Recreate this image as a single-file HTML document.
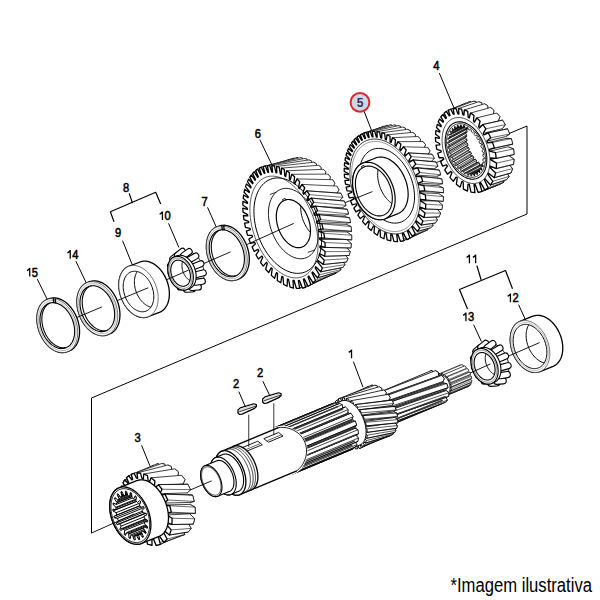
<!DOCTYPE html>
<html><head><meta charset="utf-8"><style>html,body{margin:0;padding:0;background:#fff;}svg{display:block;}</style></head>
<body><svg width="600" height="600" viewBox="0 0 600 600">
<defs><clipPath id="c1"><path d="M474.88,175.43 L474.64,173.41 L475.7,172.99 L476.93,174.6 L477.68,174.16 L477.19,172.12 L478.1,171.39 L479.46,172.74 L480.09,172.08 L479.35,170.08 L480.09,169.08 L481.54,170.13 L482.02,169.27 L481.06,167.38 L481.6,166.14 L483.08,166.85 L483.41,165.82 L482.25,164.11 L482.57,162.66 L484.04,163.01 L484.2,161.85 L482.89,160.37 L482.99,158.77 L484.39,158.74 L484.37,157.49 L482.96,156.29 L482.82,154.6 L484.11,154.19 L483.92,152.89 L482.45,152.02 L482.08,150.29 L483.21,149.52 L482.86,148.21 L481.38,147.7 L480.8,145.99 L481.73,144.88 L481.22,143.61 L479.78,143.47 L479.01,141.84 L479.71,140.44 L479.06,139.25 L477.72,139.48 L476.77,137.98 L477.23,136.33 L476.46,135.26 L475.25,135.87 L474.17,134.55 L474.36,132.71 L473.5,131.8 L472.47,132.75 L471.3,131.67 L471.21,129.69 L470.29,128.97 L469.48,130.24 L468.24,129.42 L467.88,127.39 L466.93,126.88 L466.36,128.42 L465.1,127.9 L464.49,125.86 L463.54,125.59 L463.23,127.35 L462,127.14 L461.15,125.18 L460.23,125.15 L460.19,127.07 L459.03,127.18 L457.97,125.36 L457.12,125.57 L457.36,127.59 L456.3,128.01 L455.07,126.4 L454.32,126.84 L454.81,128.88 L453.9,129.61 L452.54,128.26 L451.91,128.92 L452.65,130.92 L451.91,131.92 L450.46,130.87 L449.98,131.73 L450.94,133.62 L450.4,134.86 L448.92,134.15 L448.59,135.18 L449.75,136.89 L449.43,138.34 L447.96,137.99 L447.8,139.15 L449.11,140.63 L449.01,142.23 L447.61,142.26 L447.63,143.51 L449.04,144.71 L449.18,146.4 L447.89,146.81 L448.08,148.11 L449.55,148.98 L449.92,150.71 L448.79,151.48 L449.14,152.79 L450.62,153.3 L451.2,155.01 L450.27,156.12 L450.78,157.39 L452.22,157.53 L452.99,159.16 L452.29,160.56 L452.94,161.75 L454.28,161.52 L455.23,163.02 L454.77,164.67 L455.54,165.74 L456.75,165.13 L457.83,166.45 L457.64,168.29 L458.5,169.2 L459.53,168.25 L460.7,169.33 L460.79,171.31 L461.71,172.03 L462.52,170.76 L463.76,171.58 L464.12,173.61 L465.07,174.12 L465.64,172.58 L466.9,173.1 L467.51,175.14 L468.46,175.41 L468.77,173.65 L470,173.86 L470.85,175.82 L471.77,175.85 L471.81,173.93 L472.97,173.82 L474.03,175.64Z"/></clipPath><clipPath id="c2"><path d="M383.61,215.1 L384.62,214.64 L385.58,214.07 L386.48,213.4 L387.34,212.64 L388.13,211.79 L388.87,210.84 L389.54,209.82 L390.14,208.71 L390.68,207.52 L391.14,206.27 L391.53,204.95 L391.84,203.56 L392.08,202.13 L392.23,200.65 L392.31,199.12 L392.31,197.57 L392.24,195.98 L392.08,194.37 L391.84,192.75 L391.53,191.12 L391.14,189.49 L390.68,187.87 L390.15,186.25 L389.54,184.66 L388.87,183.1 L388.14,181.57 L387.34,180.08 L386.49,178.64 L385.58,177.25 L384.62,175.92 L383.62,174.66 L382.57,173.46 L381.49,172.34 L380.38,171.3 L379.23,170.34 L378.07,169.47 L376.88,168.7 L375.69,168.02 L374.48,167.43 L373.27,166.95 L372.07,166.57 L370.87,166.3 L369.69,166.13 L368.52,166.07 L367.38,166.12 L366.26,166.27 L365.18,166.53 L364.13,166.89 L363.13,167.35 L362.17,167.92 L361.26,168.59 L360.41,169.35 L359.61,170.2 L358.88,171.15 L358.21,172.17 L357.6,173.28 L357.07,174.47 L356.61,175.72 L356.22,177.05 L355.91,178.43 L355.67,179.86 L355.51,181.34 L355.43,182.87 L355.43,184.42 L355.51,186.01 L355.67,187.62 L355.91,189.24 L356.22,190.87 L356.61,192.5 L357.07,194.13 L357.6,195.74 L358.2,197.33 L358.87,198.89 L359.61,200.42 L360.41,201.91 L361.26,203.35 L362.17,204.74 L363.12,206.07 L364.13,207.34 L365.17,208.53 L366.26,209.65 L367.37,210.69 L368.51,211.65 L369.68,212.52 L370.86,213.29 L372.06,213.97 L373.27,214.56 L374.47,215.04 L375.68,215.42 L376.88,215.69 L378.06,215.86 L379.23,215.92 L380.37,215.87 L381.48,215.72 L382.57,215.46 L383.61,215.1Z"/></clipPath><clipPath id="c3"><path d="M301.95,247.07 L302.9,246.67 L303.81,246.17 L304.67,245.57 L305.49,244.88 L306.25,244.09 L306.96,243.22 L307.61,242.27 L308.2,241.23 L308.73,240.12 L309.19,238.94 L309.58,237.69 L309.91,236.38 L310.16,235.02 L310.34,233.61 L310.45,232.15 L310.49,230.66 L310.45,229.14 L310.34,227.59 L310.16,226.03 L309.91,224.46 L309.58,222.88 L309.19,221.31 L308.72,219.74 L308.2,218.19 L307.61,216.67 L306.95,215.17 L306.24,213.71 L305.48,212.3 L304.66,210.93 L303.8,209.61 L302.89,208.36 L301.94,207.17 L300.95,206.05 L299.93,205 L298.89,204.04 L297.82,203.16 L296.73,202.37 L295.62,201.66 L294.51,201.05 L293.39,200.54 L292.27,200.13 L291.16,199.81 L290.06,199.6 L288.97,199.49 L287.9,199.49 L286.85,199.59 L285.83,199.79 L284.85,200.09 L283.9,200.49 L282.99,200.99 L282.12,201.59 L281.31,202.28 L280.54,203.07 L279.83,203.94 L279.18,204.89 L278.59,205.93 L278.06,207.04 L277.6,208.22 L277.21,209.47 L276.89,210.78 L276.63,212.14 L276.45,213.55 L276.34,215.01 L276.3,216.5 L276.34,218.02 L276.45,219.57 L276.63,221.13 L276.89,222.7 L277.21,224.28 L277.61,225.85 L278.07,227.42 L278.6,228.97 L279.19,230.49 L279.84,231.99 L280.55,233.45 L281.31,234.86 L282.13,236.23 L283,237.55 L283.9,238.8 L284.85,239.99 L285.84,241.11 L286.86,242.15 L287.91,243.12 L288.98,244 L290.07,244.79 L291.17,245.5 L292.28,246.11 L293.4,246.62 L294.52,247.03 L295.63,247.35 L296.74,247.56 L297.83,247.67 L298.9,247.67 L299.94,247.57 L300.96,247.37 L301.95,247.07Z"/></clipPath><clipPath id="c4"><path d="M235.11,276.13 L236.11,275.72 L237.07,275.2 L237.98,274.59 L238.85,273.89 L239.66,273.11 L240.42,272.23 L241.12,271.28 L241.76,270.25 L242.34,269.15 L242.85,267.98 L243.29,266.74 L243.66,265.45 L243.95,264.11 L244.18,262.72 L244.33,261.29 L244.4,259.82 L244.4,258.33 L244.33,256.82 L244.17,255.29 L243.95,253.75 L243.65,252.21 L243.28,250.68 L242.84,249.15 L242.33,247.65 L241.75,246.17 L241.11,244.72 L240.41,243.3 L239.65,241.93 L238.83,240.61 L237.97,239.34 L237.05,238.13 L236.09,236.99 L235.09,235.91 L234.06,234.92 L232.99,234 L231.9,233.16 L230.79,232.41 L229.66,231.74 L228.52,231.17 L227.37,230.7 L226.21,230.32 L225.06,230.04 L223.92,229.86 L222.79,229.78 L221.68,229.8 L220.59,229.92 L219.52,230.14 L218.49,230.47 L217.49,230.88 L216.53,231.4 L215.62,232.01 L214.75,232.71 L213.94,233.49 L213.18,234.37 L212.48,235.32 L211.84,236.35 L211.26,237.45 L210.75,238.62 L210.31,239.86 L209.94,241.15 L209.65,242.49 L209.42,243.88 L209.27,245.31 L209.2,246.78 L209.2,248.27 L209.27,249.78 L209.43,251.31 L209.65,252.85 L209.95,254.39 L210.32,255.92 L210.76,257.45 L211.27,258.95 L211.85,260.43 L212.49,261.88 L213.19,263.3 L213.95,264.67 L214.77,265.99 L215.63,267.26 L216.55,268.47 L217.51,269.61 L218.51,270.69 L219.54,271.68 L220.61,272.6 L221.7,273.44 L222.81,274.19 L223.94,274.86 L225.08,275.43 L226.23,275.9 L227.39,276.28 L228.54,276.56 L229.68,276.74 L230.81,276.82 L231.92,276.8 L233.01,276.68 L234.08,276.46 L235.11,276.13Z"/></clipPath><clipPath id="c5"><path d="M185.44,285.8 L185.99,285.56 L186.52,285.27 L187.02,284.92 L187.49,284.52 L187.94,284.08 L188.35,283.59 L188.73,283.05 L189.07,282.47 L189.38,281.85 L189.66,281.2 L189.89,280.51 L190.08,279.79 L190.23,279.04 L190.34,278.26 L190.41,277.47 L190.44,276.65 L190.43,275.82 L190.37,274.98 L190.27,274.14 L190.13,273.28 L189.95,272.43 L189.73,271.58 L189.47,270.74 L189.17,269.91 L188.84,269.09 L188.47,268.29 L188.06,267.51 L187.63,266.76 L187.16,266.03 L186.67,265.34 L186.15,264.68 L185.6,264.05 L185.04,263.46 L184.45,262.92 L183.85,262.42 L183.24,261.96 L182.61,261.56 L181.98,261.2 L181.34,260.89 L180.7,260.64 L180.05,260.44 L179.41,260.3 L178.77,260.21 L178.15,260.17 L177.53,260.2 L176.92,260.28 L176.33,260.41 L175.76,260.6 L175.21,260.84 L174.68,261.13 L174.18,261.48 L173.71,261.88 L173.26,262.32 L172.85,262.81 L172.47,263.35 L172.13,263.93 L171.82,264.55 L171.54,265.2 L171.31,265.89 L171.12,266.61 L170.97,267.36 L170.86,268.14 L170.79,268.93 L170.76,269.75 L170.77,270.58 L170.83,271.42 L170.93,272.26 L171.07,273.12 L171.25,273.97 L171.47,274.82 L171.73,275.66 L172.03,276.49 L172.36,277.31 L172.73,278.11 L173.14,278.89 L173.57,279.64 L174.04,280.37 L174.53,281.06 L175.05,281.72 L175.6,282.35 L176.16,282.94 L176.75,283.48 L177.35,283.98 L177.96,284.44 L178.59,284.84 L179.22,285.2 L179.86,285.51 L180.5,285.76 L181.15,285.96 L181.79,286.1 L182.43,286.19 L183.05,286.23 L183.67,286.2 L184.28,286.12 L184.87,285.99 L185.44,285.8Z"/></clipPath><clipPath id="c6"><path d="M146.03,311.11 L146.88,310.73 L147.7,310.27 L148.48,309.73 L149.22,309.11 L149.91,308.42 L150.55,307.65 L151.15,306.82 L151.68,305.92 L152.16,304.96 L152.59,303.94 L152.95,302.87 L153.25,301.74 L153.49,300.58 L153.66,299.37 L153.77,298.14 L153.81,296.87 L153.79,295.58 L153.7,294.27 L153.54,292.96 L153.33,291.63 L153.04,290.31 L152.7,288.99 L152.3,287.68 L151.83,286.38 L151.31,285.11 L150.74,283.87 L150.11,282.66 L149.43,281.48 L148.7,280.35 L147.94,279.27 L147.13,278.24 L146.28,277.27 L145.4,276.35 L144.5,275.51 L143.56,274.73 L142.61,274.02 L141.63,273.39 L140.65,272.83 L139.65,272.36 L138.65,271.96 L137.65,271.65 L136.65,271.43 L135.66,271.29 L134.68,271.24 L133.72,271.27 L132.78,271.39 L131.86,271.6 L130.97,271.89 L130.12,272.27 L129.3,272.73 L128.52,273.27 L127.78,273.89 L127.09,274.58 L126.45,275.35 L125.85,276.18 L125.32,277.08 L124.84,278.04 L124.41,279.06 L124.05,280.13 L123.75,281.26 L123.51,282.42 L123.34,283.63 L123.23,284.86 L123.19,286.13 L123.21,287.42 L123.3,288.73 L123.46,290.04 L123.67,291.37 L123.96,292.69 L124.3,294.01 L124.7,295.32 L125.17,296.62 L125.69,297.89 L126.26,299.13 L126.89,300.34 L127.57,301.52 L128.3,302.65 L129.06,303.73 L129.87,304.76 L130.72,305.73 L131.6,306.65 L132.5,307.49 L133.44,308.27 L134.39,308.98 L135.37,309.61 L136.35,310.17 L137.35,310.64 L138.35,311.04 L139.35,311.35 L140.35,311.57 L141.34,311.71 L142.32,311.76 L143.28,311.73 L144.22,311.61 L145.14,311.4 L146.03,311.11Z"/></clipPath><clipPath id="c7"><path d="M105.83,330.92 L106.8,330.49 L107.73,329.97 L108.61,329.36 L109.45,328.66 L110.23,327.88 L110.96,327.01 L111.63,326.06 L112.24,325.04 L112.79,323.95 L113.26,322.8 L113.67,321.58 L114.01,320.31 L114.28,318.99 L114.48,317.62 L114.6,316.22 L114.65,314.79 L114.62,313.33 L114.52,311.84 L114.35,310.35 L114.1,308.85 L113.78,307.35 L113.39,305.85 L112.93,304.37 L112.41,302.9 L111.82,301.46 L111.17,300.05 L110.45,298.68 L109.69,297.35 L108.87,296.07 L107.99,294.84 L107.08,293.67 L106.12,292.57 L105.12,291.53 L104.09,290.57 L103.04,289.69 L101.95,288.89 L100.85,288.17 L99.73,287.54 L98.6,287 L97.47,286.56 L96.33,286.21 L95.2,285.95 L94.08,285.8 L92.97,285.74 L91.88,285.78 L90.82,285.91 L89.78,286.15 L88.77,286.48 L87.8,286.91 L86.87,287.43 L85.99,288.04 L85.15,288.74 L84.37,289.52 L83.64,290.39 L82.97,291.34 L82.36,292.36 L81.81,293.45 L81.34,294.6 L80.93,295.82 L80.59,297.09 L80.32,298.41 L80.12,299.78 L80,301.18 L79.95,302.61 L79.98,304.07 L80.08,305.56 L80.25,307.05 L80.5,308.55 L80.82,310.05 L81.21,311.55 L81.67,313.03 L82.19,314.5 L82.78,315.94 L83.43,317.35 L84.15,318.72 L84.91,320.05 L85.73,321.33 L86.61,322.56 L87.52,323.73 L88.48,324.83 L89.48,325.87 L90.51,326.83 L91.56,327.71 L92.65,328.51 L93.75,329.23 L94.87,329.86 L96,330.4 L97.13,330.84 L98.27,331.19 L99.4,331.45 L100.52,331.6 L101.63,331.66 L102.72,331.62 L103.78,331.49 L104.82,331.25 L105.83,330.92Z"/></clipPath><clipPath id="c8"><path d="M65.83,347.82 L66.8,347.39 L67.73,346.87 L68.61,346.26 L69.45,345.56 L70.23,344.78 L70.96,343.91 L71.63,342.96 L72.24,341.94 L72.79,340.85 L73.26,339.7 L73.67,338.48 L74.01,337.21 L74.28,335.89 L74.48,334.52 L74.6,333.12 L74.65,331.69 L74.62,330.23 L74.52,328.74 L74.35,327.25 L74.1,325.75 L73.78,324.25 L73.39,322.75 L72.93,321.27 L72.41,319.8 L71.82,318.36 L71.17,316.95 L70.45,315.58 L69.69,314.25 L68.87,312.97 L67.99,311.74 L67.08,310.57 L66.12,309.47 L65.12,308.43 L64.09,307.47 L63.04,306.59 L61.95,305.79 L60.85,305.07 L59.73,304.44 L58.6,303.9 L57.47,303.46 L56.33,303.11 L55.2,302.85 L54.08,302.7 L52.97,302.64 L51.88,302.68 L50.82,302.81 L49.78,303.05 L48.77,303.38 L47.8,303.81 L46.87,304.33 L45.99,304.94 L45.15,305.64 L44.37,306.42 L43.64,307.29 L42.97,308.24 L42.36,309.26 L41.81,310.35 L41.34,311.5 L40.93,312.72 L40.59,313.99 L40.32,315.31 L40.12,316.68 L40,318.08 L39.95,319.51 L39.98,320.97 L40.08,322.46 L40.25,323.95 L40.5,325.45 L40.82,326.95 L41.21,328.45 L41.67,329.93 L42.19,331.4 L42.78,332.84 L43.43,334.25 L44.15,335.62 L44.91,336.95 L45.73,338.23 L46.61,339.46 L47.52,340.63 L48.48,341.73 L49.48,342.77 L50.51,343.73 L51.56,344.61 L52.65,345.41 L53.75,346.13 L54.87,346.76 L56,347.3 L57.13,347.74 L58.27,348.09 L59.4,348.35 L60.52,348.5 L61.63,348.56 L62.72,348.52 L63.78,348.39 L64.82,348.15 L65.83,347.82Z"/></clipPath><clipPath id="c9"><path d="M538.62,367.83 L539.55,367.4 L540.44,366.88 L541.28,366.27 L542.08,365.58 L542.82,364.81 L543.51,363.96 L544.14,363.03 L544.71,362.04 L545.22,360.98 L545.66,359.85 L546.04,358.67 L546.35,357.44 L546.58,356.16 L546.75,354.83 L546.84,353.48 L546.87,352.09 L546.82,350.68 L546.69,349.25 L546.5,347.81 L546.24,346.36 L545.9,344.91 L545.5,343.47 L545.03,342.05 L544.5,340.64 L543.91,339.26 L543.25,337.91 L542.54,336.59 L541.78,335.32 L540.96,334.1 L540.1,332.93 L539.19,331.81 L538.25,330.76 L537.27,329.78 L536.26,328.87 L535.22,328.03 L534.16,327.28 L533.08,326.6 L531.99,326.01 L530.89,325.51 L529.79,325.1 L528.69,324.78 L527.59,324.56 L526.5,324.42 L525.43,324.39 L524.38,324.44 L523.35,324.59 L522.35,324.84 L521.38,325.17 L520.45,325.6 L519.56,326.12 L518.72,326.73 L517.92,327.42 L517.18,328.19 L516.49,329.04 L515.86,329.97 L515.29,330.96 L514.78,332.02 L514.34,333.15 L513.96,334.33 L513.65,335.56 L513.42,336.84 L513.25,338.17 L513.16,339.52 L513.13,340.91 L513.18,342.32 L513.31,343.75 L513.5,345.19 L513.76,346.64 L514.1,348.09 L514.5,349.53 L514.97,350.95 L515.5,352.36 L516.09,353.74 L516.75,355.09 L517.46,356.41 L518.22,357.68 L519.04,358.9 L519.9,360.07 L520.81,361.19 L521.75,362.24 L522.73,363.22 L523.74,364.13 L524.78,364.97 L525.84,365.72 L526.92,366.4 L528.01,366.99 L529.11,367.49 L530.21,367.9 L531.31,368.22 L532.41,368.44 L533.5,368.58 L534.57,368.61 L535.62,368.56 L536.65,368.41 L537.65,368.16 L538.62,367.83Z"/></clipPath><clipPath id="c10"><path d="M489.96,379.56 L490.54,379.29 L491.09,378.97 L491.61,378.59 L492.11,378.16 L492.57,377.68 L493,377.16 L493.39,376.58 L493.75,375.96 L494.06,375.3 L494.34,374.6 L494.57,373.87 L494.76,373.1 L494.91,372.3 L495.01,371.48 L495.07,370.64 L495.09,369.77 L495.06,368.9 L494.98,368.01 L494.86,367.11 L494.7,366.21 L494.49,365.31 L494.24,364.42 L493.95,363.53 L493.62,362.66 L493.25,361.8 L492.84,360.96 L492.4,360.14 L491.92,359.35 L491.42,358.59 L490.88,357.86 L490.32,357.17 L489.73,356.52 L489.12,355.91 L488.49,355.34 L487.85,354.82 L487.19,354.35 L486.52,353.93 L485.84,353.56 L485.15,353.25 L484.47,353 L483.78,352.8 L483.1,352.66 L482.43,352.57 L481.76,352.55 L481.1,352.59 L480.47,352.68 L479.84,352.83 L479.24,353.04 L478.66,353.31 L478.11,353.63 L477.59,354.01 L477.09,354.44 L476.63,354.92 L476.2,355.44 L475.81,356.02 L475.45,356.64 L475.14,357.3 L474.86,358 L474.63,358.73 L474.44,359.5 L474.29,360.3 L474.19,361.12 L474.13,361.96 L474.11,362.83 L474.14,363.7 L474.22,364.59 L474.34,365.49 L474.5,366.39 L474.71,367.29 L474.96,368.18 L475.25,369.07 L475.58,369.94 L475.95,370.8 L476.36,371.64 L476.8,372.46 L477.28,373.25 L477.78,374.01 L478.32,374.74 L478.88,375.43 L479.47,376.08 L480.08,376.69 L480.71,377.26 L481.35,377.78 L482.01,378.25 L482.68,378.67 L483.36,379.04 L484.05,379.35 L484.73,379.6 L485.42,379.8 L486.1,379.94 L486.77,380.03 L487.44,380.05 L488.1,380.01 L488.73,379.92 L489.36,379.77 L489.96,379.56Z"/></clipPath><clipPath id="c11"><path d="M139.73,539.29 L138.61,534.88 L140.02,534.02 L142.68,537.5 L143.5,536.72 L141.59,532.52 L142.62,531.03 L145.66,533.61 L146.2,532.44 L143.65,528.79 L144.23,526.79 L147.4,528.25 L147.61,526.79 L144.64,523.99 L144.7,521.64 L147.75,521.87 L147.62,520.24 L144.46,518.52 L144.01,516 L146.69,514.98 L146.23,513.31 L143.13,512.8 L142.21,510.33 L144.3,508.14 L143.55,506.57 L140.77,507.32 L139.45,505.09 L140.78,501.9 L139.79,500.55 L137.56,502.5 L135.94,500.7 L136.4,496.78 L135.27,495.76 L133.75,498.75 L131.97,497.51 L131.54,493.18 L130.34,492.58 L129.67,496.36 L127.87,495.79 L126.57,491.39 L125.41,491.26 L125.64,495.53 L123.97,495.68 L121.9,491.57 L120.87,491.91 L121.99,496.32 L120.58,497.18 L117.92,493.7 L117.1,494.48 L119.01,498.68 L117.98,500.17 L114.94,497.59 L114.4,498.76 L116.95,502.41 L116.37,504.41 L113.2,502.95 L112.99,504.41 L115.96,507.21 L115.9,509.56 L112.85,509.33 L112.98,510.96 L116.14,512.68 L116.59,515.2 L113.91,516.22 L114.37,517.89 L117.47,518.4 L118.39,520.87 L116.3,523.06 L117.05,524.63 L119.83,523.88 L121.15,526.11 L119.82,529.3 L120.81,530.65 L123.04,528.7 L124.66,530.5 L124.2,534.42 L125.33,535.44 L126.85,532.45 L128.63,533.69 L129.06,538.02 L130.26,538.62 L130.93,534.84 L132.73,535.41 L134.03,539.81 L135.19,539.94 L134.96,535.67 L136.63,535.52 L138.7,539.63Z"/></clipPath></defs>
<rect width="600" height="600" fill="#fff"/>
<g font-family="Liberation Sans, sans-serif">
<path d="M508,134 L527,126 L527,214 L91.5,398 L91.5,533" fill="none" stroke="#000" stroke-width="1.0" stroke-linejoin="round" />
<path d="M490.93,177.34 L493.64,185.48 L497.51,185 L495.55,176.77 L496.58,176.23 L500.63,183.96 L503.99,182 L500.58,173.91 L501.44,173.06 L506.56,179.72 L509.15,176.39 L504.51,169.11 L505.18,167.97 L510.96,173.04 L512.59,168.59 L507.11,162.68 L507.54,161.31 L513.53,164.42 L514.09,159.19 L508.21,155.07 L508.4,153.51 L514.11,154.53 L513.61,148.93 L507.8,146.78 L507.72,145.11 L512.76,144.13 L511.3,138.57 L505.95,138.36 L505.61,136.64 L509.7,133.96 L507.45,128.79 L502.86,130.31 L502.28,128.65 L505.27,124.64 L502.45,120.14 L498.79,123.07 L498,121.57 L499.88,116.64 L496.7,112.98 L494.03,116.98 L493.09,115.71 L493.91,110.26 L490.59,107.52 L488.89,112.25 L487.87,111.26 L487.75,105.6 L484.44,103.81 L483.65,108.98 L482.61,108.3 L481.68,102.67 L478.52,101.78 L478.55,107.15 L477.53,106.79 L475.92,101.38 L473,101.31 L473.76,106.7 L472.81,106.64 L470.64,101.58 L468.02,102.26 L469.41,107.52 L468.57,107.75 L465.93,103.13 L463.65,104.48 L465.6,109.51 L464.89,110 L461.86,105.89 L459.95,107.85 L462.4,112.55 L461.84,113.28 L458.49,109.76 L456.97,112.28 L459.86,116.57 L459.47,117.51 L455.87,114.65 L454.79,117.69 L458.06,121.47 L457.86,122.59 L454.06,120.49 L453.46,124.01 L457.07,127.16 L457.07,128.44 L453.17,127.2 L453.09,131.15 L456.98,133.55 L457.19,134.94 L453.28,134.67 L453.79,138.98 L457.86,140.48 L458.31,141.91 L454.5,142.76 L455.67,147.3 L459.79,147.71 L460.46,149.14 L456.94,151.22 L458.78,155.82 L462.8,154.97 L463.68,156.29 L460.65,159.71 L463.17,164.16 L466.85,161.87 L467.91,163.01 L465.6,167.8 L468.76,171.82 L471.83,167.99 L473.02,168.86 L471.68,174.96 L475.36,178.25 L477.53,172.9 L478.77,173.44 L478.65,180.64 L482.66,182.89 L483.63,176.17 L484.86,176.36 L486.13,184.29 L490.21,185.26 L489.77,177.52Z" fill="#fff" stroke="#000" stroke-width="0.75" stroke-linejoin="round" />
<path d="M440.33,138.7 L440.42,136.54 L440.61,134.45 L440.92,132.42 L441.33,130.47 L441.85,128.6 L442.47,126.83 L443.19,125.16 L444.01,123.59 L444.92,122.15 L445.93,120.82 L447.02,119.62 L448.19,118.56 L449.44,117.63 L450.76,116.84 L452.14,116.19 L470.07,108.95 L471.53,108.49 L473.04,108.17 L474.59,108.01 L476.18,108 L477.8,108.13 L479.45,108.42 L481.12,108.86 L482.79,109.45 L484.47,110.18 L486.15,111.06 L487.81,112.07 L489.46,113.22 L491.08,114.49 L492.68,115.89 L494.23,117.41 L495.73,119.04 L497.19,120.77 L498.58,122.6 L499.92,124.52 L501.18,126.52 L502.37,128.59 L503.47,130.73 L504.5,132.92 L505.43,135.15 L506.27,137.42 L507.01,139.72 L507.65,142.03 L508.19,144.34 L508.62,146.65 L508.95,148.95 L509.17,151.23 L509.28,153.47 L509.28,155.67 L509.17,157.81 L508.95,159.89 L508.62,161.91 L508.18,163.84 L507.64,165.69 L507,167.44 L506.25,169.08 L505.41,170.62 L504.48,172.04 L503.45,173.34 L502.35,174.51 L501.16,175.54 L499.89,176.44 L498.56,177.2 L497.16,177.81 L479.86,184.81 L478.42,185.3 L476.92,185.65 L475.38,185.85 L473.79,185.9 L472.18,185.79 L470.54,185.54 L468.87,185.13 L467.2,184.58 L465.52,183.88 L463.84,183.03 L462.17,182.05 L460.52,180.93 L458.89,179.69 L457.29,178.31 L455.73,176.82 L454.21,175.22 L452.75,173.5 L451.34,171.7 L449.99,169.8 L448.71,167.81 L447.51,165.76 L446.38,163.63 L445.34,161.46 L444.39,159.23 L443.53,156.97 L442.76,154.68 L442.1,152.37 L441.54,150.06 L441.08,147.74 L440.73,145.44 L440.49,143.16 L440.35,140.91Z" fill="#fff" stroke="none" stroke-linejoin="round" />
<path d="M440.9,116.9L442.6,114.7L461.9,105.9L464.9,110.0L462.4,112.6L443.5,121.4Z" fill="#fff" stroke="#000" stroke-width="0.75" stroke-linejoin="round"/>
<path d="M442.6,114.7L461.9,105.9" fill="none" stroke="#000" stroke-width="0.6000000000000001"/>
<path d="M440.9,116.9L459.9,107.9" fill="none" stroke="#000" stroke-width="0.6000000000000001"/>
<path d="M444.2,113.0L446.4,111.4L465.9,103.1L468.6,107.8L465.6,109.5L446.5,117.9Z" fill="#fff" stroke="#000" stroke-width="0.75" stroke-linejoin="round"/>
<path d="M475.2,184.4L490.9,177.3L495.6,176.8L497.5,185.0L482.0,191.5L478.3,192.4Z" fill="#fff" stroke="#000" stroke-width="0.75" stroke-linejoin="round"/>
<path d="M478.3,192.4L493.6,185.5" fill="none" stroke="#000" stroke-width="0.6000000000000001"/>
<path d="M482.0,191.5L497.5,185.0" fill="none" stroke="#000" stroke-width="0.6000000000000001"/>
<path d="M448.4,110.2L468.0,102.3L470.6,101.6L472.8,106.6L450.0,115.5Z" fill="#fff" stroke="#000" stroke-width="0.75" stroke-linejoin="round"/>
<path d="M480.6,182.6L484.3,179.8L500.6,173.9L504.0,182.0L500.6,184.0L485.0,190.0Z" fill="#fff" stroke="#000" stroke-width="0.75" stroke-linejoin="round"/>
<path d="M485.0,190.0L500.6,184.0" fill="none" stroke="#000" stroke-width="0.6000000000000001"/>
<path d="M488.1,187.7L504.0,182.0" fill="none" stroke="#000" stroke-width="0.6000000000000001"/>
<path d="M453.1,108.7L473.0,101.3L475.9,101.4L477.5,106.8L457.9,113.8L454.2,114.1Z" fill="#fff" stroke="#000" stroke-width="0.75" stroke-linejoin="round"/>
<path d="M485.1,178.8L487.8,174.4L504.5,169.1L509.1,176.4L506.6,179.7L490.5,185.0Z" fill="#fff" stroke="#000" stroke-width="0.75" stroke-linejoin="round"/>
<path d="M490.5,185.0L506.6,179.7" fill="none" stroke="#000" stroke-width="0.6000000000000001"/>
<path d="M492.8,181.3L509.1,176.4" fill="none" stroke="#000" stroke-width="0.6000000000000001"/>
<path d="M458.5,108.5L478.5,101.8L481.7,102.7L482.6,108.3L462.9,114.7L458.9,114.0Z" fill="#fff" stroke="#000" stroke-width="0.75" stroke-linejoin="round"/>
<path d="M463.9,115.3L464.4,109.9L484.4,103.8L487.7,105.6L487.9,111.3L468.2,117.1Z" fill="#fff" stroke="#000" stroke-width="0.75" stroke-linejoin="round"/>
<path d="M488.4,173.2L490.0,167.5L507.1,162.7L512.6,168.6L511.0,173.0L494.3,177.7Z" fill="#fff" stroke="#000" stroke-width="0.75" stroke-linejoin="round"/>
<path d="M494.3,177.7L511.0,173.0" fill="none" stroke="#000" stroke-width="0.6000000000000001"/>
<path d="M495.7,172.9L512.6,168.6" fill="none" stroke="#000" stroke-width="0.6000000000000001"/>
<path d="M469.2,118.0L470.6,113.0L490.6,107.5L493.9,110.3L493.1,115.7L473.5,121.1Z" fill="#fff" stroke="#000" stroke-width="0.75" stroke-linejoin="round"/>
<path d="M490.3,166.1L490.6,159.6L508.2,155.1L514.1,159.2L513.5,164.4L496.3,168.6Z" fill="#fff" stroke="#000" stroke-width="0.75" stroke-linejoin="round"/>
<path d="M496.3,168.6L513.5,164.4" fill="none" stroke="#000" stroke-width="0.6000000000000001"/>
<path d="M496.5,163.1L514.1,159.2" fill="none" stroke="#000" stroke-width="0.6000000000000001"/>
<path d="M474.5,122.3L476.8,117.9L496.7,113.0L499.9,116.6L498.0,121.6L478.6,126.5Z" fill="#fff" stroke="#000" stroke-width="0.75" stroke-linejoin="round"/>
<path d="M489.7,151.2L507.8,146.8L513.6,148.9L514.1,154.5L496.3,158.4L490.7,158.0Z" fill="#fff" stroke="#000" stroke-width="0.75" stroke-linejoin="round"/>
<path d="M496.3,158.4L514.1,154.5" fill="none" stroke="#000" stroke-width="0.6000000000000001"/>
<path d="M495.4,152.7L513.6,148.9" fill="none" stroke="#000" stroke-width="0.6000000000000001"/>
<path d="M479.5,128.0L482.9,124.5L502.5,120.1L505.3,124.6L502.3,128.7L483.2,133.3Z" fill="#fff" stroke="#000" stroke-width="0.75" stroke-linejoin="round"/>
<path d="M485.9,128.8L505.3,124.6" fill="none" stroke="#000" stroke-width="0.6000000000000001"/>
<path d="M482.9,124.5L502.5,120.1" fill="none" stroke="#000" stroke-width="0.6000000000000001"/>
<path d="M487.4,142.8L506.0,138.4L511.3,138.6L512.8,144.1L489.5,149.5Z" fill="#fff" stroke="#000" stroke-width="0.75" stroke-linejoin="round"/>
<path d="M494.3,147.9L512.8,144.1" fill="none" stroke="#000" stroke-width="0.6000000000000001"/>
<path d="M492.6,142.4L511.3,138.6" fill="none" stroke="#000" stroke-width="0.6000000000000001"/>
<path d="M483.9,134.9L488.2,132.8L507.5,128.8L509.7,134.0L505.6,136.6L486.9,141.1Z" fill="#fff" stroke="#000" stroke-width="0.75" stroke-linejoin="round"/>
<path d="M490.7,137.8L509.7,134.0" fill="none" stroke="#000" stroke-width="0.6000000000000001"/>
<path d="M488.2,132.8L507.5,128.8" fill="none" stroke="#000" stroke-width="0.6000000000000001"/>
<path d="M475.17,184.4 L478.29,192.41 L482.02,191.47 L479.62,183.28 L480.58,182.61 L484.98,190.05 L488.13,187.65 L484.32,179.77 L485.1,178.8 L490.48,185.03 L492.79,181.32 L487.85,174.4 L488.42,173.16 L494.34,177.68 L495.65,172.93 L489.97,167.53 L490.31,166.07 L496.3,168.56 L496.53,163.14 L490.58,159.61 L490.66,157.99 L496.26,158.37 L495.44,152.69 L489.67,151.17 L489.49,149.46 L494.32,147.88 L492.56,142.36 L487.37,142.76 L486.93,141.05 L490.73,137.83 L488.24,132.8 L483.87,134.88 L483.21,133.26 L485.87,128.81 L482.85,124.52 L479.48,127.95 L478.62,126.51 L480.14,121.25 L476.84,117.87 L474.49,122.27 L473.5,121.08 L473.97,115.4 L470.57,112.99 L469.21,118.03 L468.16,117.14 L467.7,111.36 L464.38,109.91 L463.93,115.29 L462.88,114.71 L461.63,109.06 L458.51,108.52 L458.87,114.01 L457.86,113.75 L455.97,108.41 L453.13,108.68 L454.19,114.1 L453.27,114.15 L450.85,109.23 L448.35,110.22 L450.03,115.45 L449.23,115.78 L446.38,111.36 L444.25,113.01 L446.45,117.93 L445.79,118.51 L442.6,114.66 L440.87,116.89 L443.53,121.41 L443.03,122.23 L439.56,119.01 L438.25,121.76 L441.32,125.82 L440.99,126.82 L437.32,124.32 L436.46,127.55 L439.87,131.04 L439.74,132.21 L435.93,130.5 L435.56,134.17 L439.26,136.98 L439.33,138.29 L435.47,137.47 L435.64,141.52 L439.55,143.53 L439.85,144.93 L436.03,145.11 L436.8,149.45 L440.83,150.52 L441.35,151.94 L437.72,153.24 L439.12,157.75 L443.15,157.7 L443.89,159.08 L440.6,161.61 L442.67,166.12 L446.51,164.78 L447.45,166.03 L444.71,169.88 L447.43,174.14 L450.87,171.37 L451.96,172.41 L450.01,177.58 L453.32,181.32 L456.07,177.06 L457.27,177.81 L456.35,184.2 L460.12,187.14 L461.9,181.41 L463.13,181.82 L463.46,189.2 L467.48,191.04 L468.02,184.06 L469.22,184.1 L470.94,192.07 L474.96,192.59 L474.06,184.72Z" fill="#fff" stroke="#000" stroke-width="1.3" stroke-linejoin="round" />
<path d="M478.92,182.49 L480.21,181.89 L481.44,181.15 L482.61,180.28 L483.7,179.29 L484.72,178.17 L485.65,176.94 L486.5,175.59 L487.27,174.13 L487.94,172.57 L488.52,170.92 L489,169.18 L489.39,167.36 L489.67,165.47 L489.86,163.51 L489.94,161.5 L489.91,159.44 L489.79,157.35 L489.56,155.22 L489.24,153.07 L488.81,150.91 L488.29,148.75 L487.67,146.6 L486.95,144.47 L486.15,142.36 L485.26,140.28 L484.29,138.25 L483.24,136.27 L482.12,134.36 L480.93,132.51 L479.67,130.74 L478.36,129.05 L476.99,127.45 L475.58,125.96 L474.12,124.57 L472.63,123.29 L471.11,122.12 L469.57,121.08 L468.01,120.17 L466.45,119.38 L464.88,118.73 L463.32,118.21 L461.77,117.83 L460.24,117.59 L458.73,117.49 L457.26,117.54 L455.82,117.72 L454.42,118.05 L453.08,118.51 L451.79,119.11 L450.56,119.85 L449.39,120.72 L448.3,121.71 L447.28,122.83 L446.35,124.06 L445.5,125.41 L444.73,126.87 L444.06,128.43 L443.48,130.08 L443,131.82 L442.61,133.64 L442.33,135.53 L442.14,137.49 L442.06,139.5 L442.09,141.56 L442.21,143.65 L442.44,145.78 L442.76,147.93 L443.19,150.09 L443.71,152.25 L444.33,154.4 L445.05,156.53 L445.85,158.64 L446.74,160.72 L447.71,162.75 L448.76,164.73 L449.88,166.64 L451.07,168.49 L452.33,170.26 L453.64,171.95 L455.01,173.55 L456.42,175.04 L457.88,176.43 L459.37,177.71 L460.89,178.88 L462.43,179.92 L463.99,180.83 L465.55,181.62 L467.12,182.27 L468.68,182.79 L470.23,183.17 L471.76,183.41 L473.27,183.51 L474.74,183.46 L476.18,183.28 L477.58,182.95 L478.92,182.49Z" fill="none" stroke="#000" stroke-width="0.7" stroke-linejoin="round" />
<path d="M477.24,178.32 L478.36,177.79 L479.43,177.15 L480.44,176.4 L481.39,175.54 L482.27,174.56 L483.09,173.49 L483.83,172.32 L484.49,171.05 L485.08,169.69 L485.58,168.26 L486,166.74 L486.34,165.16 L486.58,163.52 L486.74,161.82 L486.81,160.07 L486.8,158.28 L486.69,156.45 L486.49,154.6 L486.21,152.74 L485.84,150.86 L485.38,148.98 L484.84,147.11 L484.22,145.25 L483.52,143.42 L482.75,141.62 L481.91,139.85 L480.99,138.13 L480.02,136.46 L478.98,134.85 L477.89,133.31 L476.75,131.85 L475.56,130.46 L474.33,129.16 L473.06,127.95 L471.77,126.84 L470.44,125.83 L469.1,124.92 L467.75,124.12 L466.39,123.44 L465.03,122.87 L463.67,122.42 L462.32,122.09 L460.99,121.88 L459.68,121.8 L458.4,121.84 L457.15,122 L455.93,122.28 L454.76,122.68 L453.64,123.21 L452.57,123.85 L451.56,124.6 L450.61,125.46 L449.73,126.44 L448.91,127.51 L448.17,128.68 L447.51,129.95 L446.92,131.31 L446.42,132.74 L446,134.26 L445.66,135.84 L445.42,137.48 L445.26,139.18 L445.19,140.93 L445.2,142.72 L445.31,144.55 L445.51,146.4 L445.79,148.26 L446.16,150.14 L446.62,152.02 L447.16,153.89 L447.78,155.75 L448.48,157.58 L449.25,159.38 L450.09,161.15 L451.01,162.87 L451.98,164.54 L453.02,166.15 L454.11,167.69 L455.25,169.15 L456.44,170.54 L457.67,171.84 L458.94,173.05 L460.23,174.16 L461.56,175.17 L462.9,176.08 L464.25,176.88 L465.61,177.56 L466.97,178.13 L468.33,178.58 L469.68,178.91 L471.01,179.12 L472.32,179.2 L473.6,179.16 L474.85,179 L476.07,178.72 L477.24,178.32Z" fill="#fff" stroke="#000" stroke-width="1.1" stroke-linejoin="round" />
<path d="M476.49,176.46 L477.54,175.97 L478.53,175.38 L479.48,174.67 L480.36,173.87 L481.19,172.96 L481.95,171.96 L482.64,170.86 L483.26,169.68 L483.81,168.41 L484.28,167.07 L484.67,165.66 L484.98,164.18 L485.21,162.65 L485.36,161.06 L485.43,159.43 L485.41,157.76 L485.31,156.06 L485.12,154.33 L484.86,152.59 L484.51,150.84 L484.09,149.08 L483.58,147.34 L483.01,145.6 L482.36,143.89 L481.63,142.21 L480.85,140.56 L479.99,138.95 L479.08,137.4 L478.12,135.9 L477.1,134.46 L476.03,133.09 L474.92,131.8 L473.77,130.58 L472.59,129.45 L471.38,128.41 L470.15,127.47 L468.9,126.62 L467.64,125.88 L466.37,125.24 L465.09,124.71 L463.83,124.29 L462.57,123.99 L461.32,123.79 L460.1,123.71 L458.9,123.75 L457.74,123.9 L456.6,124.16 L455.51,124.54 L454.46,125.03 L453.47,125.62 L452.52,126.33 L451.64,127.13 L450.81,128.04 L450.05,129.04 L449.36,130.14 L448.74,131.32 L448.19,132.59 L447.72,133.93 L447.33,135.34 L447.02,136.82 L446.79,138.35 L446.64,139.94 L446.57,141.57 L446.59,143.24 L446.69,144.94 L446.88,146.67 L447.14,148.41 L447.49,150.16 L447.91,151.92 L448.42,153.66 L448.99,155.4 L449.64,157.11 L450.37,158.79 L451.15,160.44 L452.01,162.05 L452.92,163.6 L453.88,165.1 L454.9,166.54 L455.97,167.91 L457.08,169.2 L458.23,170.42 L459.41,171.55 L460.62,172.59 L461.85,173.53 L463.1,174.38 L464.36,175.12 L465.63,175.76 L466.91,176.29 L468.17,176.71 L469.43,177.01 L470.68,177.21 L471.9,177.29 L473.1,177.25 L474.26,177.1 L475.4,176.84 L476.49,176.46Z" fill="none" stroke="#000" stroke-width="0.8" stroke-linejoin="round" />
<path d="M474.88,175.43 L474.64,173.41 L475.7,172.99 L476.93,174.6 L477.68,174.16 L477.19,172.12 L478.1,171.39 L479.46,172.74 L480.09,172.08 L479.35,170.08 L480.09,169.08 L481.54,170.13 L482.02,169.27 L481.06,167.38 L481.6,166.14 L483.08,166.85 L483.41,165.82 L482.25,164.11 L482.57,162.66 L484.04,163.01 L484.2,161.85 L482.89,160.37 L482.99,158.77 L484.39,158.74 L484.37,157.49 L482.96,156.29 L482.82,154.6 L484.11,154.19 L483.92,152.89 L482.45,152.02 L482.08,150.29 L483.21,149.52 L482.86,148.21 L481.38,147.7 L480.8,145.99 L481.73,144.88 L481.22,143.61 L479.78,143.47 L479.01,141.84 L479.71,140.44 L479.06,139.25 L477.72,139.48 L476.77,137.98 L477.23,136.33 L476.46,135.26 L475.25,135.87 L474.17,134.55 L474.36,132.71 L473.5,131.8 L472.47,132.75 L471.3,131.67 L471.21,129.69 L470.29,128.97 L469.48,130.24 L468.24,129.42 L467.88,127.39 L466.93,126.88 L466.36,128.42 L465.1,127.9 L464.49,125.86 L463.54,125.59 L463.23,127.35 L462,127.14 L461.15,125.18 L460.23,125.15 L460.19,127.07 L459.03,127.18 L457.97,125.36 L457.12,125.57 L457.36,127.59 L456.3,128.01 L455.07,126.4 L454.32,126.84 L454.81,128.88 L453.9,129.61 L452.54,128.26 L451.91,128.92 L452.65,130.92 L451.91,131.92 L450.46,130.87 L449.98,131.73 L450.94,133.62 L450.4,134.86 L448.92,134.15 L448.59,135.18 L449.75,136.89 L449.43,138.34 L447.96,137.99 L447.8,139.15 L449.11,140.63 L449.01,142.23 L447.61,142.26 L447.63,143.51 L449.04,144.71 L449.18,146.4 L447.89,146.81 L448.08,148.11 L449.55,148.98 L449.92,150.71 L448.79,151.48 L449.14,152.79 L450.62,153.3 L451.2,155.01 L450.27,156.12 L450.78,157.39 L452.22,157.53 L452.99,159.16 L452.29,160.56 L452.94,161.75 L454.28,161.52 L455.23,163.02 L454.77,164.67 L455.54,165.74 L456.75,165.13 L457.83,166.45 L457.64,168.29 L458.5,169.2 L459.53,168.25 L460.7,169.33 L460.79,171.31 L461.71,172.03 L462.52,170.76 L463.76,171.58 L464.12,173.61 L465.07,174.12 L465.64,172.58 L466.9,173.1 L467.51,175.14 L468.46,175.41 L468.77,173.65 L470,173.86 L470.85,175.82 L471.77,175.85 L471.81,173.93 L472.97,173.82 L474.03,175.64Z" fill="#fff" stroke="#000" stroke-width="0.8" stroke-linejoin="round" />
<g clip-path="url(#c1)">
<line x1="474.88" y1="175.43" x2="490.5" y2="168.69" stroke="#000" stroke-width="0.7" stroke-linecap="round"/>
<line x1="474.64" y1="173.41" x2="490.44" y2="166.72" stroke="#000" stroke-width="0.7" stroke-linecap="round"/>
<line x1="475.7" y1="172.99" x2="491.58" y2="166.5" stroke="#000" stroke-width="0.7" stroke-linecap="round"/>
<line x1="476.93" y1="174.6" x2="492.7" y2="168.25" stroke="#000" stroke-width="0.7" stroke-linecap="round"/>
<line x1="477.68" y1="174.16" x2="493.52" y2="167.96" stroke="#000" stroke-width="0.7" stroke-linecap="round"/>
<line x1="477.19" y1="172.12" x2="493.19" y2="165.93" stroke="#000" stroke-width="0.7" stroke-linecap="round"/>
<line x1="478.1" y1="171.39" x2="494.2" y2="165.39" stroke="#000" stroke-width="0.7" stroke-linecap="round"/>
<line x1="479.46" y1="172.74" x2="495.49" y2="166.92" stroke="#000" stroke-width="0.7" stroke-linecap="round"/>
<line x1="480.09" y1="172.08" x2="496.2" y2="166.4" stroke="#000" stroke-width="0.7" stroke-linecap="round"/>
<line x1="461.15" y1="125.18" x2="480.92" y2="118.41" stroke="#000" stroke-width="0.7" stroke-linecap="round"/>
<line x1="460.23" y1="125.15" x2="479.98" y2="118.22" stroke="#000" stroke-width="0.7" stroke-linecap="round"/>
<line x1="460.19" y1="127.07" x2="479.77" y2="120.04" stroke="#000" stroke-width="0.7" stroke-linecap="round"/>
<line x1="459.03" y1="127.18" x2="478.55" y2="119.95" stroke="#000" stroke-width="0.7" stroke-linecap="round"/>
<line x1="457.97" y1="125.36" x2="477.62" y2="118.03" stroke="#000" stroke-width="0.7" stroke-linecap="round"/>
<line x1="457.12" y1="125.57" x2="476.73" y2="118.08" stroke="#000" stroke-width="0.7" stroke-linecap="round"/>
<line x1="457.36" y1="127.59" x2="476.79" y2="120.04" stroke="#000" stroke-width="0.7" stroke-linecap="round"/>
<line x1="456.3" y1="128.01" x2="475.66" y2="120.27" stroke="#000" stroke-width="0.7" stroke-linecap="round"/>
<line x1="455.07" y1="126.4" x2="474.53" y2="118.51" stroke="#000" stroke-width="0.7" stroke-linecap="round"/>
<line x1="454.32" y1="126.84" x2="473.72" y2="118.8" stroke="#000" stroke-width="0.7" stroke-linecap="round"/>
<line x1="454.81" y1="128.88" x2="474.04" y2="120.84" stroke="#000" stroke-width="0.7" stroke-linecap="round"/>
<line x1="453.9" y1="129.61" x2="473.03" y2="121.37" stroke="#000" stroke-width="0.7" stroke-linecap="round"/>
<line x1="452.54" y1="128.26" x2="471.75" y2="119.84" stroke="#000" stroke-width="0.7" stroke-linecap="round"/>
<line x1="451.91" y1="128.92" x2="471.04" y2="120.36" stroke="#000" stroke-width="0.7" stroke-linecap="round"/>
<line x1="452.65" y1="130.92" x2="471.63" y2="122.4" stroke="#000" stroke-width="0.7" stroke-linecap="round"/>
<line x1="451.91" y1="131.92" x2="470.77" y2="123.23" stroke="#000" stroke-width="0.7" stroke-linecap="round"/>
<line x1="450.46" y1="130.87" x2="469.37" y2="121.97" stroke="#000" stroke-width="0.7" stroke-linecap="round"/>
<line x1="449.98" y1="131.73" x2="468.79" y2="122.71" stroke="#000" stroke-width="0.7" stroke-linecap="round"/>
<line x1="450.94" y1="133.62" x2="469.61" y2="124.68" stroke="#000" stroke-width="0.7" stroke-linecap="round"/>
<line x1="450.4" y1="134.86" x2="468.94" y2="125.77" stroke="#000" stroke-width="0.7" stroke-linecap="round"/>
<line x1="448.92" y1="134.15" x2="467.48" y2="124.83" stroke="#000" stroke-width="0.7" stroke-linecap="round"/>
<line x1="448.59" y1="135.18" x2="467.04" y2="125.75" stroke="#000" stroke-width="0.7" stroke-linecap="round"/>
<line x1="449.75" y1="136.89" x2="468.08" y2="127.59" stroke="#000" stroke-width="0.7" stroke-linecap="round"/>
<line x1="449.43" y1="138.34" x2="467.61" y2="128.91" stroke="#000" stroke-width="0.7" stroke-linecap="round"/>
<line x1="447.96" y1="137.99" x2="466.13" y2="128.33" stroke="#000" stroke-width="0.7" stroke-linecap="round"/>
<line x1="447.8" y1="139.15" x2="465.86" y2="129.4" stroke="#000" stroke-width="0.7" stroke-linecap="round"/>
<line x1="449.11" y1="140.63" x2="467.08" y2="131.04" stroke="#000" stroke-width="0.7" stroke-linecap="round"/>
<line x1="449.01" y1="142.23" x2="466.83" y2="132.55" stroke="#000" stroke-width="0.7" stroke-linecap="round"/>
<line x1="447.61" y1="142.26" x2="465.38" y2="132.33" stroke="#000" stroke-width="0.7" stroke-linecap="round"/>
<line x1="447.63" y1="143.51" x2="465.28" y2="133.53" stroke="#000" stroke-width="0.7" stroke-linecap="round"/>
<line x1="449.04" y1="144.71" x2="466.64" y2="134.91" stroke="#000" stroke-width="0.7" stroke-linecap="round"/>
<line x1="449.18" y1="146.4" x2="466.62" y2="136.55" stroke="#000" stroke-width="0.7" stroke-linecap="round"/>
<line x1="447.89" y1="146.81" x2="465.26" y2="136.71" stroke="#000" stroke-width="0.7" stroke-linecap="round"/>
<line x1="448.08" y1="148.11" x2="465.33" y2="137.99" stroke="#000" stroke-width="0.7" stroke-linecap="round"/>
<line x1="449.55" y1="148.98" x2="466.77" y2="139.07" stroke="#000" stroke-width="0.7" stroke-linecap="round"/>
<line x1="449.92" y1="150.71" x2="466.99" y2="140.79" stroke="#000" stroke-width="0.7" stroke-linecap="round"/>
<line x1="448.79" y1="151.48" x2="465.75" y2="141.32" stroke="#000" stroke-width="0.7" stroke-linecap="round"/>
<line x1="449.14" y1="152.79" x2="466" y2="142.63" stroke="#000" stroke-width="0.7" stroke-linecap="round"/>
<line x1="450.62" y1="153.3" x2="467.48" y2="143.38" stroke="#000" stroke-width="0.7" stroke-linecap="round"/>
<line x1="451.2" y1="155.01" x2="467.92" y2="145.11" stroke="#000" stroke-width="0.7" stroke-linecap="round"/>
<line x1="450.27" y1="156.12" x2="466.86" y2="146" stroke="#000" stroke-width="0.7" stroke-linecap="round"/>
<line x1="450.78" y1="157.39" x2="467.27" y2="147.3" stroke="#000" stroke-width="0.7" stroke-linecap="round"/>
<line x1="452.22" y1="157.53" x2="468.74" y2="147.69" stroke="#000" stroke-width="0.7" stroke-linecap="round"/>
<line x1="452.99" y1="159.16" x2="469.39" y2="149.38" stroke="#000" stroke-width="0.7" stroke-linecap="round"/>
<line x1="452.29" y1="160.56" x2="468.54" y2="150.59" stroke="#000" stroke-width="0.7" stroke-linecap="round"/>
<line x1="452.94" y1="161.75" x2="469.1" y2="151.84" stroke="#000" stroke-width="0.7" stroke-linecap="round"/>
<line x1="454.28" y1="161.52" x2="470.51" y2="151.85" stroke="#000" stroke-width="0.7" stroke-linecap="round"/>
<line x1="455.23" y1="163.02" x2="471.35" y2="153.44" stroke="#000" stroke-width="0.7" stroke-linecap="round"/>
<line x1="454.77" y1="164.67" x2="470.73" y2="154.93" stroke="#000" stroke-width="0.7" stroke-linecap="round"/>
<line x1="455.54" y1="165.74" x2="471.42" y2="156.08" stroke="#000" stroke-width="0.7" stroke-linecap="round"/>
<line x1="456.75" y1="165.13" x2="472.72" y2="155.72" stroke="#000" stroke-width="0.7" stroke-linecap="round"/>
<line x1="457.83" y1="166.45" x2="473.72" y2="157.16" stroke="#000" stroke-width="0.7" stroke-linecap="round"/>
<line x1="457.64" y1="168.29" x2="473.35" y2="158.88" stroke="#000" stroke-width="0.7" stroke-linecap="round"/>
<line x1="458.5" y1="169.2" x2="474.16" y2="159.9" stroke="#000" stroke-width="0.7" stroke-linecap="round"/>
<line x1="459.53" y1="168.25" x2="475.31" y2="159.17" stroke="#000" stroke-width="0.7" stroke-linecap="round"/>
<line x1="460.7" y1="169.33" x2="476.42" y2="160.41" stroke="#000" stroke-width="0.7" stroke-linecap="round"/>
<line x1="460.79" y1="171.31" x2="476.33" y2="162.31" stroke="#000" stroke-width="0.7" stroke-linecap="round"/>
<line x1="461.71" y1="172.03" x2="477.22" y2="163.15" stroke="#000" stroke-width="0.7" stroke-linecap="round"/>
<line x1="462.52" y1="170.76" x2="478.17" y2="162.09" stroke="#000" stroke-width="0.7" stroke-linecap="round"/>
<line x1="463.76" y1="171.58" x2="479.38" y2="163.08" stroke="#000" stroke-width="0.7" stroke-linecap="round"/>
<line x1="464.12" y1="173.61" x2="479.56" y2="165.08" stroke="#000" stroke-width="0.7" stroke-linecap="round"/>
<line x1="465.07" y1="174.12" x2="480.49" y2="165.73" stroke="#000" stroke-width="0.7" stroke-linecap="round"/>
<line x1="465.64" y1="172.58" x2="481.23" y2="164.36" stroke="#000" stroke-width="0.7" stroke-linecap="round"/>
<line x1="466.9" y1="173.1" x2="482.47" y2="165.08" stroke="#000" stroke-width="0.7" stroke-linecap="round"/>
<line x1="467.51" y1="175.14" x2="482.92" y2="167.12" stroke="#000" stroke-width="0.7" stroke-linecap="round"/>
<line x1="468.46" y1="175.41" x2="483.88" y2="167.55" stroke="#000" stroke-width="0.7" stroke-linecap="round"/>
<line x1="468.77" y1="173.65" x2="484.36" y2="165.93" stroke="#000" stroke-width="0.7" stroke-linecap="round"/>
<line x1="470" y1="173.86" x2="485.61" y2="166.34" stroke="#000" stroke-width="0.7" stroke-linecap="round"/>
<line x1="470.85" y1="175.82" x2="486.31" y2="168.35" stroke="#000" stroke-width="0.7" stroke-linecap="round"/>
<line x1="471.77" y1="175.85" x2="487.25" y2="168.55" stroke="#000" stroke-width="0.7" stroke-linecap="round"/>
<line x1="471.81" y1="173.93" x2="487.47" y2="166.72" stroke="#000" stroke-width="0.7" stroke-linecap="round"/>
<line x1="472.97" y1="173.82" x2="488.68" y2="166.82" stroke="#000" stroke-width="0.7" stroke-linecap="round"/>
<line x1="474.03" y1="175.64" x2="489.61" y2="168.73" stroke="#000" stroke-width="0.7" stroke-linecap="round"/>
<path d="M490.5,168.69 L490.44,166.72 L491.58,166.5 L492.7,168.25 L493.52,167.96 L493.19,165.93 L494.2,165.39 L495.49,166.92 L496.2,166.4 L495.61,164.37 L496.47,163.54 L497.86,164.79 L498.45,164.06 L497.62,162.09 L498.29,161 L499.76,161.93 L500.19,161.01 L499.15,159.18 L499.62,157.85 L501.1,158.44 L501.37,157.36 L500.16,155.72 L500.4,154.22 L501.85,154.43 L501.95,153.24 L500.6,151.85 L500.61,150.22 L501.98,150.05 L501.9,148.78 L500.46,147.69 L500.24,145.98 L501.48,145.44 L501.23,144.13 L499.75,143.39 L499.31,141.65 L500.37,140.77 L499.96,139.47 L498.49,139.08 L497.84,137.39 L498.7,136.18 L498.13,134.93 L496.72,134.92 L495.89,133.33 L496.51,131.83 L495.81,130.68 L494.51,131.05 L493.52,129.61 L493.88,127.88 L493.08,126.87 L491.93,127.59 L490.81,126.36 L490.9,124.46 L490.02,123.61 L489.06,124.68 L487.86,123.69 L487.67,121.68 L486.74,121.03 L486.01,122.4 L484.76,121.69 L484.31,119.64 L483.36,119.21 L482.87,120.84 L481.62,120.43 L480.92,118.41 L479.98,118.22 L479.77,120.04 L478.55,119.95 L477.62,118.03 L476.73,118.08 L476.79,120.04 L475.66,120.27 L474.53,118.51 L473.72,118.8 L474.04,120.84 L473.03,121.37 L471.75,119.84 L471.04,120.36 L471.63,122.4 L470.77,123.23 L469.37,121.97 L468.79,122.71 L469.61,124.68 L468.94,125.77 L467.48,124.83 L467.04,125.75 L468.08,127.59 L467.61,128.91 L466.13,128.33 L465.86,129.4 L467.08,131.04 L466.83,132.55 L465.38,132.33 L465.28,133.53 L466.64,134.91 L466.62,136.55 L465.26,136.71 L465.33,137.99 L466.77,139.07 L466.99,140.79 L465.75,141.32 L466,142.63 L467.48,143.38 L467.92,145.11 L466.86,146 L467.27,147.3 L468.74,147.69 L469.39,149.38 L468.54,150.59 L469.1,151.84 L470.51,151.85 L471.35,153.44 L470.73,154.93 L471.42,156.08 L472.72,155.72 L473.72,157.16 L473.35,158.88 L474.16,159.9 L475.31,159.17 L476.42,160.41 L476.33,162.31 L477.22,163.15 L478.17,162.09 L479.38,163.08 L479.56,165.08 L480.49,165.73 L481.23,164.36 L482.47,165.08 L482.92,167.12 L483.88,167.55 L484.36,165.93 L485.61,166.34 L486.31,168.35 L487.25,168.55 L487.47,166.72 L488.68,166.82 L489.61,168.73Z" fill="none" stroke="#000" stroke-width="0.8" stroke-linejoin="round" />
</g>
<line x1="443.5" y1="159.5" x2="373.87" y2="191" stroke="#000" stroke-width="0.9" stroke-linecap="round"/>
<path d="M410.12,225.86 L411.95,232.82 L415.58,233.03 L414.79,226.13 L415.92,225.98 L418.6,232.82 L422.04,232.14 L420.36,225.09 L421.4,224.68 L424.85,231.18 L427.97,229.6 L425.44,222.65 L426.37,221.99 L430.47,227.89 L433.17,225.47 L429.85,218.87 L430.65,217.97 L435.26,223.07 L437.44,219.89 L433.46,213.87 L434.09,212.76 L439.05,216.89 L440.64,213.06 L436.13,207.82 L436.59,206.53 L441.72,209.57 L442.67,205.24 L437.82,200.95 L438.08,199.53 L443.2,201.39 L443.51,196.73 L438.47,193.5 L438.55,191.98 L443.49,192.67 L443.17,187.85 L438.12,185.73 L438.01,184.17 L442.63,183.72 L441.73,178.89 L436.83,177.89 L436.54,176.33 L440.72,174.82 L439.3,170.15 L434.68,170.23 L434.23,168.72 L437.89,166.26 L436.03,161.86 L431.8,162.96 L431.22,161.52 L434.29,158.26 L432.09,154.23 L428.32,156.24 L427.62,154.92 L430.09,150.98 L427.63,147.4 L424.39,150.21 L423.6,149.03 L425.45,144.55 L422.82,141.47 L420.14,144.96 L419.29,143.93 L420.54,139.05 L417.82,136.48 L415.7,140.53 L414.82,139.67 L415.49,134.5 L412.74,132.44 L411.19,136.94 L410.3,136.25 L410.42,130.9 L407.71,129.33 L406.7,134.17 L405.82,133.64 L405.44,128.2 L402.81,127.11 L402.32,132.18 L401.46,131.82 L400.61,126.36 L398.09,125.7 L398.1,130.94 L397.27,130.72 L396,125.31 L393.61,125.05 L394.09,130.37 L393.3,130.29 L391.64,124.99 L389.4,125.09 L390.31,130.43 L389.57,130.48 L387.55,125.33 L385.46,125.77 L386.78,131.07 L386.1,131.24 L383.75,126.27 L381.82,127.02 L383.51,132.23 L382.89,132.51 L380.24,127.78 L378.47,128.81 L380.52,133.89 L379.94,134.27 L377.03,129.81 L375.42,131.11 L377.79,136.02 L377.28,136.5 L374.12,132.33 L372.68,133.9 L375.34,138.6 L374.89,139.17 L371.52,135.35 L370.24,137.17 L373.18,141.62 L372.79,142.28 L369.23,138.84 L368.13,140.93 L371.33,145.08 L371.01,145.84 L367.28,142.82 L366.38,145.17 L369.8,148.98 L369.56,149.83 L365.7,147.28 L365,149.89 L368.64,153.33 L368.48,154.27 L364.52,152.23 L364.06,155.11 L367.88,158.11 L367.81,159.14 L363.78,157.67 L363.6,160.81 L367.56,163.32 L367.6,164.43 L363.56,163.58 L363.67,166.96 L367.74,168.93 L367.9,170.1 L363.9,169.93 L364.34,173.53 L368.48,174.88 L368.75,176.12 L364.86,176.67 L365.66,180.45 L369.82,181.12 L370.22,182.39 L366.51,183.72 L367.7,187.61 L371.8,187.54 L372.34,188.82 L368.89,190.96 L370.49,194.9 L374.46,194.01 L375.13,195.27 L372.04,198.24 L374.06,202.13 L377.79,200.39 L378.6,201.59 L375.96,205.39 L378.4,209.12 L381.8,206.48 L382.72,207.59 L380.64,212.19 L383.46,215.64 L386.42,212.1 L387.45,213.07 L386.02,218.42 L389.18,221.45 L391.57,217.03 L392.68,217.83 L391.99,223.82 L395.42,226.31 L397.15,221.07 L398.31,221.66 L398.43,228.16 L402.04,229.99 L403,224.03 L404.18,224.39 L405.16,231.22 L408.83,232.28 L408.94,225.75Z" fill="#fff" stroke="#000" stroke-width="0.7" stroke-linejoin="round" />
<path d="M348.83,173.61 L348.83,170.55 L348.99,167.57 L349.3,164.66 L349.76,161.84 L350.37,159.14 L351.13,156.54 L352.04,154.08 L353.09,151.76 L354.27,149.58 L355.59,147.56 L357.03,145.72 L358.59,144.04 L360.27,142.54 L362.05,141.24 L363.93,140.13 L365.89,139.21 L386.32,132.13 L388.39,131.58 L390.52,131.24 L392.7,131.1 L394.93,131.17 L397.2,131.44 L399.5,131.91 L401.81,132.59 L404.13,133.47 L406.45,134.54 L408.75,135.8 L411.04,137.25 L413.29,138.87 L415.5,140.67 L417.66,142.63 L419.75,144.75 L421.78,147.01 L423.73,149.41 L425.6,151.94 L427.37,154.58 L429.03,157.33 L430.59,160.17 L432.04,163.09 L433.36,166.08 L434.55,169.13 L435.61,172.22 L436.53,175.33 L437.31,178.46 L437.95,181.6 L438.44,184.72 L438.78,187.82 L438.97,190.88 L439,193.89 L438.89,196.84 L438.62,199.71 L438.21,202.49 L437.64,205.17 L436.93,207.74 L436.08,210.19 L435.09,212.5 L433.96,214.67 L432.7,216.69 L431.32,218.54 L429.82,220.23 L428.2,221.74 L426.48,223.06 L424.67,224.2 L422.76,225.14 L404.11,233.79 L402.05,234.5 L399.93,235 L397.74,235.3 L395.5,235.39 L393.21,235.27 L390.89,234.94 L388.54,234.4 L386.18,233.66 L383.81,232.72 L381.45,231.57 L379.1,230.24 L376.77,228.72 L374.49,227.01 L372.25,225.14 L370.06,223.1 L367.93,220.9 L365.88,218.55 L363.92,216.07 L362.04,213.46 L360.26,210.73 L358.58,207.91 L357.02,204.98 L355.58,201.98 L354.26,198.92 L353.08,195.8 L352.03,192.64 L351.13,189.45 L350.37,186.26 L349.75,183.06 L349.29,179.88 L348.98,176.72Z" fill="#fff" stroke="none" stroke-linejoin="round" />
<path d="M351.6,143.0L352.9,141.2L377.0,129.8L379.9,134.3L377.8,136.0L354.5,147.6Z" fill="#fff" stroke="#000" stroke-width="0.7" stroke-linejoin="round"/>
<path d="M352.9,141.2L377.0,129.8" fill="none" stroke="#000" stroke-width="0.5599999999999999"/>
<path d="M351.6,143.0L375.4,131.1" fill="none" stroke="#000" stroke-width="0.5599999999999999"/>
<path d="M397.9,234.5L410.1,225.9L414.8,226.1L415.6,233.0L404.0,240.7L400.6,241.4Z" fill="#fff" stroke="#000" stroke-width="0.7" stroke-linejoin="round"/>
<path d="M400.6,241.4L412.0,232.8" fill="none" stroke="#000" stroke-width="0.5599999999999999"/>
<path d="M404.0,240.7L415.6,233.0" fill="none" stroke="#000" stroke-width="0.5599999999999999"/>
<path d="M354.1,139.8L355.7,138.2L380.2,127.8L382.9,132.5L380.5,133.9L356.8,144.6Z" fill="#fff" stroke="#000" stroke-width="0.7" stroke-linejoin="round"/>
<path d="M357.1,137.0L358.8,135.7L383.8,126.3L386.1,131.2L359.4,142.1Z" fill="#fff" stroke="#000" stroke-width="0.7" stroke-linejoin="round"/>
<path d="M403.4,233.1L415.9,226.0L420.4,225.1L422.0,232.1L406.9,239.7Z" fill="#fff" stroke="#000" stroke-width="0.7" stroke-linejoin="round"/>
<path d="M406.9,239.7L418.6,232.8" fill="none" stroke="#000" stroke-width="0.5599999999999999"/>
<path d="M410.0,238.1L422.0,232.1" fill="none" stroke="#000" stroke-width="0.5599999999999999"/>
<path d="M360.3,134.7L362.2,133.7L385.5,125.8L387.6,125.3L389.6,130.5L362.3,140.0Z" fill="#fff" stroke="#000" stroke-width="0.7" stroke-linejoin="round"/>
<path d="M364.0,133.0L366.1,132.3L389.4,125.1L391.6,125.0L393.3,130.3L365.6,138.4Z" fill="#fff" stroke="#000" stroke-width="0.7" stroke-linejoin="round"/>
<path d="M408.4,230.3L411.9,227.1L425.4,222.7L428.0,229.6L424.8,231.2L412.6,236.3Z" fill="#fff" stroke="#000" stroke-width="0.7" stroke-linejoin="round"/>
<path d="M412.6,236.3L424.8,231.2" fill="none" stroke="#000" stroke-width="0.5599999999999999"/>
<path d="M415.3,233.8L428.0,229.6" fill="none" stroke="#000" stroke-width="0.5599999999999999"/>
<path d="M368.0,131.9L393.6,125.1L396.0,125.3L397.3,130.7L372.2,136.9L369.2,137.4Z" fill="#fff" stroke="#000" stroke-width="0.7" stroke-linejoin="round"/>
<path d="M412.7,226.2L415.6,222.0L429.9,218.9L433.2,225.5L430.5,227.9L417.4,231.4Z" fill="#fff" stroke="#000" stroke-width="0.7" stroke-linejoin="round"/>
<path d="M417.4,231.4L430.5,227.9" fill="none" stroke="#000" stroke-width="0.5599999999999999"/>
<path d="M419.6,228.1L433.2,225.5" fill="none" stroke="#000" stroke-width="0.5599999999999999"/>
<path d="M372.3,131.4L398.1,125.7L400.6,126.4L401.5,131.8L376.3,137.0L373.0,136.9Z" fill="#fff" stroke="#000" stroke-width="0.7" stroke-linejoin="round"/>
<path d="M377.0,131.7L402.8,127.1L405.4,128.2L405.8,133.6L380.7,137.8L377.2,137.2Z" fill="#fff" stroke="#000" stroke-width="0.7" stroke-linejoin="round"/>
<path d="M416.2,220.8L418.3,215.7L433.5,213.9L437.4,219.9L435.3,223.1L421.3,225.0Z" fill="#fff" stroke="#000" stroke-width="0.7" stroke-linejoin="round"/>
<path d="M421.3,225.0L435.3,223.1" fill="none" stroke="#000" stroke-width="0.5599999999999999"/>
<path d="M422.9,221.1L437.4,219.9" fill="none" stroke="#000" stroke-width="0.5599999999999999"/>
<path d="M381.6,138.1L381.9,132.8L407.7,129.3L410.4,130.9L410.3,136.2L385.3,139.4Z" fill="#fff" stroke="#000" stroke-width="0.7" stroke-linejoin="round"/>
<path d="M418.7,214.4L420.0,208.6L436.1,207.8L440.6,213.1L439.1,216.9L424.0,217.5Z" fill="#fff" stroke="#000" stroke-width="0.7" stroke-linejoin="round"/>
<path d="M424.0,217.5L439.1,216.9" fill="none" stroke="#000" stroke-width="0.5599999999999999"/>
<path d="M425.0,213.0L440.6,213.1" fill="none" stroke="#000" stroke-width="0.5599999999999999"/>
<path d="M386.3,139.9L387.1,134.8L412.7,132.4L415.5,134.5L414.8,139.7L390.1,141.9Z" fill="#fff" stroke="#000" stroke-width="0.7" stroke-linejoin="round"/>
<path d="M420.2,207.2L420.6,200.9L437.8,200.9L442.7,205.2L441.7,209.6L425.5,209.0Z" fill="#fff" stroke="#000" stroke-width="0.7" stroke-linejoin="round"/>
<path d="M425.5,209.0L441.7,209.6" fill="none" stroke="#000" stroke-width="0.5599999999999999"/>
<path d="M425.8,204.2L442.7,205.2" fill="none" stroke="#000" stroke-width="0.5599999999999999"/>
<path d="M391.1,142.6L392.5,137.7L417.8,136.5L420.5,139.1L419.3,143.9L395.0,145.2Z" fill="#fff" stroke="#000" stroke-width="0.7" stroke-linejoin="round"/>
<path d="M395.9,146.1L398.0,141.7L422.8,141.5L425.5,144.6L423.6,149.0L399.8,149.5Z" fill="#fff" stroke="#000" stroke-width="0.7" stroke-linejoin="round"/>
<path d="M420.1,192.8L438.5,193.5L443.5,196.7L443.2,201.4L425.7,200.0L420.6,199.3Z" fill="#fff" stroke="#000" stroke-width="0.7" stroke-linejoin="round"/>
<path d="M425.7,200.0L443.2,201.4" fill="none" stroke="#000" stroke-width="0.5599999999999999"/>
<path d="M425.4,195.0L443.5,196.7" fill="none" stroke="#000" stroke-width="0.5599999999999999"/>
<path d="M400.7,150.6L403.3,146.8L427.6,147.4L430.1,151.0L427.6,154.9L404.4,154.7Z" fill="#fff" stroke="#000" stroke-width="0.7" stroke-linejoin="round"/>
<path d="M418.7,184.7L438.1,185.7L443.2,187.8L443.5,192.7L420.0,191.2Z" fill="#fff" stroke="#000" stroke-width="0.7" stroke-linejoin="round"/>
<path d="M424.8,190.7L443.5,192.7" fill="none" stroke="#000" stroke-width="0.5599999999999999"/>
<path d="M423.8,185.6L443.2,187.8" fill="none" stroke="#000" stroke-width="0.5599999999999999"/>
<path d="M405.3,156.0L408.5,152.9L432.1,154.2L434.3,158.3L431.2,161.5L408.7,160.8Z" fill="#fff" stroke="#000" stroke-width="0.7" stroke-linejoin="round"/>
<path d="M411.2,156.6L434.3,158.3" fill="none" stroke="#000" stroke-width="0.5599999999999999"/>
<path d="M408.5,152.9L432.1,154.2" fill="none" stroke="#000" stroke-width="0.5599999999999999"/>
<path d="M416.4,176.7L421.2,176.5L436.8,177.9L441.7,178.9L442.6,183.7L438.0,184.2L418.4,183.1Z" fill="#fff" stroke="#000" stroke-width="0.7" stroke-linejoin="round"/>
<path d="M422.7,181.4L442.6,183.7" fill="none" stroke="#000" stroke-width="0.5599999999999999"/>
<path d="M421.2,176.5L441.7,178.9" fill="none" stroke="#000" stroke-width="0.5599999999999999"/>
<path d="M409.5,162.2L413.4,159.9L436.0,161.9L437.9,166.3L434.2,168.7L412.6,167.7Z" fill="#fff" stroke="#000" stroke-width="0.7" stroke-linejoin="round"/>
<path d="M415.7,164.1L437.9,166.3" fill="none" stroke="#000" stroke-width="0.5599999999999999"/>
<path d="M413.4,159.9L436.0,161.9" fill="none" stroke="#000" stroke-width="0.5599999999999999"/>
<path d="M413.3,169.2L417.6,167.9L439.3,170.1L440.7,174.8L436.5,176.3L415.9,175.1Z" fill="#fff" stroke="#000" stroke-width="0.7" stroke-linejoin="round"/>
<path d="M419.6,172.5L440.7,174.8" fill="none" stroke="#000" stroke-width="0.5599999999999999"/>
<path d="M417.6,167.9L439.3,170.1" fill="none" stroke="#000" stroke-width="0.5599999999999999"/>
<path d="M397.86,234.48 L400.58,241.38 L404.05,240.67 L402.33,233.56 L403.38,233.1 L406.88,239.67 L410.04,238.06 L407.45,231.02 L408.39,230.32 L412.57,236.31 L415.31,233.84 L411.92,227.12 L412.71,226.18 L417.43,231.38 L419.65,228.12 L415.57,221.97 L416.2,220.81 L421.29,225.03 L422.9,221.09 L418.28,215.73 L418.72,214.39 L424.01,217.49 L424.97,213.02 L419.96,208.63 L420.21,207.15 L425.5,209.04 L425.79,204.21 L420.58,200.91 L420.63,199.33 L425.75,199.99 L425.37,194.97 L420.15,192.84 L420,191.22 L424.79,190.67 L423.8,185.64 L418.72,184.69 L418.39,183.07 L422.71,181.4 L421.16,176.51 L416.38,176.72 L415.89,175.14 L419.64,172.46 L417.63,167.87 L413.26,169.15 L412.62,167.66 L415.74,164.12 L413.36,159.93 L409.51,162.18 L408.75,160.81 L411.2,156.56 L408.54,152.85 L405.26,155.96 L404.41,154.74 L406.19,149.93 L403.35,146.76 L400.68,150.58 L399.77,149.53 L400.88,144.31 L397.95,141.72 L395.9,146.11 L394.96,145.24 L395.45,139.75 L392.51,137.72 L391.07,142.56 L390.12,141.88 L390.02,136.23 L387.13,134.75 L386.29,139.92 L385.35,139.42 L384.71,133.71 L381.92,132.75 L381.65,138.14 L380.73,137.81 L379.6,132.14 L376.96,131.66 L377.21,137.17 L376.35,137 L374.77,131.44 L372.29,131.39 L373.04,136.93 L372.23,136.92 L370.25,131.52 L367.95,131.86 L369.16,137.37 L368.4,137.49 L366.07,132.3 L363.96,132.99 L365.58,138.41 L364.89,138.66 L362.25,133.71 L360.33,134.72 L362.33,140 L361.71,140.35 L358.78,135.7 L357.06,136.99 L359.4,142.08 L358.85,142.53 L355.67,138.2 L354.14,139.75 L356.79,144.61 L356.31,145.16 L352.92,141.18 L351.58,142.98 L354.51,147.57 L354.09,148.21 L350.52,144.61 L349.37,146.65 L352.56,150.94 L352.21,151.66 L348.47,148.48 L347.52,150.74 L350.94,154.7 L350.67,155.5 L346.8,152.77 L346.06,155.27 L349.67,158.84 L349.48,159.73 L345.52,157.49 L344.99,160.22 L348.78,163.38 L348.67,164.34 L344.65,162.63 L344.36,165.58 L348.29,168.28 L348.28,169.32 L344.23,168.19 L344.21,171.36 L348.25,173.55 L348.33,174.66 L344.31,174.15 L344.57,177.52 L348.68,179.16 L348.88,180.32 L344.93,180.47 L345.51,184.03 L349.65,185.06 L349.96,186.27 L346.15,187.12 L347.07,190.82 L351.19,191.18 L351.63,192.42 L348.02,194.02 L349.31,197.81 L353.34,197.45 L353.9,198.69 L350.57,201.06 L352.26,204.88 L356.13,203.75 L356.82,204.96 L353.86,208.12 L355.93,211.88 L359.56,209.92 L360.38,211.08 L357.87,215.03 L360.34,218.63 L363.63,215.82 L364.56,216.88 L362.6,221.6 L365.43,224.92 L368.28,221.25 L369.32,222.18 L367.99,227.6 L371.16,230.53 L373.46,226.01 L374.57,226.77 L373.97,232.81 L377.39,235.22 L379.04,229.91 L380.2,230.46 L380.4,237 L384,238.76 L384.89,232.75 L386.08,233.08 L387.11,239.94 L390.79,240.94 L390.85,234.38 L392.03,234.45 L393.92,241.45 L397.55,241.62 L396.73,234.67Z" fill="#fff" stroke="#000" stroke-width="1.3" stroke-linejoin="round" />
<path d="M403.54,232.4 L405.45,231.51 L407.28,230.43 L409.01,229.16 L410.63,227.71 L412.15,226.09 L413.55,224.29 L414.83,222.33 L415.97,220.22 L416.99,217.96 L417.87,215.57 L418.61,213.06 L419.21,210.43 L419.66,207.7 L419.96,204.88 L420.11,201.98 L420.11,199.01 L419.96,195.99 L419.66,192.93 L419.21,189.84 L418.61,186.74 L417.88,183.63 L417,180.54 L415.98,177.47 L414.83,174.45 L413.56,171.47 L412.16,168.56 L410.64,165.72 L409.02,162.98 L407.29,160.33 L405.47,157.8 L403.55,155.39 L401.56,153.11 L399.5,150.98 L397.38,149 L395.2,147.18 L392.98,145.52 L390.73,144.05 L388.45,142.75 L386.16,141.64 L383.86,140.73 L381.56,140.01 L379.28,139.49 L377.03,139.17 L374.81,139.05 L372.63,139.13 L370.51,139.42 L368.45,139.91 L366.46,140.6 L364.55,141.49 L362.72,142.57 L360.99,143.84 L359.37,145.29 L357.85,146.91 L356.45,148.71 L355.17,150.67 L354.03,152.78 L353.01,155.04 L352.13,157.43 L351.39,159.94 L350.79,162.57 L350.34,165.3 L350.04,168.12 L349.89,171.02 L349.89,173.99 L350.04,177.01 L350.34,180.07 L350.79,183.16 L351.39,186.26 L352.12,189.37 L353,192.46 L354.02,195.53 L355.17,198.55 L356.44,201.53 L357.84,204.44 L359.36,207.28 L360.98,210.02 L362.71,212.67 L364.53,215.2 L366.45,217.61 L368.44,219.89 L370.5,222.02 L372.62,224 L374.8,225.82 L377.02,227.48 L379.27,228.95 L381.55,230.25 L383.84,231.36 L386.14,232.27 L388.44,232.99 L390.72,233.51 L392.97,233.83 L395.19,233.95 L397.37,233.87 L399.49,233.58 L401.55,233.09 L403.54,232.4Z" fill="none" stroke="#000" stroke-width="0.8" stroke-linejoin="round" />
<path d="M402.61,230.08 L404.42,229.24 L406.15,228.21 L407.79,227.01 L409.34,225.63 L410.78,224.09 L412.11,222.38 L413.32,220.52 L414.41,218.52 L415.38,216.38 L416.21,214.11 L416.91,211.72 L417.48,209.22 L417.9,206.63 L418.19,203.95 L418.33,201.19 L418.33,198.38 L418.19,195.51 L417.91,192.6 L417.48,189.67 L416.92,186.72 L416.22,183.78 L415.38,180.84 L414.42,177.93 L413.33,175.06 L412.11,172.23 L410.79,169.47 L409.35,166.77 L407.8,164.17 L406.16,161.66 L404.43,159.25 L402.62,156.96 L400.73,154.8 L398.77,152.77 L396.75,150.89 L394.69,149.16 L392.58,147.59 L390.44,146.19 L388.28,144.96 L386.1,143.91 L383.92,143.04 L381.74,142.35 L379.57,141.86 L377.43,141.56 L375.32,141.45 L373.26,141.53 L371.24,141.8 L369.28,142.27 L367.39,142.92 L365.58,143.76 L363.85,144.79 L362.21,145.99 L360.66,147.37 L359.22,148.91 L357.89,150.62 L356.68,152.48 L355.59,154.48 L354.62,156.62 L353.79,158.89 L353.09,161.28 L352.52,163.78 L352.1,166.37 L351.81,169.05 L351.67,171.81 L351.67,174.62 L351.81,177.49 L352.09,180.4 L352.52,183.33 L353.08,186.28 L353.78,189.22 L354.62,192.16 L355.58,195.07 L356.67,197.94 L357.89,200.77 L359.21,203.53 L360.65,206.23 L362.2,208.83 L363.84,211.34 L365.57,213.75 L367.38,216.04 L369.27,218.2 L371.23,220.23 L373.25,222.11 L375.31,223.84 L377.42,225.41 L379.56,226.81 L381.72,228.04 L383.9,229.09 L386.08,229.96 L388.26,230.65 L390.43,231.14 L392.57,231.44 L394.68,231.55 L396.74,231.47 L398.76,231.2 L400.72,230.73 L402.61,230.08Z" fill="none" stroke="#555" stroke-width="0.6" stroke-linejoin="round" />
<path d="M401.46,221.91 L402.97,221.21 L404.41,220.36 L405.77,219.36 L407.05,218.22 L408.24,216.94 L409.35,215.52 L410.35,213.98 L411.26,212.32 L412.06,210.54 L412.75,208.66 L413.34,206.68 L413.8,204.61 L414.16,202.45 L414.4,200.23 L414.51,197.94 L414.51,195.61 L414.4,193.23 L414.16,190.82 L413.81,188.38 L413.34,185.94 L412.76,183.49 L412.06,181.06 L411.26,178.64 L410.36,176.25 L409.35,173.91 L408.25,171.62 L407.06,169.38 L405.78,167.22 L404.41,165.14 L402.98,163.14 L401.47,161.24 L399.9,159.45 L398.28,157.77 L396.61,156.2 L394.89,154.77 L393.14,153.47 L391.37,152.3 L389.57,151.28 L387.77,150.41 L385.95,149.69 L384.15,149.12 L382.35,148.71 L380.58,148.46 L378.83,148.36 L377.11,148.43 L375.44,148.66 L373.81,149.05 L372.24,149.59 L370.74,150.29 L369.3,151.14 L367.94,152.14 L366.66,153.28 L365.46,154.56 L364.36,155.98 L363.36,157.52 L362.45,159.18 L361.65,160.96 L360.96,162.84 L360.37,164.83 L359.9,166.9 L359.55,169.05 L359.31,171.27 L359.19,173.56 L359.19,175.89 L359.31,178.27 L359.55,180.69 L359.9,183.12 L360.37,185.56 L360.95,188.01 L361.64,190.45 L362.45,192.86 L363.35,195.25 L364.36,197.59 L365.46,199.89 L366.65,202.12 L367.93,204.28 L369.29,206.37 L370.73,208.36 L372.24,210.26 L373.8,212.05 L375.43,213.74 L377.1,215.3 L378.82,216.73 L380.57,218.03 L382.34,219.2 L384.14,220.22 L385.94,221.09 L387.75,221.81 L389.56,222.38 L391.36,222.79 L393.13,223.04 L394.88,223.14 L396.6,223.07 L398.27,222.84 L399.9,222.45 L401.46,221.91Z" fill="none" stroke="#000" stroke-width="1.0" stroke-linejoin="round" />
<path d="M352.6,181.62 L352.69,179.86 L352.87,178.15 L353.14,176.49 L353.5,174.9 L353.95,173.38 L354.49,171.93 L355.1,170.56 L355.8,169.28 L356.57,168.09 L357.42,167 L358.34,166.02 L359.32,165.14 L360.37,164.37 L361.48,163.72 L362.64,163.18 L375.62,157.94 L376.82,157.52 L378.07,157.22 L379.36,157.04 L380.68,156.99 L382.02,157.06 L383.39,157.26 L384.77,157.57 L386.16,158.01 L387.56,158.56 L388.94,159.24 L390.33,160.02 L391.69,160.92 L393.04,161.92 L394.36,163.02 L395.64,164.22 L396.89,165.52 L398.1,166.9 L399.26,168.36 L400.36,169.89 L401.41,171.5 L402.39,173.16 L403.31,174.88 L404.16,176.64 L404.93,178.45 L405.63,180.28 L406.25,182.14 L406.78,184.01 L407.23,185.89 L407.59,187.78 L407.86,189.65 L408.04,191.5 L408.13,193.33 L408.13,195.13 L408.04,196.89 L407.86,198.6 L407.59,200.25 L407.23,201.85 L406.78,203.37 L406.24,204.82 L405.63,206.19 L404.93,207.47 L404.16,208.65 L403.31,209.74 L402.39,210.73 L401.4,211.61 L400.36,212.38 L399.25,213.03 L398.09,213.57 L385.11,218.81 L383.9,219.23 L382.66,219.53 L381.37,219.7 L380.05,219.75 L378.7,219.68 L377.34,219.49 L375.96,219.17 L374.57,218.74 L373.17,218.18 L371.78,217.51 L370.4,216.72 L369.04,215.83 L367.69,214.83 L366.37,213.72 L365.08,212.52 L363.83,211.23 L362.63,209.85 L361.47,208.39 L360.37,206.85 L359.32,205.25 L358.33,203.59 L357.42,201.87 L356.57,200.1 L355.79,198.3 L355.1,196.47 L354.48,194.61 L353.95,192.73 L353.5,190.85 L353.14,188.97 L352.87,187.1 L352.69,185.24 L352.6,183.41Z" fill="#fff" stroke="#000" stroke-width="1.2" stroke-linejoin="round" />
<path d="M385.11,218.81 L386.27,218.27 L387.38,217.62 L388.42,216.85 L389.41,215.97 L390.33,214.99 L391.18,213.9 L391.95,212.71 L392.65,211.43 L393.26,210.06 L393.8,208.62 L394.24,207.09 L394.6,205.5 L394.88,203.84 L395.06,202.13 L395.15,200.38 L395.15,198.58 L395.06,196.75 L394.88,194.89 L394.61,193.02 L394.25,191.14 L393.8,189.26 L393.27,187.38 L392.65,185.53 L391.95,183.69 L391.18,181.89 L390.33,180.12 L389.41,178.4 L388.43,176.74 L387.38,175.14 L386.28,173.6 L385.12,172.14 L383.91,170.76 L382.66,169.47 L381.38,168.27 L380.06,167.16 L378.71,166.16 L377.35,165.27 L375.96,164.48 L374.57,163.81 L373.18,163.25 L371.79,162.82 L370.41,162.5 L369.04,162.31 L367.7,162.24 L366.38,162.29 L365.09,162.46 L363.84,162.76 L362.64,163.18 L361.48,163.72 L360.37,164.37 L359.32,165.14 L358.34,166.02 L357.42,167 L356.57,168.09 L355.8,169.28 L355.1,170.56 L354.48,171.93 L353.95,173.37 L353.5,174.9 L353.14,176.49 L352.87,178.15 L352.69,179.86 L352.6,181.62 L352.6,183.41 L352.69,185.24 L352.87,187.1 L353.14,188.97 L353.5,190.85 L353.95,192.73 L354.48,194.61 L355.1,196.47 L355.79,198.3 L356.57,200.1 L357.42,201.87 L358.33,203.59 L359.32,205.25 L360.37,206.85 L361.47,208.39 L362.63,209.85 L363.84,211.23 L365.08,212.52 L366.37,213.72 L367.69,214.83 L369.04,215.83 L370.4,216.72 L371.78,217.51 L373.17,218.18 L374.57,218.74 L375.96,219.17 L377.34,219.49 L378.7,219.68 L380.05,219.75 L381.37,219.7 L382.66,219.53 L383.91,219.23 L385.11,218.81Z" fill="#fff" stroke="#000" stroke-width="1.2" stroke-linejoin="round" />
<path d="M383.61,215.1 L384.62,214.64 L385.58,214.07 L386.48,213.4 L387.34,212.64 L388.13,211.79 L388.87,210.84 L389.54,209.82 L390.14,208.71 L390.68,207.52 L391.14,206.27 L391.53,204.95 L391.84,203.56 L392.08,202.13 L392.23,200.65 L392.31,199.12 L392.31,197.57 L392.24,195.98 L392.08,194.37 L391.84,192.75 L391.53,191.12 L391.14,189.49 L390.68,187.87 L390.15,186.25 L389.54,184.66 L388.87,183.1 L388.14,181.57 L387.34,180.08 L386.49,178.64 L385.58,177.25 L384.62,175.92 L383.62,174.66 L382.57,173.46 L381.49,172.34 L380.38,171.3 L379.23,170.34 L378.07,169.47 L376.88,168.7 L375.69,168.02 L374.48,167.43 L373.27,166.95 L372.07,166.57 L370.87,166.3 L369.69,166.13 L368.52,166.07 L367.38,166.12 L366.26,166.27 L365.18,166.53 L364.13,166.89 L363.13,167.35 L362.17,167.92 L361.26,168.59 L360.41,169.35 L359.61,170.2 L358.88,171.15 L358.21,172.17 L357.6,173.28 L357.07,174.47 L356.61,175.72 L356.22,177.05 L355.91,178.43 L355.67,179.86 L355.51,181.34 L355.43,182.87 L355.43,184.42 L355.51,186.01 L355.67,187.62 L355.91,189.24 L356.22,190.87 L356.61,192.5 L357.07,194.13 L357.6,195.74 L358.2,197.33 L358.87,198.89 L359.61,200.42 L360.41,201.91 L361.26,203.35 L362.17,204.74 L363.12,206.07 L364.13,207.34 L365.17,208.53 L366.26,209.65 L367.37,210.69 L368.51,211.65 L369.68,212.52 L370.86,213.29 L372.06,213.97 L373.27,214.56 L374.47,215.04 L375.68,215.42 L376.88,215.69 L378.06,215.86 L379.23,215.92 L380.37,215.87 L381.48,215.72 L382.57,215.46 L383.61,215.1Z" fill="#fff" stroke="#000" stroke-width="1.1" stroke-linejoin="round" />
<g clip-path="url(#c2)">
<path d="M405.87,206.11 L406.87,205.65 L407.83,205.08 L408.74,204.41 L409.59,203.65 L410.39,202.8 L411.12,201.85 L411.79,200.83 L412.4,199.72 L412.93,198.53 L413.39,197.28 L413.78,195.95 L414.09,194.57 L414.33,193.14 L414.49,191.66 L414.57,190.13 L414.57,188.58 L414.49,186.99 L414.33,185.38 L414.09,183.76 L413.78,182.13 L413.39,180.5 L412.93,178.87 L412.4,177.26 L411.8,175.67 L411.13,174.11 L410.39,172.58 L409.59,171.09 L408.74,169.65 L407.83,168.26 L406.88,166.93 L405.87,165.66 L404.83,164.47 L403.74,163.35 L402.63,162.31 L401.49,161.35 L400.32,160.48 L399.14,159.71 L397.94,159.03 L396.73,158.44 L395.53,157.96 L394.32,157.58 L393.12,157.31 L391.94,157.14 L390.77,157.08 L389.63,157.13 L388.52,157.28 L387.43,157.54 L386.39,157.9 L385.38,158.36 L384.42,158.93 L383.52,159.6 L382.66,160.36 L381.87,161.21 L381.13,162.16 L380.46,163.18 L379.86,164.29 L379.32,165.48 L378.86,166.73 L378.47,168.05 L378.16,169.44 L377.92,170.87 L377.77,172.35 L377.69,173.88 L377.69,175.43 L377.76,177.02 L377.92,178.63 L378.16,180.25 L378.47,181.88 L378.86,183.51 L379.32,185.13 L379.85,186.75 L380.46,188.34 L381.13,189.9 L381.86,191.43 L382.66,192.92 L383.51,194.36 L384.42,195.75 L385.38,197.08 L386.38,198.34 L387.43,199.54 L388.51,200.66 L389.62,201.7 L390.77,202.66 L391.93,203.53 L393.12,204.3 L394.31,204.98 L395.52,205.57 L396.73,206.05 L397.93,206.43 L399.13,206.7 L400.31,206.87 L401.48,206.93 L402.62,206.88 L403.74,206.73 L404.82,206.47 L405.87,206.11Z" fill="none" stroke="#000" stroke-width="1.0" stroke-linejoin="round" />
</g>
<path d="M364.45,166.77 L363.91,165.37 L361.36,166.68 L362.04,168.01Z" fill="#fff" stroke="#000" stroke-width="0.9" stroke-linejoin="round" />
<line x1="372.02" y1="191.74" x2="293.4" y2="223.58" stroke="#000" stroke-width="0.9" stroke-linecap="round"/>
<path d="M319.82,267.75 L321.74,275.4 L325.02,275.73 L324.05,268.18 L325.08,268.13 L327.74,275.67 L330.84,275.18 L329.07,267.5 L330.02,267.2 L333.37,274.41 L336.19,273.11 L333.66,265.52 L334.52,264.97 L338.45,271.67 L340.92,269.59 L337.71,262.29 L338.45,261.52 L342.84,267.5 L344.89,264.71 L341.09,257.92 L341.7,256.94 L346.43,262.05 L348.01,258.64 L343.73,252.53 L344.19,251.37 L349.13,255.49 L350.2,251.56 L345.57,246.29 L345.87,244.99 L350.88,248.03 L351.43,243.71 L346.58,239.39 L346.72,237.98 L351.67,239.9 L351.7,235.32 L346.76,232.03 L346.75,230.54 L351.52,231.35 L351.06,226.63 L346.16,224.42 L345.99,222.89 L350.47,222.6 L349.55,217.88 L344.8,216.75 L344.5,215.22 L348.59,213.89 L347.27,209.28 L342.77,209.2 L342.34,207.71 L345.99,205.42 L344.32,201.01 L340.15,201.95 L339.61,200.52 L342.76,197.37 L340.79,193.25 L337.03,195.12 L336.39,193.79 L339.02,189.88 L336.82,186.11 L333.52,188.84 L332.8,187.62 L334.87,183.06 L332.5,179.69 L329.69,183.19 L328.92,182.1 L330.43,177 L327.94,174.06 L325.65,178.23 L324.83,177.28 L325.79,171.75 L323.24,169.26 L321.47,174 L320.63,173.2 L321.05,167.33 L318.48,165.3 L317.24,170.52 L316.39,169.87 L316.28,163.76 L313.72,162.19 L313.01,167.79 L312.17,167.3 L311.56,161.04 L309.04,159.91 L308.85,165.81 L308.02,165.47 L306.93,159.14 L304.49,158.45 L304.79,164.56 L303.99,164.37 L302.45,158.05 L300.1,157.78 L300.89,164.02 L300.13,163.98 L298.15,157.74 L295.92,157.88 L297.17,164.17 L296.45,164.27 L294.08,158.18 L291.98,158.73 L293.67,165 L293,165.24 L290.26,159.37 L288.31,160.3 L290.42,166.49 L289.8,166.86 L286.72,161.27 L284.93,162.59 L287.44,168.61 L286.88,169.12 L283.49,163.87 L281.89,165.56 L284.76,171.36 L284.27,172 L280.61,167.16 L279.21,169.22 L282.42,174.73 L282.01,175.49 L278.11,171.12 L276.93,173.54 L280.45,178.69 L280.12,179.57 L276.02,175.75 L275.09,178.51 L278.88,183.23 L278.64,184.23 L274.4,181.01 L273.73,184.11 L277.76,188.32 L277.62,189.43 L273.28,186.89 L272.91,190.3 L277.13,193.93 L277.1,195.13 L272.72,193.33 L272.66,197.03 L277.02,200.01 L277.1,201.29 L272.75,200.29 L273.04,204.23 L277.48,206.48 L277.68,207.83 L273.43,207.68 L274.08,211.83 L278.53,213.28 L278.86,214.67 L274.79,215.42 L275.82,219.7 L280.21,220.28 L280.67,221.68 L276.86,223.37 L278.27,227.71 L282.52,227.36 L283.1,228.76 L279.64,231.4 L281.44,235.7 L285.45,234.39 L286.15,235.74 L283.13,239.32 L285.31,243.49 L288.99,241.18 L289.8,242.46 L287.31,246.96 L289.83,250.89 L293.08,247.58 L293.99,248.75 L292.11,254.1 L294.94,257.68 L297.66,253.4 L298.65,254.43 L297.46,260.54 L300.53,263.65 L302.64,258.47 L303.68,259.32 L303.24,266.07 L306.49,268.61 L307.9,262.61 L308.98,263.26 L309.32,270.49 L312.67,272.36 L313.32,265.68 L314.41,266.11 L315.54,273.65 L318.9,274.78 L318.75,267.56Z" fill="#fff" stroke="#000" stroke-width="0.7" stroke-linejoin="round" />
<path d="M247.66,206.82 L247.81,203.57 L248.11,200.42 L248.56,197.38 L249.17,194.47 L249.92,191.7 L250.82,189.08 L251.87,186.62 L253.05,184.34 L254.36,182.24 L255.8,180.33 L257.36,178.62 L259.04,177.11 L260.82,175.82 L262.7,174.75 L264.68,173.91 L266.73,173.29 L294.34,165.53 L296.34,165.01 L298.41,164.72 L300.54,164.65 L302.71,164.8 L304.93,165.18 L307.18,165.77 L309.45,166.59 L311.73,167.62 L314.01,168.85 L316.29,170.3 L318.55,171.94 L320.78,173.78 L322.97,175.79 L325.12,177.99 L327.21,180.35 L329.24,182.86 L331.2,185.52 L333.07,188.32 L334.86,191.23 L336.54,194.26 L338.12,197.38 L339.6,200.59 L340.95,203.86 L342.18,207.19 L343.29,210.56 L344.26,213.95 L345.09,217.36 L345.78,220.77 L346.33,224.16 L346.73,227.51 L346.98,230.82 L347.09,234.07 L347.04,237.25 L346.85,240.34 L346.51,243.32 L346.02,246.2 L345.38,248.94 L344.61,251.55 L343.69,254.01 L342.64,256.31 L341.46,258.44 L340.16,260.39 L338.73,262.16 L337.19,263.73 L335.55,265.1 L333.8,266.26 L331.96,267.21 L305.3,279.25 L303.32,280.09 L301.27,280.71 L299.14,281.1 L296.94,281.26 L294.7,281.18 L292.4,280.88 L290.07,280.34 L287.71,279.57 L285.34,278.58 L282.96,277.37 L280.58,275.94 L278.23,274.31 L275.89,272.47 L273.59,270.43 L271.33,268.21 L269.13,265.82 L266.99,263.25 L264.93,260.53 L262.94,257.67 L261.05,254.68 L259.26,251.57 L257.57,248.35 L255.99,245.04 L254.54,241.66 L253.21,238.21 L252.01,234.71 L250.95,231.18 L250.03,227.63 L249.25,224.09 L248.63,220.55 L248.16,217.04 L247.84,213.57 L247.67,210.16Z" fill="#fff" stroke="none" stroke-linejoin="round" />
<path d="M294.1,280.5L314.4,266.1L318.8,267.6L318.9,274.8L299.7,288.4L296.4,288.4Z" fill="#fff" stroke="#000" stroke-width="0.7" stroke-linejoin="round"/>
<path d="M296.4,288.4L315.5,273.6" fill="none" stroke="#000" stroke-width="0.5599999999999999"/>
<path d="M299.7,288.4L318.9,274.8" fill="none" stroke="#000" stroke-width="0.5599999999999999"/>
<path d="M249.8,177.3L251.2,175.2L286.7,161.3L289.8,166.9L287.4,168.6L253.1,183.0Z" fill="#fff" stroke="#000" stroke-width="0.7" stroke-linejoin="round"/>
<path d="M251.2,175.2L286.7,161.3" fill="none" stroke="#000" stroke-width="0.5599999999999999"/>
<path d="M249.8,177.3L284.9,162.6" fill="none" stroke="#000" stroke-width="0.5599999999999999"/>
<path d="M252.6,173.5L254.2,171.8L290.3,159.4L293.0,165.2L290.4,166.5L255.5,179.6Z" fill="#fff" stroke="#000" stroke-width="0.7" stroke-linejoin="round"/>
<path d="M299.4,280.4L319.8,267.8L324.1,268.2L325.0,275.7L305.5,287.3L302.4,288.1Z" fill="#fff" stroke="#000" stroke-width="0.7" stroke-linejoin="round"/>
<path d="M302.4,288.1L321.7,275.4" fill="none" stroke="#000" stroke-width="0.5599999999999999"/>
<path d="M305.5,287.3L325.0,275.7" fill="none" stroke="#000" stroke-width="0.5599999999999999"/>
<path d="M255.7,170.5L257.6,169.1L292.0,158.7L294.1,158.2L296.5,164.3L258.3,176.8Z" fill="#fff" stroke="#000" stroke-width="0.7" stroke-linejoin="round"/>
<path d="M304.4,278.9L308.0,276.7L325.1,268.1L329.1,267.5L330.8,275.2L308.1,286.2Z" fill="#fff" stroke="#000" stroke-width="0.7" stroke-linejoin="round"/>
<path d="M308.1,286.2L327.7,275.7" fill="none" stroke="#000" stroke-width="0.5599999999999999"/>
<path d="M310.9,284.6L330.8,275.2" fill="none" stroke="#000" stroke-width="0.5599999999999999"/>
<path d="M259.3,168.1L261.3,167.2L295.9,157.9L298.2,157.7L300.1,164.0L261.5,174.6Z" fill="#fff" stroke="#000" stroke-width="0.7" stroke-linejoin="round"/>
<path d="M308.8,276.1L311.9,272.9L333.7,265.5L336.2,273.1L333.4,274.4L313.1,282.8Z" fill="#fff" stroke="#000" stroke-width="0.7" stroke-linejoin="round"/>
<path d="M313.1,282.8L333.4,274.4" fill="none" stroke="#000" stroke-width="0.5599999999999999"/>
<path d="M315.5,280.3L336.2,273.1" fill="none" stroke="#000" stroke-width="0.5599999999999999"/>
<path d="M263.2,166.5L265.4,166.0L300.1,157.8L302.4,158.0L304.0,164.4L264.9,173.1Z" fill="#fff" stroke="#000" stroke-width="0.7" stroke-linejoin="round"/>
<path d="M267.4,165.7L304.5,158.5L306.9,159.1L308.0,165.5L271.8,172.1L268.6,172.3Z" fill="#fff" stroke="#000" stroke-width="0.7" stroke-linejoin="round"/>
<path d="M312.7,272.0L315.2,267.9L337.7,262.3L340.9,269.6L338.4,271.7L317.4,277.9Z" fill="#fff" stroke="#000" stroke-width="0.7" stroke-linejoin="round"/>
<path d="M317.4,277.9L338.4,271.7" fill="none" stroke="#000" stroke-width="0.5599999999999999"/>
<path d="M319.4,274.8L340.9,269.6" fill="none" stroke="#000" stroke-width="0.5599999999999999"/>
<path d="M271.8,165.6L309.0,159.9L311.6,161.0L312.2,167.3L276.0,172.6L272.6,172.2Z" fill="#fff" stroke="#000" stroke-width="0.7" stroke-linejoin="round"/>
<path d="M315.8,266.8L317.6,261.9L341.1,257.9L344.9,264.7L342.8,267.5L320.8,271.8Z" fill="#fff" stroke="#000" stroke-width="0.7" stroke-linejoin="round"/>
<path d="M320.8,271.8L342.8,267.5" fill="none" stroke="#000" stroke-width="0.5599999999999999"/>
<path d="M322.3,268.0L344.9,264.7" fill="none" stroke="#000" stroke-width="0.5599999999999999"/>
<path d="M276.6,166.4L313.7,162.2L316.3,163.8L316.4,169.9L280.3,173.9L276.8,172.9Z" fill="#fff" stroke="#000" stroke-width="0.7" stroke-linejoin="round"/>
<path d="M318.1,260.6L319.2,255.0L343.7,252.5L348.0,258.6L346.4,262.1L323.3,264.5Z" fill="#fff" stroke="#000" stroke-width="0.7" stroke-linejoin="round"/>
<path d="M323.3,264.5L346.4,262.1" fill="none" stroke="#000" stroke-width="0.5599999999999999"/>
<path d="M324.2,260.1L348.0,258.6" fill="none" stroke="#000" stroke-width="0.5599999999999999"/>
<path d="M281.2,174.3L281.5,168.1L318.5,165.3L321.1,167.3L320.6,173.2L284.8,176.0Z" fill="#fff" stroke="#000" stroke-width="0.7" stroke-linejoin="round"/>
<path d="M285.7,176.6L286.6,170.8L323.2,169.3L325.8,171.7L324.8,177.3L289.4,179.0Z" fill="#fff" stroke="#000" stroke-width="0.7" stroke-linejoin="round"/>
<path d="M319.5,253.5L319.9,247.4L345.6,246.3L350.2,251.6L349.1,255.5L324.8,256.3Z" fill="#fff" stroke="#000" stroke-width="0.7" stroke-linejoin="round"/>
<path d="M324.8,256.3L349.1,255.5" fill="none" stroke="#000" stroke-width="0.5599999999999999"/>
<path d="M325.1,251.6L350.2,251.6" fill="none" stroke="#000" stroke-width="0.5599999999999999"/>
<path d="M290.3,179.8L291.8,174.3L327.9,174.1L330.4,177.0L328.9,182.1L294.0,182.8Z" fill="#fff" stroke="#000" stroke-width="0.7" stroke-linejoin="round"/>
<path d="M319.8,239.5L346.6,239.4L351.4,243.7L350.9,248.0L325.2,247.4L320.0,245.9Z" fill="#fff" stroke="#000" stroke-width="0.7" stroke-linejoin="round"/>
<path d="M325.2,247.4L350.9,248.0" fill="none" stroke="#000" stroke-width="0.5599999999999999"/>
<path d="M325.0,242.5L351.4,243.7" fill="none" stroke="#000" stroke-width="0.5599999999999999"/>
<path d="M294.9,183.8L296.9,178.9L332.5,179.7L334.9,183.1L332.8,187.6L298.5,187.5Z" fill="#fff" stroke="#000" stroke-width="0.7" stroke-linejoin="round"/>
<path d="M318.7,231.3L346.8,232.0L351.7,235.3L351.7,239.9L324.6,238.2L319.7,237.9Z" fill="#fff" stroke="#000" stroke-width="0.7" stroke-linejoin="round"/>
<path d="M324.6,238.2L351.7,239.9" fill="none" stroke="#000" stroke-width="0.5599999999999999"/>
<path d="M323.9,233.2L351.7,235.3" fill="none" stroke="#000" stroke-width="0.5599999999999999"/>
<path d="M299.4,188.6L302.0,184.4L336.8,186.1L339.0,189.9L336.4,193.8L302.9,193.0Z" fill="#fff" stroke="#000" stroke-width="0.7" stroke-linejoin="round"/>
<path d="M316.9,223.2L346.2,224.4L351.1,226.6L351.5,231.3L318.5,229.7Z" fill="#fff" stroke="#000" stroke-width="0.7" stroke-linejoin="round"/>
<path d="M323.1,228.9L351.5,231.3" fill="none" stroke="#000" stroke-width="0.5599999999999999"/>
<path d="M321.9,223.8L351.1,226.6" fill="none" stroke="#000" stroke-width="0.5599999999999999"/>
<path d="M303.7,194.2L306.9,190.8L340.8,193.2L342.8,197.4L339.6,200.5L306.9,199.2Z" fill="#fff" stroke="#000" stroke-width="0.7" stroke-linejoin="round"/>
<path d="M309.4,194.6L342.8,197.4" fill="none" stroke="#000" stroke-width="0.5599999999999999"/>
<path d="M306.9,190.8L340.8,193.2" fill="none" stroke="#000" stroke-width="0.5599999999999999"/>
<path d="M314.4,215.2L319.0,214.7L344.8,216.7L349.6,217.9L350.5,222.6L346.0,222.9L316.5,221.5Z" fill="#fff" stroke="#000" stroke-width="0.7" stroke-linejoin="round"/>
<path d="M320.7,219.6L350.5,222.6" fill="none" stroke="#000" stroke-width="0.5599999999999999"/>
<path d="M319.0,214.7L349.6,217.9" fill="none" stroke="#000" stroke-width="0.5599999999999999"/>
<path d="M307.7,200.6L311.4,198.1L344.3,201.0L346.0,205.4L342.3,207.7L310.7,206.2Z" fill="#fff" stroke="#000" stroke-width="0.7" stroke-linejoin="round"/>
<path d="M313.7,202.3L346.0,205.4" fill="none" stroke="#000" stroke-width="0.5599999999999999"/>
<path d="M311.4,198.1L344.3,201.0" fill="none" stroke="#000" stroke-width="0.5599999999999999"/>
<path d="M311.3,207.7L315.5,206.1L347.3,209.3L348.6,213.9L344.5,215.2L313.9,213.7Z" fill="#fff" stroke="#000" stroke-width="0.7" stroke-linejoin="round"/>
<path d="M317.5,210.7L348.6,213.9" fill="none" stroke="#000" stroke-width="0.5599999999999999"/>
<path d="M315.5,206.1L347.3,209.3" fill="none" stroke="#000" stroke-width="0.5599999999999999"/>
<path d="M299.4,280.37 L302.43,288.08 L305.54,287.26 L303.41,279.31 L304.36,278.88 L308.07,286.21 L310.88,284.55 L307.98,276.74 L308.83,276.06 L313.12,282.8 L315.54,280.34 L311.95,272.9 L312.66,271.99 L317.41,277.94 L319.38,274.76 L315.2,267.89 L315.76,266.77 L320.84,271.77 L322.29,267.95 L317.64,261.85 L318.05,260.56 L323.3,264.47 L324.21,260.15 L319.23,254.97 L319.47,253.54 L324.75,256.28 L325.11,251.57 L319.93,247.45 L320.01,245.9 L325.18,247.44 L324.98,242.49 L319.76,239.49 L319.66,237.88 L324.59,238.21 L323.88,233.16 L318.74,231.33 L318.49,229.69 L323.06,228.85 L321.87,223.83 L316.93,223.17 L316.53,221.55 L320.66,219.61 L319.04,214.75 L314.43,215.22 L313.89,213.65 L317.5,210.71 L315.52,206.11 L311.31,207.65 L310.66,206.17 L313.7,202.33 L311.42,198.08 L307.69,200.62 L306.95,199.24 L309.38,194.64 L306.87,190.81 L303.67,194.24 L302.86,193 L304.67,187.75 L302.01,184.39 L299.37,188.6 L298.5,187.51 L299.69,181.75 L296.94,178.9 L294.88,183.76 L293.98,182.84 L294.57,176.69 L291.77,174.35 L290.3,179.77 L289.39,179.02 L289.39,172.58 L286.6,170.77 L285.72,176.63 L284.81,176.05 L284.25,169.44 L281.52,168.14 L281.21,174.33 L280.31,173.92 L279.22,167.24 L276.58,166.43 L276.82,172.85 L275.96,172.62 L274.37,165.95 L271.84,165.62 L272.61,172.18 L271.79,172.1 L269.74,165.53 L267.36,165.66 L268.63,172.27 L267.85,172.35 L265.39,165.95 L263.15,166.51 L264.9,173.09 L264.18,173.31 L261.33,167.16 L259.27,168.13 L261.46,174.6 L260.8,174.97 L257.6,169.13 L255.73,170.49 L258.33,176.77 L257.74,177.28 L254.23,171.81 L252.56,173.55 L255.53,179.58 L255.02,180.22 L251.23,175.18 L249.78,177.28 L253.1,183 L252.66,183.76 L248.64,179.21 L247.42,181.65 L251.05,186.99 L250.69,187.87 L246.49,183.87 L245.52,186.64 L249.41,191.54 L249.15,192.53 L244.8,189.14 L244.09,192.22 L248.21,196.61 L248.05,197.71 L243.6,194.98 L243.18,198.36 L247.48,202.18 L247.43,203.36 L242.94,201.36 L242.82,205.01 L247.27,208.18 L247.32,209.45 L242.86,208.22 L243.06,212.11 L247.58,214.58 L247.75,215.92 L243.37,215.52 L243.92,219.6 L248.47,221.31 L248.76,222.69 L244.54,223.16 L245.44,227.4 L249.95,228.27 L250.36,229.67 L246.37,231.05 L247.65,235.37 L252.04,235.36 L252.57,236.77 L248.89,239.07 L250.54,243.4 L254.74,242.45 L255.39,243.84 L252.11,247.07 L254.13,251.33 L258.04,249.41 L258.81,250.74 L256.01,254.89 L258.39,258.98 L261.92,256.08 L262.79,257.32 L260.55,262.35 L263.26,266.15 L266.32,262.28 L267.28,263.4 L265.69,269.24 L268.68,272.66 L271.18,267.84 L272.21,268.8 L271.33,275.36 L274.55,278.28 L276.39,272.59 L277.48,273.36 L277.36,280.51 L280.73,282.83 L281.86,276.36 L282.97,276.92 L283.65,284.51 L287.1,286.12 L287.44,279.01 L288.55,279.34 L290.04,287.18 L293.47,288.02 L292.99,280.43 L294.08,280.51 L296.36,288.4 L299.68,288.42 L298.37,280.54Z" fill="#fff" stroke="#000" stroke-width="1.3" stroke-linejoin="round" />
<path d="M302.13,276.8 L303.98,276.01 L305.74,275.01 L307.41,273.8 L308.99,272.39 L310.45,270.78 L311.8,268.99 L313.03,267.02 L314.14,264.87 L315.12,262.57 L315.97,260.11 L316.67,257.51 L317.24,254.78 L317.67,251.93 L317.95,248.98 L318.09,245.93 L318.08,242.8 L317.92,239.6 L317.62,236.35 L317.18,233.05 L316.59,229.73 L315.87,226.4 L315.01,223.08 L314.01,219.77 L312.89,216.49 L311.64,213.25 L310.27,210.08 L308.79,206.97 L307.21,203.95 L305.53,201.04 L303.75,198.23 L301.89,195.54 L299.95,192.99 L297.95,190.59 L295.88,188.34 L293.77,186.26 L291.61,184.35 L289.42,182.62 L287.2,181.09 L284.98,179.75 L282.74,178.61 L280.52,177.68 L278.31,176.96 L276.12,176.46 L273.97,176.17 L271.86,176.1 L269.8,176.25 L267.8,176.62 L265.87,177.2 L264.02,177.99 L262.26,178.99 L260.59,180.2 L259.01,181.61 L257.55,183.22 L256.2,185.01 L254.97,186.98 L253.86,189.13 L252.88,191.43 L252.03,193.89 L251.33,196.49 L250.76,199.22 L250.33,202.07 L250.05,205.02 L249.91,208.07 L249.92,211.2 L250.08,214.4 L250.38,217.65 L250.82,220.95 L251.41,224.27 L252.13,227.6 L252.99,230.92 L253.99,234.23 L255.11,237.51 L256.36,240.75 L257.73,243.92 L259.21,247.03 L260.79,250.05 L262.47,252.96 L264.25,255.77 L266.11,258.46 L268.05,261.01 L270.05,263.41 L272.12,265.66 L274.23,267.74 L276.39,269.65 L278.58,271.38 L280.8,272.91 L283.02,274.25 L285.26,275.39 L287.48,276.32 L289.69,277.04 L291.88,277.54 L294.03,277.83 L296.14,277.9 L298.2,277.75 L300.2,277.38 L302.13,276.8Z" fill="none" stroke="#333" stroke-width="0.8" stroke-linejoin="round" />
<path d="M304.69,272.15 L306.57,271.35 L308.37,270.36 L310.08,269.17 L311.7,267.8 L313.21,266.25 L314.61,264.52 L315.9,262.63 L317.07,260.58 L318.12,258.38 L319.03,256.04 L319.81,253.57 L320.45,250.98 L320.95,248.28 L321.31,245.49 L321.53,242.61 L321.6,239.65 L321.53,236.64 L321.31,233.58 L320.95,230.48 L320.45,227.37 L319.8,224.25 L319.02,221.13 L318.11,218.03 L317.06,214.97 L315.89,211.95 L314.6,208.99 L313.2,206.1 L311.68,203.29 L310.07,200.58 L308.35,197.98 L306.55,195.49 L304.67,193.14 L302.72,190.92 L300.7,188.85 L298.63,186.94 L296.51,185.2 L294.35,183.63 L292.17,182.24 L289.96,181.03 L287.75,180.02 L285.54,179.2 L283.33,178.58 L281.15,178.16 L278.99,177.94 L276.87,177.93 L274.8,178.12 L272.78,178.52 L270.83,179.12 L268.95,179.91 L267.15,180.91 L265.44,182.09 L263.82,183.46 L262.31,185.01 L260.9,186.74 L259.61,188.63 L258.44,190.68 L257.4,192.88 L256.49,195.22 L255.71,197.69 L255.07,200.28 L254.56,202.98 L254.2,205.78 L253.99,208.66 L253.92,211.61 L253.99,214.62 L254.21,217.69 L254.57,220.78 L255.07,223.9 L255.71,227.02 L256.5,230.14 L257.41,233.23 L258.45,236.3 L259.62,239.32 L260.91,242.28 L262.32,245.17 L263.83,247.97 L265.45,250.68 L267.16,253.29 L268.96,255.77 L270.85,258.13 L272.8,260.34 L274.82,262.41 L276.89,264.32 L279.01,266.06 L281.17,267.64 L283.35,269.03 L285.55,270.23 L287.77,271.25 L289.98,272.07 L292.19,272.69 L294.37,273.11 L296.53,273.32 L298.65,273.33 L300.72,273.14 L302.74,272.74 L304.69,272.15Z" fill="none" stroke="#000" stroke-width="1.0" stroke-linejoin="round" />
<path d="M305.88,257.88 L307.27,257.29 L308.59,256.56 L309.86,255.69 L311.05,254.67 L312.16,253.53 L313.2,252.26 L314.15,250.86 L315.01,249.35 L315.78,247.73 L316.46,246 L317.03,244.18 L317.5,242.27 L317.87,240.28 L318.14,238.22 L318.3,236.1 L318.35,233.92 L318.3,231.7 L318.14,229.44 L317.87,227.16 L317.5,224.86 L317.03,222.56 L316.45,220.26 L315.78,217.98 L315.01,215.72 L314.14,213.49 L313.19,211.31 L312.15,209.17 L311.04,207.11 L309.85,205.11 L308.58,203.19 L307.26,201.36 L305.87,199.62 L304.43,197.99 L302.94,196.46 L301.41,195.05 L299.85,193.77 L298.26,192.61 L296.65,191.58 L295.02,190.69 L293.39,189.94 L291.76,189.34 L290.13,188.88 L288.52,188.57 L286.93,188.41 L285.37,188.41 L283.84,188.55 L282.35,188.84 L280.91,189.28 L279.53,189.87 L278.2,190.6 L276.94,191.47 L275.75,192.49 L274.63,193.63 L273.59,194.9 L272.64,196.3 L271.78,197.81 L271.01,199.43 L270.34,201.16 L269.76,202.98 L269.29,204.89 L268.92,206.88 L268.65,208.94 L268.49,211.06 L268.44,213.24 L268.5,215.46 L268.66,217.72 L268.92,220 L269.29,222.3 L269.77,224.6 L270.34,226.9 L271.02,229.18 L271.79,231.44 L272.65,233.67 L273.6,235.85 L274.64,237.98 L275.76,240.05 L276.95,242.05 L278.21,243.97 L279.54,245.8 L280.93,247.54 L282.37,249.17 L283.85,250.7 L285.38,252.11 L286.94,253.39 L288.54,254.55 L290.15,255.58 L291.77,256.47 L293.4,257.22 L295.04,257.82 L296.66,258.28 L298.27,258.59 L299.86,258.75 L301.43,258.75 L302.95,258.61 L304.44,258.32 L305.88,257.88Z" fill="none" stroke="#000" stroke-width="0.9" stroke-linejoin="round" />
<line x1="275.96" y1="192.29" x2="270.32" y2="194.35" stroke="#000" stroke-width="0.8" stroke-linecap="round"/>
<line x1="314.71" y1="249.91" x2="308.13" y2="252.3" stroke="#000" stroke-width="0.8" stroke-linecap="round"/>
<path d="M301.95,247.07 L302.9,246.67 L303.81,246.17 L304.67,245.57 L305.49,244.88 L306.25,244.09 L306.96,243.22 L307.61,242.27 L308.2,241.23 L308.73,240.12 L309.19,238.94 L309.58,237.69 L309.91,236.38 L310.16,235.02 L310.34,233.61 L310.45,232.15 L310.49,230.66 L310.45,229.14 L310.34,227.59 L310.16,226.03 L309.91,224.46 L309.58,222.88 L309.19,221.31 L308.72,219.74 L308.2,218.19 L307.61,216.67 L306.95,215.17 L306.24,213.71 L305.48,212.3 L304.66,210.93 L303.8,209.61 L302.89,208.36 L301.94,207.17 L300.95,206.05 L299.93,205 L298.89,204.04 L297.82,203.16 L296.73,202.37 L295.62,201.66 L294.51,201.05 L293.39,200.54 L292.27,200.13 L291.16,199.81 L290.06,199.6 L288.97,199.49 L287.9,199.49 L286.85,199.59 L285.83,199.79 L284.85,200.09 L283.9,200.49 L282.99,200.99 L282.12,201.59 L281.31,202.28 L280.54,203.07 L279.83,203.94 L279.18,204.89 L278.59,205.93 L278.06,207.04 L277.6,208.22 L277.21,209.47 L276.89,210.78 L276.63,212.14 L276.45,213.55 L276.34,215.01 L276.3,216.5 L276.34,218.02 L276.45,219.57 L276.63,221.13 L276.89,222.7 L277.21,224.28 L277.61,225.85 L278.07,227.42 L278.6,228.97 L279.19,230.49 L279.84,231.99 L280.55,233.45 L281.31,234.86 L282.13,236.23 L283,237.55 L283.9,238.8 L284.85,239.99 L285.84,241.11 L286.86,242.15 L287.91,243.12 L288.98,244 L290.07,244.79 L291.17,245.5 L292.28,246.11 L293.4,246.62 L294.52,247.03 L295.63,247.35 L296.74,247.56 L297.83,247.67 L298.9,247.67 L299.94,247.57 L300.96,247.37 L301.95,247.07Z" fill="#fff" stroke="#000" stroke-width="1.2" stroke-linejoin="round" />
<g clip-path="url(#c3)">
<path d="M326.38,238.18 L327.33,237.78 L328.24,237.28 L329.1,236.68 L329.92,235.98 L330.68,235.2 L331.39,234.33 L332.04,233.37 L332.63,232.34 L333.16,231.23 L333.62,230.05 L334.02,228.8 L334.34,227.49 L334.59,226.13 L334.78,224.71 L334.89,223.26 L334.92,221.77 L334.88,220.25 L334.77,218.7 L334.59,217.14 L334.34,215.56 L334.01,213.99 L333.62,212.41 L333.16,210.85 L332.63,209.3 L332.04,207.78 L331.39,206.28 L330.68,204.82 L329.91,203.4 L329.1,202.03 L328.23,200.72 L327.32,199.47 L326.37,198.28 L325.38,197.16 L324.37,196.11 L323.32,195.15 L322.25,194.27 L321.16,193.47 L320.06,192.77 L318.94,192.16 L317.82,191.65 L316.71,191.24 L315.59,190.92 L314.49,190.71 L313.4,190.6 L312.33,190.6 L311.28,190.69 L310.26,190.89 L309.28,191.19 L308.33,191.6 L307.42,192.1 L306.56,192.7 L305.74,193.39 L304.97,194.17 L304.27,195.04 L303.61,196 L303.02,197.04 L302.5,198.15 L302.04,199.33 L301.64,200.58 L301.32,201.88 L301.06,203.25 L300.88,204.66 L300.77,206.11 L300.74,207.61 L300.77,209.13 L300.88,210.67 L301.07,212.24 L301.32,213.81 L301.65,215.39 L302.04,216.96 L302.5,218.53 L303.03,220.07 L303.62,221.6 L304.27,223.09 L304.98,224.55 L305.75,225.97 L306.56,227.34 L307.43,228.65 L308.34,229.91 L309.29,231.1 L310.27,232.22 L311.29,233.26 L312.34,234.23 L313.41,235.11 L314.5,235.9 L315.6,236.6 L316.72,237.21 L317.83,237.73 L318.95,238.14 L320.06,238.45 L321.17,238.66 L322.26,238.77 L323.33,238.78 L324.37,238.68 L325.39,238.48 L326.38,238.18Z" fill="none" stroke="#000" stroke-width="1.0" stroke-linejoin="round" />
</g>
<path d="M285.6,199.85 L285.13,198.42 L282.52,199.54 L283.14,200.9Z" fill="#fff" stroke="#000" stroke-width="0.9" stroke-linejoin="round" />
<line x1="293.4" y1="223.58" x2="230.09" y2="252.1" stroke="#000" stroke-width="0.9" stroke-linecap="round"/>
<path d="M206.37,245.73 L206.46,244.03 L206.63,242.37 L206.89,240.76 L207.24,239.2 L207.67,237.7 L208.18,236.27 L208.77,234.91 L209.44,233.63 L210.18,232.43 L210.99,231.33 L211.88,230.31 L212.82,229.4 L213.82,228.59 L214.89,227.88 L216,227.29 L217.16,226.8 L219.22,226.05 L220.42,225.68 L221.66,225.42 L222.92,225.28 L224.22,225.25 L225.53,225.35 L226.85,225.56 L228.19,225.88 L229.52,226.32 L230.86,226.87 L232.19,227.53 L233.5,228.3 L234.79,229.17 L236.06,230.14 L237.29,231.21 L238.49,232.37 L239.65,233.62 L240.76,234.94 L241.82,236.35 L242.83,237.82 L243.78,239.35 L244.66,240.94 L245.47,242.59 L246.22,244.27 L246.89,245.99 L247.48,247.74 L247.99,249.5 L248.42,251.28 L248.77,253.07 L249.03,254.85 L249.21,256.63 L249.29,258.39 L249.29,260.12 L249.21,261.82 L249.03,263.48 L248.78,265.09 L248.43,266.65 L248,268.15 L247.49,269.58 L246.9,270.94 L246.23,272.22 L245.49,273.41 L244.67,274.52 L243.79,275.53 L242.85,276.45 L241.84,277.26 L240.78,277.96 L239.67,278.56 L238.51,279.05 L236.44,279.8 L235.25,280.17 L234.01,280.43 L232.74,280.57 L231.45,280.59 L230.14,280.5 L228.81,280.29 L227.48,279.97 L226.14,279.53 L224.81,278.98 L223.48,278.32 L222.17,277.55 L220.88,276.68 L219.61,275.7 L218.38,274.63 L217.18,273.48 L216.02,272.23 L214.91,270.9 L213.84,269.5 L212.84,268.03 L211.89,266.49 L211.01,264.9 L210.19,263.26 L209.45,261.58 L208.78,259.86 L208.19,258.11 L207.68,256.34 L207.25,254.56 L206.9,252.78 L206.64,250.99 L206.46,249.22 L206.37,247.46Z" fill="#fff" stroke="#000" stroke-width="1.3" stroke-linejoin="round" />
<path d="M236.44,279.8 L237.6,279.31 L238.71,278.72 L239.78,278.01 L240.78,277.2 L241.73,276.28 L242.61,275.27 L243.42,274.17 L244.16,272.97 L244.83,271.69 L245.42,270.33 L245.93,268.9 L246.36,267.4 L246.71,265.84 L246.97,264.23 L247.14,262.57 L247.23,260.87 L247.23,259.14 L247.14,257.38 L246.96,255.61 L246.7,253.82 L246.35,252.04 L245.92,250.26 L245.41,248.49 L244.82,246.74 L244.15,245.02 L243.41,243.34 L242.59,241.7 L241.71,240.11 L240.76,238.57 L239.76,237.1 L238.7,235.7 L237.58,234.37 L236.42,233.12 L235.22,231.96 L233.99,230.9 L232.72,229.92 L231.43,229.05 L230.12,228.28 L228.79,227.62 L227.46,227.07 L226.12,226.63 L224.78,226.31 L223.46,226.1 L222.15,226.01 L220.86,226.03 L219.59,226.17 L218.35,226.43 L217.16,226.8 L216,227.29 L214.89,227.88 L213.82,228.59 L212.82,229.4 L211.87,230.32 L210.99,231.33 L210.18,232.43 L209.44,233.63 L208.77,234.91 L208.18,236.27 L207.67,237.7 L207.24,239.2 L206.89,240.76 L206.63,242.37 L206.46,244.03 L206.37,245.73 L206.37,247.46 L206.46,249.22 L206.64,250.99 L206.9,252.78 L207.25,254.56 L207.68,256.34 L208.19,258.11 L208.78,259.86 L209.45,261.58 L210.19,263.26 L211.01,264.9 L211.89,266.49 L212.84,268.03 L213.84,269.5 L214.9,270.9 L216.02,272.23 L217.18,273.48 L218.38,274.64 L219.61,275.7 L220.88,276.68 L222.17,277.55 L223.48,278.32 L224.81,278.98 L226.14,279.53 L227.48,279.97 L228.82,280.29 L230.14,280.5 L231.45,280.59 L232.74,280.57 L234.01,280.43 L235.25,280.17 L236.44,279.8Z" fill="#fff" stroke="#333" stroke-width="0.7" stroke-linejoin="round" />
<path d="M235.78,277.97 L236.86,277.51 L237.89,276.96 L238.88,276.3 L239.81,275.55 L240.69,274.7 L241.51,273.75 L242.27,272.72 L242.96,271.61 L243.58,270.42 L244.13,269.15 L244.61,267.82 L245.01,266.43 L245.33,264.97 L245.57,263.47 L245.73,261.93 L245.82,260.35 L245.81,258.73 L245.73,257.1 L245.57,255.45 L245.33,253.79 L245,252.12 L244.6,250.47 L244.12,248.82 L243.57,247.19 L242.95,245.59 L242.26,244.03 L241.5,242.5 L240.68,241.02 L239.8,239.59 L238.86,238.22 L237.87,236.91 L236.84,235.68 L235.76,234.52 L234.64,233.44 L233.49,232.45 L232.31,231.54 L231.11,230.73 L229.89,230.01 L228.65,229.4 L227.41,228.89 L226.17,228.48 L224.92,228.17 L223.69,227.98 L222.47,227.89 L221.27,227.92 L220.09,228.05 L218.94,228.29 L217.82,228.63 L216.74,229.09 L215.71,229.64 L214.72,230.3 L213.79,231.05 L212.91,231.9 L212.09,232.85 L211.33,233.88 L210.64,234.99 L210.02,236.18 L209.47,237.45 L208.99,238.78 L208.59,240.17 L208.27,241.63 L208.03,243.13 L207.87,244.67 L207.78,246.25 L207.79,247.87 L207.87,249.5 L208.03,251.15 L208.27,252.81 L208.6,254.48 L209,256.13 L209.48,257.78 L210.03,259.41 L210.65,261.01 L211.34,262.57 L212.1,264.1 L212.92,265.58 L213.8,267.01 L214.74,268.38 L215.73,269.69 L216.76,270.92 L217.84,272.08 L218.96,273.16 L220.11,274.15 L221.29,275.06 L222.49,275.87 L223.71,276.59 L224.95,277.2 L226.19,277.71 L227.43,278.12 L228.68,278.43 L229.91,278.62 L231.13,278.71 L232.33,278.68 L233.51,278.55 L234.66,278.31 L235.78,277.97Z" fill="none" stroke="#888" stroke-width="0.6" stroke-linejoin="round" />
<path d="M235.11,276.13 L236.11,275.72 L237.07,275.2 L237.98,274.59 L238.85,273.89 L239.66,273.11 L240.42,272.23 L241.12,271.28 L241.76,270.25 L242.34,269.15 L242.85,267.98 L243.29,266.74 L243.66,265.45 L243.95,264.11 L244.18,262.72 L244.33,261.29 L244.4,259.82 L244.4,258.33 L244.33,256.82 L244.17,255.29 L243.95,253.75 L243.65,252.21 L243.28,250.68 L242.84,249.15 L242.33,247.65 L241.75,246.17 L241.11,244.72 L240.41,243.3 L239.65,241.93 L238.83,240.61 L237.97,239.34 L237.05,238.13 L236.09,236.99 L235.09,235.91 L234.06,234.92 L232.99,234 L231.9,233.16 L230.79,232.41 L229.66,231.74 L228.52,231.17 L227.37,230.7 L226.21,230.32 L225.06,230.04 L223.92,229.86 L222.79,229.78 L221.68,229.8 L220.59,229.92 L219.52,230.14 L218.49,230.47 L217.49,230.88 L216.53,231.4 L215.62,232.01 L214.75,232.71 L213.94,233.49 L213.18,234.37 L212.48,235.32 L211.84,236.35 L211.26,237.45 L210.75,238.62 L210.31,239.86 L209.94,241.15 L209.65,242.49 L209.42,243.88 L209.27,245.31 L209.2,246.78 L209.2,248.27 L209.27,249.78 L209.43,251.31 L209.65,252.85 L209.95,254.39 L210.32,255.92 L210.76,257.45 L211.27,258.95 L211.85,260.43 L212.49,261.88 L213.19,263.3 L213.95,264.67 L214.77,265.99 L215.63,267.26 L216.55,268.47 L217.51,269.61 L218.51,270.69 L219.54,271.68 L220.61,272.6 L221.7,273.44 L222.81,274.19 L223.94,274.86 L225.08,275.43 L226.23,275.9 L227.39,276.28 L228.54,276.56 L229.68,276.74 L230.81,276.82 L231.92,276.8 L233.01,276.68 L234.08,276.46 L235.11,276.13Z" fill="#fff" stroke="#000" stroke-width="1.1" stroke-linejoin="round" />
<g clip-path="url(#c4)">
<path d="M237.18,275.38 L238.18,274.96 L239.13,274.45 L240.05,273.84 L240.91,273.14 L241.73,272.35 L242.49,271.48 L243.19,270.53 L243.83,269.5 L244.4,268.39 L244.91,267.22 L245.35,265.99 L245.72,264.7 L246.02,263.35 L246.25,261.96 L246.4,260.53 L246.47,259.07 L246.47,257.58 L246.39,256.06 L246.24,254.54 L246.02,253 L245.72,251.46 L245.35,249.92 L244.91,248.4 L244.39,246.9 L243.82,245.41 L243.18,243.96 L242.48,242.55 L241.71,241.18 L240.9,239.86 L240.03,238.59 L239.12,237.38 L238.16,236.24 L237.16,235.16 L236.13,234.16 L235.06,233.24 L233.97,232.4 L232.86,231.65 L231.73,230.99 L230.58,230.42 L229.43,229.95 L228.28,229.57 L227.13,229.29 L225.99,229.11 L224.86,229.03 L223.75,229.05 L222.65,229.17 L221.59,229.39 L220.56,229.71 L219.56,230.13 L218.6,230.65 L217.69,231.25 L216.82,231.95 L216.01,232.74 L215.25,233.61 L214.55,234.57 L213.91,235.6 L213.33,236.7 L212.82,237.87 L212.38,239.11 L212.01,240.4 L211.71,241.74 L211.49,243.13 L211.34,244.56 L211.26,246.02 L211.27,247.52 L211.34,249.03 L211.49,250.56 L211.72,252.1 L212.02,253.64 L212.39,255.17 L212.83,256.69 L213.34,258.2 L213.92,259.68 L214.56,261.13 L215.26,262.55 L216.02,263.92 L216.84,265.24 L217.7,266.51 L218.62,267.72 L219.58,268.86 L220.57,269.93 L221.61,270.93 L222.67,271.85 L223.76,272.69 L224.88,273.44 L226.01,274.1 L227.15,274.67 L228.3,275.15 L229.45,275.53 L230.6,275.81 L231.75,275.99 L232.88,276.07 L233.99,276.05 L235.08,275.92 L236.15,275.7 L237.18,275.38Z" fill="none" stroke="#000" stroke-width="1.1" stroke-linejoin="round" />
</g>
<line x1="224.17" y1="229.89" x2="223.75" y2="226.13" stroke="#000" stroke-width="1.3" stroke-linecap="round"/>
<line x1="222.45" y1="229.78" x2="221.75" y2="226" stroke="#000" stroke-width="1.3" stroke-linecap="round"/>
<line x1="230.09" y1="252.1" x2="188.07" y2="270.33" stroke="#000" stroke-width="0.9" stroke-linecap="round"/>
<path d="M176.7,264.63 L176.74,263.5 L176.83,262.39 L176.99,261.31 L177.2,260.27 L177.47,259.26 L177.79,258.3 L178.17,257.39 L178.6,256.53 L179.08,255.72 L179.61,254.97 L180.19,254.29 L180.81,253.67 L181.47,253.12 L182.16,252.63 L182.9,252.22 L183.66,251.89 L184.46,251.62 L185.28,251.44 L186.12,251.33 L186.98,251.3 L187.86,251.34 L188.75,251.47 L189.64,251.67 L190.53,251.95 L191.43,252.3 L192.32,252.72 L193.21,253.22 L194.08,253.79 L194.93,254.42 L195.77,255.12 L196.58,255.88 L197.37,256.69 L198.13,257.56 L198.85,258.49 L199.54,259.46 L200.19,260.47 L200.79,261.52 L201.36,262.6 L201.87,263.72 L202.34,264.86 L202.75,266.01 L203.12,267.19 L203.42,268.37 L203.68,269.55 L203.87,270.74 L204.01,271.92 L204.09,273.09 L204.11,274.25 L204.07,275.38 L203.97,276.49 L203.82,277.56 L203.61,278.61 L203.34,279.61 L203.01,280.57 L202.63,281.49 L202.21,282.35 L201.72,283.15 L201.19,283.9 L200.62,284.58 L200,285.2 L199.34,285.76 L198.64,286.24 L197.91,286.65 L197.14,286.99 L196.34,287.25 L195.52,287.44 L194.68,287.55 L193.82,287.58 L192.95,287.53 L192.06,287.41 L191.17,287.2 L190.27,286.93 L189.37,286.58 L188.48,286.15 L187.6,285.65 L186.73,285.09 L185.87,284.45 L185.03,283.76 L184.22,283 L183.44,282.18 L182.68,281.31 L181.95,280.39 L181.27,279.42 L180.62,278.4 L180.01,277.36 L179.45,276.27 L178.93,275.16 L178.47,274.02 L178.05,272.86 L177.69,271.69 L177.38,270.51 L177.13,269.32 L176.94,268.13 L176.8,266.95 L176.72,265.78Z" fill="#fff" stroke="#000" stroke-width="0.9" stroke-linejoin="round" />
<line x1="171.22" y1="273.72" x2="175.45" y2="271.75" stroke="#000" stroke-width="7.0" stroke-linecap="round"/>
<line x1="171.22" y1="273.72" x2="175.45" y2="271.75" stroke="#fff" stroke-width="4.8" stroke-linecap="round"/>
<line x1="174.69" y1="281.48" x2="179.31" y2="280.38" stroke="#000" stroke-width="7.0" stroke-linecap="round"/>
<line x1="174.69" y1="281.48" x2="179.31" y2="280.38" stroke="#fff" stroke-width="4.8" stroke-linecap="round"/>
<line x1="170.54" y1="265.59" x2="174.69" y2="262.7" stroke="#000" stroke-width="7.0" stroke-linecap="round"/>
<line x1="170.54" y1="265.59" x2="174.69" y2="262.7" stroke="#fff" stroke-width="4.8" stroke-linecap="round"/>
<line x1="180.16" y1="287.1" x2="185.39" y2="286.64" stroke="#000" stroke-width="7.0" stroke-linecap="round"/>
<line x1="180.16" y1="287.1" x2="185.39" y2="286.64" stroke="#fff" stroke-width="4.8" stroke-linecap="round"/>
<line x1="172.8" y1="258.96" x2="177.21" y2="255.33" stroke="#000" stroke-width="7.0" stroke-linecap="round"/>
<line x1="172.8" y1="258.96" x2="177.21" y2="255.33" stroke="#fff" stroke-width="4.8" stroke-linecap="round"/>
<line x1="186.37" y1="289.29" x2="192.3" y2="289.07" stroke="#000" stroke-width="7.0" stroke-linecap="round"/>
<line x1="186.37" y1="289.29" x2="192.3" y2="289.07" stroke="#fff" stroke-width="4.8" stroke-linecap="round"/>
<line x1="177.5" y1="255.34" x2="182.44" y2="251.3" stroke="#000" stroke-width="7.0" stroke-linecap="round"/>
<line x1="177.5" y1="255.34" x2="182.44" y2="251.3" stroke="#fff" stroke-width="4.8" stroke-linecap="round"/>
<line x1="191.9" y1="287.55" x2="198.45" y2="287.13" stroke="#000" stroke-width="7.0" stroke-linecap="round"/>
<line x1="191.9" y1="287.55" x2="198.45" y2="287.13" stroke="#fff" stroke-width="4.8" stroke-linecap="round"/>
<line x1="183.54" y1="255.57" x2="189.16" y2="251.56" stroke="#000" stroke-width="7.0" stroke-linecap="round"/>
<line x1="183.54" y1="255.57" x2="189.16" y2="251.56" stroke="#fff" stroke-width="4.8" stroke-linecap="round"/>
<line x1="195.48" y1="282.27" x2="202.44" y2="281.26" stroke="#000" stroke-width="7.0" stroke-linecap="round"/>
<line x1="195.48" y1="282.27" x2="202.44" y2="281.26" stroke="#fff" stroke-width="4.8" stroke-linecap="round"/>
<line x1="189.56" y1="259.59" x2="195.85" y2="256.04" stroke="#000" stroke-width="7.0" stroke-linecap="round"/>
<line x1="189.56" y1="259.59" x2="195.85" y2="256.04" stroke="#fff" stroke-width="4.8" stroke-linecap="round"/>
<line x1="196.3" y1="274.67" x2="203.35" y2="272.81" stroke="#000" stroke-width="7.0" stroke-linecap="round"/>
<line x1="196.3" y1="274.67" x2="203.35" y2="272.81" stroke="#fff" stroke-width="4.8" stroke-linecap="round"/>
<line x1="194.16" y1="266.49" x2="200.97" y2="263.7" stroke="#000" stroke-width="7.0" stroke-linecap="round"/>
<line x1="194.16" y1="266.49" x2="200.97" y2="263.7" stroke="#fff" stroke-width="4.8" stroke-linecap="round"/>
<path d="M167.84,268.72 L167.88,267.67 L167.97,266.64 L168.11,265.63 L168.31,264.66 L168.56,263.73 L168.86,262.83 L169.21,261.99 L169.61,261.18 L170.06,260.43 L170.55,259.74 L171.09,259.1 L171.67,258.52 L172.28,258.01 L172.93,257.56 L173.62,257.18 L174.33,256.86 L177.13,255.79 L177.87,255.54 L178.63,255.37 L179.42,255.27 L180.22,255.24 L181.03,255.28 L181.86,255.4 L182.69,255.59 L183.52,255.84 L184.36,256.17 L185.19,256.57 L186.01,257.03 L186.82,257.56 L187.62,258.15 L188.4,258.8 L189.15,259.5 L189.89,260.26 L190.59,261.07 L191.26,261.93 L191.91,262.83 L192.51,263.78 L193.07,264.75 L193.6,265.76 L194.08,266.8 L194.51,267.86 L194.9,268.94 L195.23,270.03 L195.52,271.13 L195.75,272.23 L195.94,273.34 L196.06,274.44 L196.14,275.53 L196.16,276.6 L196.12,277.66 L196.03,278.69 L195.89,279.69 L195.69,280.66 L195.44,281.6 L195.14,282.49 L194.79,283.34 L194.39,284.14 L193.94,284.89 L193.45,285.59 L192.91,286.23 L192.33,286.8 L191.72,287.32 L191.07,287.77 L190.38,288.15 L189.67,288.46 L186.87,289.54 L186.13,289.78 L185.37,289.95 L184.58,290.06 L183.78,290.08 L182.97,290.04 L182.14,289.93 L181.31,289.74 L180.48,289.48 L179.64,289.15 L178.81,288.76 L177.99,288.3 L177.18,287.77 L176.38,287.18 L175.6,286.53 L174.85,285.82 L174.12,285.06 L173.41,284.25 L172.74,283.39 L172.1,282.49 L171.49,281.55 L170.93,280.57 L170.4,279.56 L169.92,278.52 L169.49,277.46 L169.1,276.39 L168.77,275.3 L168.48,274.19 L168.25,273.09 L168.06,271.99 L167.94,270.89 L167.86,269.8Z" fill="#fff" stroke="#000" stroke-width="1.1" stroke-linejoin="round" />
<path d="M186.87,289.54 L187.58,289.22 L188.27,288.84 L188.92,288.39 L189.53,287.88 L190.11,287.3 L190.65,286.66 L191.14,285.97 L191.59,285.22 L191.99,284.41 L192.34,283.57 L192.64,282.67 L192.89,281.74 L193.09,280.77 L193.23,279.76 L193.32,278.73 L193.36,277.68 L193.34,276.6 L193.26,275.51 L193.14,274.41 L192.95,273.31 L192.72,272.2 L192.43,271.1 L192.1,270.01 L191.71,268.94 L191.28,267.88 L190.8,266.84 L190.27,265.83 L189.71,264.85 L189.1,263.91 L188.46,263.01 L187.79,262.15 L187.09,261.34 L186.35,260.58 L185.6,259.87 L184.82,259.22 L184.02,258.63 L183.21,258.1 L182.39,257.64 L181.56,257.25 L180.72,256.92 L179.89,256.66 L179.06,256.47 L178.23,256.36 L177.42,256.32 L176.62,256.34 L175.83,256.45 L175.07,256.62 L174.33,256.86 L173.62,257.18 L172.93,257.56 L172.28,258.01 L171.67,258.52 L171.09,259.1 L170.55,259.74 L170.06,260.43 L169.61,261.18 L169.21,261.99 L168.86,262.83 L168.56,263.73 L168.31,264.66 L168.11,265.63 L167.97,266.64 L167.88,267.67 L167.84,268.72 L167.86,269.8 L167.94,270.89 L168.06,271.99 L168.25,273.09 L168.48,274.2 L168.77,275.3 L169.1,276.39 L169.49,277.46 L169.92,278.52 L170.4,279.56 L170.93,280.57 L171.49,281.55 L172.1,282.49 L172.74,283.39 L173.41,284.25 L174.11,285.06 L174.85,285.82 L175.6,286.53 L176.38,287.18 L177.18,287.77 L177.99,288.3 L178.81,288.76 L179.64,289.15 L180.48,289.48 L181.31,289.74 L182.14,289.93 L182.97,290.04 L183.78,290.08 L184.58,290.06 L185.37,289.95 L186.13,289.78 L186.87,289.54Z" fill="#fff" stroke="#000" stroke-width="1.1" stroke-linejoin="round" />
<path d="M186.23,287.86 L186.87,287.58 L187.48,287.23 L188.06,286.83 L188.61,286.37 L189.13,285.85 L189.61,285.28 L190.05,284.65 L190.46,283.98 L190.82,283.26 L191.13,282.5 L191.4,281.7 L191.63,280.86 L191.8,279.99 L191.93,279.09 L192.01,278.16 L192.04,277.22 L192.03,276.25 L191.96,275.27 L191.85,274.29 L191.68,273.3 L191.47,272.31 L191.22,271.32 L190.91,270.34 L190.57,269.37 L190.18,268.42 L189.75,267.49 L189.28,266.59 L188.77,265.71 L188.23,264.87 L187.66,264.06 L187.05,263.29 L186.42,262.56 L185.76,261.88 L185.08,261.24 L184.38,260.66 L183.67,260.13 L182.94,259.66 L182.2,259.24 L181.46,258.89 L180.71,258.59 L179.96,258.36 L179.22,258.19 L178.48,258.09 L177.74,258.05 L177.03,258.08 L176.32,258.17 L175.64,258.32 L174.97,258.54 L174.33,258.82 L173.72,259.17 L173.14,259.57 L172.59,260.03 L172.07,260.55 L171.59,261.12 L171.15,261.75 L170.74,262.42 L170.38,263.14 L170.07,263.9 L169.8,264.7 L169.57,265.54 L169.4,266.41 L169.27,267.31 L169.19,268.24 L169.16,269.18 L169.17,270.15 L169.24,271.13 L169.35,272.11 L169.52,273.1 L169.73,274.09 L169.98,275.08 L170.29,276.06 L170.63,277.03 L171.02,277.98 L171.45,278.91 L171.92,279.81 L172.43,280.69 L172.97,281.53 L173.54,282.34 L174.15,283.11 L174.78,283.84 L175.44,284.52 L176.12,285.16 L176.82,285.74 L177.53,286.27 L178.26,286.74 L179,287.16 L179.74,287.51 L180.49,287.81 L181.24,288.04 L181.98,288.21 L182.72,288.31 L183.46,288.35 L184.17,288.32 L184.88,288.23 L185.56,288.08 L186.23,287.86Z" fill="none" stroke="#444" stroke-width="0.6" stroke-linejoin="round" />
<path d="M185.44,285.8 L185.99,285.56 L186.52,285.27 L187.02,284.92 L187.49,284.52 L187.94,284.08 L188.35,283.59 L188.73,283.05 L189.07,282.47 L189.38,281.85 L189.66,281.2 L189.89,280.51 L190.08,279.79 L190.23,279.04 L190.34,278.26 L190.41,277.47 L190.44,276.65 L190.43,275.82 L190.37,274.98 L190.27,274.14 L190.13,273.28 L189.95,272.43 L189.73,271.58 L189.47,270.74 L189.17,269.91 L188.84,269.09 L188.47,268.29 L188.06,267.51 L187.63,266.76 L187.16,266.03 L186.67,265.34 L186.15,264.68 L185.6,264.05 L185.04,263.46 L184.45,262.92 L183.85,262.42 L183.24,261.96 L182.61,261.56 L181.98,261.2 L181.34,260.89 L180.7,260.64 L180.05,260.44 L179.41,260.3 L178.77,260.21 L178.15,260.17 L177.53,260.2 L176.92,260.28 L176.33,260.41 L175.76,260.6 L175.21,260.84 L174.68,261.13 L174.18,261.48 L173.71,261.88 L173.26,262.32 L172.85,262.81 L172.47,263.35 L172.13,263.93 L171.82,264.55 L171.54,265.2 L171.31,265.89 L171.12,266.61 L170.97,267.36 L170.86,268.14 L170.79,268.93 L170.76,269.75 L170.77,270.58 L170.83,271.42 L170.93,272.26 L171.07,273.12 L171.25,273.97 L171.47,274.82 L171.73,275.66 L172.03,276.49 L172.36,277.31 L172.73,278.11 L173.14,278.89 L173.57,279.64 L174.04,280.37 L174.53,281.06 L175.05,281.72 L175.6,282.35 L176.16,282.94 L176.75,283.48 L177.35,283.98 L177.96,284.44 L178.59,284.84 L179.22,285.2 L179.86,285.51 L180.5,285.76 L181.15,285.96 L181.79,286.1 L182.43,286.19 L183.05,286.23 L183.67,286.2 L184.28,286.12 L184.87,285.99 L185.44,285.8Z" fill="#fff" stroke="#000" stroke-width="1.1" stroke-linejoin="round" />
<g clip-path="url(#c5)">
<path d="M196.64,281.5 L197.19,281.26 L197.72,280.97 L198.22,280.62 L198.69,280.22 L199.14,279.78 L199.55,279.28 L199.93,278.75 L200.28,278.17 L200.59,277.55 L200.86,276.9 L201.09,276.21 L201.28,275.49 L201.44,274.74 L201.55,273.96 L201.62,273.17 L201.64,272.35 L201.63,271.52 L201.57,270.68 L201.47,269.84 L201.33,268.98 L201.15,268.13 L200.93,267.28 L200.67,266.44 L200.37,265.61 L200.04,264.79 L199.67,263.99 L199.26,263.21 L198.83,262.46 L198.36,261.73 L197.87,261.04 L197.35,260.37 L196.81,259.75 L196.24,259.16 L195.66,258.62 L195.06,258.12 L194.44,257.66 L193.82,257.25 L193.18,256.9 L192.54,256.59 L191.9,256.34 L191.25,256.14 L190.61,256 L189.98,255.91 L189.35,255.87 L188.73,255.9 L188.13,255.97 L187.54,256.11 L186.96,256.3 L186.41,256.54 L185.89,256.83 L185.39,257.18 L184.91,257.58 L184.47,258.02 L184.05,258.51 L183.67,259.05 L183.33,259.63 L183.02,260.25 L182.75,260.9 L182.51,261.59 L182.32,262.31 L182.17,263.06 L182.06,263.84 L181.99,264.63 L181.96,265.45 L181.98,266.28 L182.03,267.12 L182.13,267.96 L182.27,268.82 L182.45,269.67 L182.67,270.52 L182.93,271.36 L183.23,272.19 L183.57,273.01 L183.94,273.81 L184.34,274.58 L184.78,275.34 L185.24,276.07 L185.74,276.76 L186.26,277.42 L186.8,278.05 L187.36,278.64 L187.95,279.18 L188.55,279.68 L189.16,280.14 L189.79,280.54 L190.42,280.9 L191.06,281.21 L191.71,281.46 L192.35,281.66 L192.99,281.8 L193.63,281.89 L194.26,281.92 L194.88,281.9 L195.48,281.82 L196.07,281.69 L196.64,281.5Z" fill="none" stroke="#000" stroke-width="1.0" stroke-linejoin="round" />
</g>
<line x1="188.07" y1="270.33" x2="147.84" y2="287.92" stroke="#000" stroke-width="0.9" stroke-linecap="round"/>
<path d="M118.82,284.6 L118.87,282.97 L119.01,281.38 L119.23,279.83 L119.54,278.33 L119.92,276.89 L120.39,275.51 L120.93,274.2 L121.55,272.96 L122.24,271.8 L123,270.73 L123.83,269.75 L124.72,268.86 L125.67,268.06 L126.67,267.37 L127.72,266.78 L128.82,266.29 L140.03,261.99 L141.17,261.62 L142.35,261.35 L143.56,261.19 L144.79,261.15 L146.05,261.22 L147.32,261.39 L148.61,261.68 L149.89,262.08 L151.18,262.59 L152.46,263.2 L153.73,263.91 L154.98,264.72 L156.21,265.63 L157.41,266.63 L158.58,267.73 L159.71,268.9 L160.8,270.15 L161.84,271.48 L162.82,272.87 L163.75,274.32 L164.63,275.83 L165.43,277.39 L166.17,278.99 L166.84,280.62 L167.44,282.28 L167.96,283.97 L168.4,285.66 L168.76,287.37 L169.04,289.07 L169.24,290.77 L169.35,292.45 L169.38,294.11 L169.33,295.73 L169.19,297.32 L168.97,298.87 L168.66,300.37 L168.28,301.81 L167.81,303.19 L167.27,304.5 L166.65,305.74 L165.96,306.9 L165.2,307.97 L164.38,308.95 L163.49,309.84 L162.54,310.64 L161.53,311.33 L160.48,311.92 L159.38,312.41 L148.18,316.71 L147.03,317.08 L145.86,317.35 L144.65,317.51 L143.41,317.55 L142.15,317.48 L140.88,317.31 L139.6,317.02 L138.31,316.62 L137.02,316.11 L135.74,315.5 L134.47,314.79 L133.22,313.98 L131.99,313.07 L130.79,312.06 L129.62,310.98 L128.49,309.8 L127.41,308.55 L126.37,307.23 L125.38,305.83 L124.45,304.38 L123.58,302.87 L122.77,301.31 L122.03,299.71 L121.36,298.08 L120.76,296.42 L120.24,294.73 L119.8,293.04 L119.44,291.33 L119.16,289.63 L118.96,287.93 L118.85,286.25Z" fill="#fff" stroke="#000" stroke-width="1.3" stroke-linejoin="round" />
<path d="M148.18,316.71 L149.28,316.22 L150.33,315.63 L151.33,314.94 L152.28,314.14 L153.17,313.25 L154,312.27 L154.76,311.2 L155.45,310.04 L156.07,308.8 L156.61,307.49 L157.08,306.11 L157.46,304.67 L157.77,303.17 L157.99,301.62 L158.13,300.03 L158.18,298.41 L158.15,296.75 L158.04,295.07 L157.84,293.37 L157.56,291.67 L157.2,289.96 L156.76,288.27 L156.24,286.58 L155.64,284.92 L154.97,283.29 L154.23,281.69 L153.42,280.13 L152.55,278.62 L151.62,277.17 L150.63,275.78 L149.59,274.45 L148.51,273.2 L147.38,272.03 L146.21,270.94 L145.01,269.93 L143.78,269.02 L142.53,268.21 L141.26,267.5 L139.98,266.89 L138.69,266.38 L137.4,265.98 L136.12,265.69 L134.85,265.52 L133.59,265.45 L132.35,265.49 L131.14,265.65 L129.97,265.92 L128.82,266.29 L127.72,266.78 L126.67,267.37 L125.67,268.06 L124.72,268.86 L123.83,269.75 L123,270.73 L122.24,271.8 L121.55,272.96 L120.93,274.2 L120.39,275.51 L119.92,276.89 L119.54,278.33 L119.23,279.83 L119.01,281.38 L118.87,282.97 L118.82,284.59 L118.85,286.25 L118.96,287.93 L119.16,289.63 L119.44,291.33 L119.8,293.04 L120.24,294.73 L120.76,296.42 L121.36,298.08 L122.03,299.71 L122.77,301.31 L123.58,302.87 L124.45,304.38 L125.38,305.83 L126.37,307.22 L127.41,308.55 L128.49,309.8 L129.62,310.97 L130.79,312.06 L131.99,313.07 L133.22,313.98 L134.47,314.79 L135.74,315.5 L137.02,316.11 L138.31,316.62 L139.6,317.02 L140.88,317.31 L142.15,317.48 L143.41,317.55 L144.65,317.51 L145.86,317.35 L147.03,317.08 L148.18,316.71Z" fill="#fff" stroke="#333" stroke-width="0.7" stroke-linejoin="round" />
<path d="M146.03,311.11 L146.88,310.73 L147.7,310.27 L148.48,309.73 L149.22,309.11 L149.91,308.42 L150.55,307.65 L151.15,306.82 L151.68,305.92 L152.16,304.96 L152.59,303.94 L152.95,302.87 L153.25,301.74 L153.49,300.58 L153.66,299.37 L153.77,298.14 L153.81,296.87 L153.79,295.58 L153.7,294.27 L153.54,292.96 L153.33,291.63 L153.04,290.31 L152.7,288.99 L152.3,287.68 L151.83,286.38 L151.31,285.11 L150.74,283.87 L150.11,282.66 L149.43,281.48 L148.7,280.35 L147.94,279.27 L147.13,278.24 L146.28,277.27 L145.4,276.35 L144.5,275.51 L143.56,274.73 L142.61,274.02 L141.63,273.39 L140.65,272.83 L139.65,272.36 L138.65,271.96 L137.65,271.65 L136.65,271.43 L135.66,271.29 L134.68,271.24 L133.72,271.27 L132.78,271.39 L131.86,271.6 L130.97,271.89 L130.12,272.27 L129.3,272.73 L128.52,273.27 L127.78,273.89 L127.09,274.58 L126.45,275.35 L125.85,276.18 L125.32,277.08 L124.84,278.04 L124.41,279.06 L124.05,280.13 L123.75,281.26 L123.51,282.42 L123.34,283.63 L123.23,284.86 L123.19,286.13 L123.21,287.42 L123.3,288.73 L123.46,290.04 L123.67,291.37 L123.96,292.69 L124.3,294.01 L124.7,295.32 L125.17,296.62 L125.69,297.89 L126.26,299.13 L126.89,300.34 L127.57,301.52 L128.3,302.65 L129.06,303.73 L129.87,304.76 L130.72,305.73 L131.6,306.65 L132.5,307.49 L133.44,308.27 L134.39,308.98 L135.37,309.61 L136.35,310.17 L137.35,310.64 L138.35,311.04 L139.35,311.35 L140.35,311.57 L141.34,311.71 L142.32,311.76 L143.28,311.73 L144.22,311.61 L145.14,311.4 L146.03,311.11Z" fill="#fff" stroke="#000" stroke-width="1.0" stroke-linejoin="round" />
<g clip-path="url(#c6)">
<path d="M157.23,306.8 L158.08,306.43 L158.9,305.97 L159.68,305.43 L160.42,304.81 L161.11,304.12 L161.76,303.35 L162.35,302.52 L162.89,301.62 L163.37,300.66 L163.79,299.64 L164.15,298.57 L164.45,297.44 L164.69,296.28 L164.86,295.07 L164.97,293.84 L165.01,292.57 L164.99,291.28 L164.9,289.97 L164.75,288.66 L164.53,287.33 L164.25,286.01 L163.9,284.68 L163.5,283.38 L163.03,282.08 L162.51,280.81 L161.94,279.57 L161.31,278.36 L160.63,277.18 L159.91,276.05 L159.14,274.97 L158.33,273.94 L157.49,272.97 L156.61,272.05 L155.7,271.2 L154.76,270.43 L153.81,269.72 L152.83,269.09 L151.85,268.53 L150.85,268.06 L149.85,267.66 L148.85,267.35 L147.85,267.13 L146.86,266.99 L145.88,266.94 L144.92,266.97 L143.98,267.09 L143.07,267.3 L142.18,267.59 L141.32,267.97 L140.5,268.43 L139.72,268.97 L138.98,269.59 L138.29,270.28 L137.65,271.05 L137.06,271.88 L136.52,272.78 L136.04,273.74 L135.62,274.76 L135.25,275.83 L134.95,276.96 L134.72,278.12 L134.54,279.32 L134.44,280.56 L134.39,281.83 L134.42,283.12 L134.51,284.42 L134.66,285.74 L134.88,287.07 L135.16,288.39 L135.5,289.71 L135.91,291.02 L136.37,292.32 L136.89,293.59 L137.47,294.83 L138.1,296.04 L138.77,297.22 L139.5,298.35 L140.27,299.43 L141.07,300.46 L141.92,301.43 L142.8,302.35 L143.71,303.19 L144.64,303.97 L145.6,304.68 L146.57,305.31 L147.56,305.87 L148.55,306.34 L149.55,306.74 L150.56,307.05 L151.55,307.27 L152.54,307.41 L153.52,307.46 L154.48,307.43 L155.42,307.31 L156.34,307.1 L157.23,306.8Z" fill="none" stroke="#000" stroke-width="1.0" stroke-linejoin="round" />
</g>
<line x1="147.84" y1="287.92" x2="101.5" y2="307.09" stroke="#000" stroke-width="0.9" stroke-linecap="round"/>
<path d="M76.89,301.54 L76.95,299.85 L77.09,298.2 L77.32,296.6 L77.64,295.04 L78.04,293.55 L78.52,292.12 L79.08,290.76 L79.72,289.47 L80.44,288.27 L81.23,287.16 L82.08,286.14 L83.01,285.22 L83.99,284.39 L85.03,283.67 L86.12,283.06 L87.27,282.56 L89.51,281.7 L90.69,281.31 L91.91,281.03 L93.17,280.87 L94.45,280.82 L95.75,280.89 L97.07,281.08 L98.4,281.38 L99.74,281.79 L101.07,282.31 L102.4,282.95 L103.72,283.69 L105.01,284.53 L106.29,285.47 L107.53,286.51 L108.75,287.64 L109.92,288.86 L111.05,290.16 L112.12,291.53 L113.15,292.98 L114.11,294.48 L115.02,296.05 L115.85,297.66 L116.62,299.32 L117.32,301.02 L117.93,302.74 L118.47,304.49 L118.93,306.25 L119.31,308.01 L119.6,309.78 L119.8,311.54 L119.92,313.28 L119.95,315 L119.89,316.69 L119.75,318.34 L119.52,319.94 L119.2,321.5 L118.81,322.99 L118.32,324.43 L117.76,325.78 L117.12,327.07 L116.4,328.27 L115.61,329.38 L114.76,330.4 L113.83,331.32 L112.85,332.15 L111.81,332.87 L110.72,333.48 L109.58,333.98 L107.33,334.84 L106.15,335.23 L104.93,335.51 L103.67,335.67 L102.39,335.72 L101.09,335.65 L99.77,335.46 L98.44,335.16 L97.1,334.75 L95.77,334.23 L94.44,333.59 L93.12,332.85 L91.83,332.01 L90.55,331.07 L89.31,330.03 L88.09,328.9 L86.92,327.68 L85.8,326.38 L84.72,325.01 L83.69,323.56 L82.73,322.06 L81.82,320.49 L80.99,318.88 L80.22,317.22 L79.53,315.52 L78.91,313.8 L78.37,312.05 L77.91,310.29 L77.53,308.52 L77.24,306.76 L77.04,305 L76.92,303.26Z" fill="#fff" stroke="#000" stroke-width="1.3" stroke-linejoin="round" />
<path d="M107.33,334.84 L108.48,334.34 L109.57,333.73 L110.61,333.01 L111.59,332.18 L112.52,331.26 L113.37,330.24 L114.16,329.13 L114.88,327.93 L115.52,326.64 L116.08,325.28 L116.56,323.85 L116.96,322.36 L117.28,320.81 L117.51,319.2 L117.65,317.55 L117.71,315.86 L117.68,314.14 L117.56,312.4 L117.36,310.64 L117.07,308.87 L116.69,307.11 L116.23,305.35 L115.69,303.6 L115.08,301.88 L114.38,300.18 L113.61,298.52 L112.78,296.91 L111.87,295.34 L110.91,293.84 L109.88,292.39 L108.8,291.02 L107.68,289.72 L106.5,288.5 L105.29,287.37 L104.05,286.33 L102.77,285.39 L101.48,284.55 L100.16,283.81 L98.83,283.17 L97.5,282.65 L96.16,282.24 L94.83,281.94 L93.51,281.75 L92.21,281.68 L90.93,281.73 L89.67,281.89 L88.45,282.17 L87.27,282.56 L86.12,283.06 L85.03,283.67 L83.99,284.39 L83.01,285.22 L82.08,286.14 L81.23,287.16 L80.44,288.27 L79.72,289.47 L79.08,290.76 L78.52,292.12 L78.04,293.55 L77.64,295.04 L77.32,296.59 L77.09,298.2 L76.95,299.85 L76.89,301.54 L76.92,303.26 L77.04,305 L77.24,306.76 L77.53,308.53 L77.91,310.29 L78.37,312.05 L78.91,313.8 L79.52,315.52 L80.22,317.22 L80.99,318.88 L81.82,320.49 L82.73,322.06 L83.69,323.56 L84.72,325.01 L85.8,326.38 L86.92,327.68 L88.1,328.9 L89.31,330.03 L90.55,331.07 L91.83,332.01 L93.12,332.85 L94.44,333.59 L95.77,334.23 L97.1,334.75 L98.44,335.16 L99.77,335.46 L101.09,335.65 L102.39,335.72 L103.67,335.67 L104.93,335.51 L106.15,335.23 L107.33,334.84Z" fill="#fff" stroke="#333" stroke-width="0.7" stroke-linejoin="round" />
<path d="M106.58,332.88 L107.64,332.42 L108.65,331.85 L109.61,331.18 L110.52,330.42 L111.37,329.57 L112.17,328.62 L112.9,327.59 L113.56,326.48 L114.15,325.3 L114.67,324.04 L115.12,322.72 L115.49,321.33 L115.78,319.9 L115.99,318.41 L116.13,316.89 L116.18,315.32 L116.15,313.73 L116.04,312.12 L115.85,310.5 L115.58,308.86 L115.24,307.23 L114.81,305.6 L114.31,303.98 L113.74,302.39 L113.1,300.82 L112.39,299.29 L111.62,297.79 L110.78,296.35 L109.89,294.95 L108.94,293.62 L107.94,292.34 L106.9,291.14 L105.81,290.02 L104.69,288.97 L103.54,288.01 L102.36,287.14 L101.16,286.36 L99.95,285.67 L98.72,285.09 L97.48,284.6 L96.25,284.22 L95.02,283.95 L93.8,283.77 L92.59,283.71 L91.4,283.75 L90.24,283.9 L89.11,284.16 L88.02,284.52 L86.96,284.98 L85.95,285.55 L84.99,286.22 L84.08,286.98 L83.23,287.83 L82.43,288.78 L81.7,289.81 L81.04,290.92 L80.45,292.1 L79.93,293.36 L79.48,294.68 L79.11,296.07 L78.82,297.5 L78.61,298.99 L78.47,300.51 L78.42,302.08 L78.45,303.67 L78.56,305.28 L78.75,306.9 L79.02,308.54 L79.36,310.17 L79.79,311.8 L80.29,313.42 L80.86,315.01 L81.5,316.58 L82.21,318.11 L82.98,319.61 L83.82,321.05 L84.71,322.45 L85.66,323.78 L86.66,325.06 L87.7,326.26 L88.79,327.38 L89.91,328.43 L91.06,329.39 L92.24,330.26 L93.44,331.04 L94.65,331.73 L95.88,332.31 L97.12,332.8 L98.35,333.18 L99.58,333.45 L100.8,333.63 L102.01,333.69 L103.2,333.65 L104.36,333.5 L105.49,333.24 L106.58,332.88Z" fill="none" stroke="#888" stroke-width="0.6" stroke-linejoin="round" />
<path d="M105.83,330.92 L106.8,330.49 L107.73,329.97 L108.61,329.36 L109.45,328.66 L110.23,327.88 L110.96,327.01 L111.63,326.06 L112.24,325.04 L112.79,323.95 L113.26,322.8 L113.67,321.58 L114.01,320.31 L114.28,318.99 L114.48,317.62 L114.6,316.22 L114.65,314.79 L114.62,313.33 L114.52,311.84 L114.35,310.35 L114.1,308.85 L113.78,307.35 L113.39,305.85 L112.93,304.37 L112.41,302.9 L111.82,301.46 L111.17,300.05 L110.45,298.68 L109.69,297.35 L108.87,296.07 L107.99,294.84 L107.08,293.67 L106.12,292.57 L105.12,291.53 L104.09,290.57 L103.04,289.69 L101.95,288.89 L100.85,288.17 L99.73,287.54 L98.6,287 L97.47,286.56 L96.33,286.21 L95.2,285.95 L94.08,285.8 L92.97,285.74 L91.88,285.78 L90.82,285.91 L89.78,286.15 L88.77,286.48 L87.8,286.91 L86.87,287.43 L85.99,288.04 L85.15,288.74 L84.37,289.52 L83.64,290.39 L82.97,291.34 L82.36,292.36 L81.81,293.45 L81.34,294.6 L80.93,295.82 L80.59,297.09 L80.32,298.41 L80.12,299.78 L80,301.18 L79.95,302.61 L79.98,304.07 L80.08,305.56 L80.25,307.05 L80.5,308.55 L80.82,310.05 L81.21,311.55 L81.67,313.03 L82.19,314.5 L82.78,315.94 L83.43,317.35 L84.15,318.72 L84.91,320.05 L85.73,321.33 L86.61,322.56 L87.52,323.73 L88.48,324.83 L89.48,325.87 L90.51,326.83 L91.56,327.71 L92.65,328.51 L93.75,329.23 L94.87,329.86 L96,330.4 L97.13,330.84 L98.27,331.19 L99.4,331.45 L100.52,331.6 L101.63,331.66 L102.72,331.62 L103.78,331.49 L104.82,331.25 L105.83,330.92Z" fill="#fff" stroke="#000" stroke-width="1.1" stroke-linejoin="round" />
<g clip-path="url(#c7)">
<path d="M108.07,330.06 L109.04,329.63 L109.97,329.11 L110.85,328.5 L111.69,327.8 L112.47,327.02 L113.2,326.15 L113.87,325.2 L114.48,324.18 L115.03,323.09 L115.51,321.94 L115.92,320.72 L116.26,319.45 L116.52,318.13 L116.72,316.76 L116.84,315.36 L116.89,313.93 L116.86,312.47 L116.76,310.98 L116.59,309.49 L116.34,307.99 L116.02,306.49 L115.63,304.99 L115.18,303.51 L114.65,302.04 L114.06,300.6 L113.41,299.19 L112.7,297.82 L111.93,296.49 L111.11,295.21 L110.24,293.98 L109.32,292.81 L108.36,291.71 L107.36,290.67 L106.34,289.71 L105.28,288.83 L104.19,288.03 L103.09,287.31 L101.97,286.68 L100.84,286.14 L99.71,285.7 L98.57,285.35 L97.44,285.09 L96.32,284.94 L95.21,284.88 L94.12,284.92 L93.06,285.05 L92.02,285.29 L91.01,285.62 L90.04,286.05 L89.11,286.57 L88.23,287.18 L87.39,287.88 L86.61,288.66 L85.88,289.53 L85.21,290.48 L84.6,291.5 L84.05,292.59 L83.58,293.74 L83.17,294.96 L82.83,296.23 L82.56,297.55 L82.36,298.92 L82.24,300.32 L82.19,301.75 L82.22,303.21 L82.32,304.7 L82.49,306.19 L82.74,307.69 L83.06,309.19 L83.45,310.69 L83.91,312.17 L84.43,313.64 L85.02,315.08 L85.67,316.49 L86.39,317.86 L87.15,319.19 L87.97,320.47 L88.85,321.7 L89.76,322.87 L90.72,323.97 L91.72,325.01 L92.75,325.97 L93.8,326.85 L94.89,327.65 L95.99,328.37 L97.11,329 L98.24,329.54 L99.37,329.98 L100.51,330.33 L101.64,330.59 L102.76,330.74 L103.87,330.8 L104.96,330.76 L106.02,330.63 L107.06,330.39 L108.07,330.06Z" fill="none" stroke="#000" stroke-width="1.1" stroke-linejoin="round" />
</g>
<line x1="101.5" y1="307.09" x2="59.17" y2="324.88" stroke="#000" stroke-width="0.9" stroke-linecap="round"/>
<path d="M36.89,318.44 L36.95,316.75 L37.09,315.1 L37.32,313.5 L37.64,311.94 L38.04,310.45 L38.52,309.01 L39.08,307.66 L39.72,306.37 L40.44,305.17 L41.23,304.06 L42.09,303.04 L43.01,302.12 L43.99,301.29 L45.03,300.57 L46.12,299.96 L47.27,299.46 L49.13,298.74 L50.32,298.35 L51.54,298.08 L52.79,297.91 L54.08,297.87 L55.38,297.94 L56.7,298.12 L58.03,298.42 L59.37,298.83 L60.7,299.36 L62.03,299.99 L63.34,300.73 L64.64,301.57 L65.92,302.52 L67.16,303.56 L68.37,304.69 L69.54,305.9 L70.67,307.2 L71.75,308.58 L72.77,310.02 L73.74,311.53 L74.64,313.09 L75.48,314.71 L76.25,316.37 L76.94,318.06 L77.56,319.78 L78.1,321.53 L78.56,323.29 L78.93,325.06 L79.22,326.82 L79.43,328.58 L79.55,330.32 L79.58,332.04 L79.52,333.73 L79.38,335.38 L79.15,336.99 L78.83,338.54 L78.43,340.04 L77.95,341.47 L77.39,342.83 L76.75,344.11 L76.03,345.31 L75.24,346.42 L74.38,347.44 L73.46,348.37 L72.48,349.19 L71.44,349.91 L70.34,350.52 L69.2,351.02 L67.33,351.74 L66.15,352.13 L64.93,352.41 L63.67,352.57 L62.39,352.62 L61.09,352.55 L59.77,352.36 L58.44,352.06 L57.1,351.65 L55.77,351.13 L54.44,350.49 L53.12,349.75 L51.83,348.91 L50.55,347.97 L49.31,346.93 L48.09,345.8 L46.92,344.58 L45.8,343.28 L44.72,341.91 L43.69,340.46 L42.73,338.96 L41.82,337.39 L40.99,335.78 L40.22,334.12 L39.52,332.42 L38.91,330.7 L38.37,328.95 L37.91,327.19 L37.53,325.43 L37.24,323.66 L37.04,321.9 L36.92,320.16Z" fill="#fff" stroke="#000" stroke-width="1.3" stroke-linejoin="round" />
<path d="M67.33,351.74 L68.48,351.24 L69.57,350.63 L70.61,349.91 L71.59,349.08 L72.52,348.16 L73.37,347.14 L74.16,346.03 L74.88,344.83 L75.52,343.54 L76.08,342.18 L76.56,340.75 L76.96,339.26 L77.28,337.71 L77.51,336.1 L77.65,334.45 L77.71,332.76 L77.68,331.04 L77.56,329.3 L77.36,327.54 L77.07,325.77 L76.69,324.01 L76.23,322.25 L75.69,320.5 L75.08,318.78 L74.38,317.08 L73.61,315.42 L72.78,313.81 L71.87,312.24 L70.91,310.74 L69.88,309.29 L68.8,307.92 L67.68,306.62 L66.5,305.4 L65.29,304.27 L64.05,303.23 L62.77,302.29 L61.48,301.45 L60.16,300.71 L58.83,300.07 L57.5,299.55 L56.16,299.14 L54.83,298.84 L53.51,298.65 L52.21,298.58 L50.93,298.63 L49.67,298.79 L48.45,299.07 L47.27,299.46 L46.12,299.96 L45.03,300.57 L43.99,301.29 L43.01,302.12 L42.08,303.04 L41.23,304.06 L40.44,305.17 L39.72,306.37 L39.08,307.66 L38.52,309.02 L38.04,310.45 L37.64,311.94 L37.32,313.49 L37.09,315.1 L36.95,316.75 L36.89,318.44 L36.92,320.16 L37.04,321.9 L37.24,323.66 L37.53,325.43 L37.91,327.19 L38.37,328.95 L38.91,330.7 L39.52,332.42 L40.22,334.12 L40.99,335.78 L41.82,337.39 L42.73,338.96 L43.69,340.46 L44.72,341.91 L45.8,343.28 L46.92,344.58 L48.1,345.8 L49.31,346.93 L50.55,347.97 L51.83,348.91 L53.12,349.75 L54.44,350.49 L55.77,351.13 L57.1,351.65 L58.44,352.06 L59.77,352.36 L61.09,352.55 L62.39,352.62 L63.67,352.57 L64.93,352.41 L66.15,352.13 L67.33,351.74Z" fill="#fff" stroke="#333" stroke-width="0.7" stroke-linejoin="round" />
<path d="M66.58,349.78 L67.64,349.32 L68.65,348.75 L69.61,348.08 L70.52,347.32 L71.37,346.47 L72.17,345.52 L72.9,344.49 L73.56,343.38 L74.15,342.2 L74.67,340.94 L75.12,339.62 L75.49,338.23 L75.78,336.8 L75.99,335.31 L76.13,333.79 L76.18,332.22 L76.15,330.63 L76.04,329.02 L75.85,327.4 L75.58,325.76 L75.24,324.13 L74.81,322.5 L74.31,320.88 L73.74,319.29 L73.1,317.72 L72.39,316.19 L71.62,314.69 L70.78,313.25 L69.89,311.85 L68.94,310.52 L67.94,309.24 L66.9,308.04 L65.81,306.92 L64.69,305.87 L63.54,304.91 L62.36,304.04 L61.16,303.26 L59.95,302.57 L58.72,301.99 L57.48,301.5 L56.25,301.12 L55.02,300.85 L53.8,300.67 L52.59,300.61 L51.4,300.65 L50.24,300.8 L49.11,301.06 L48.02,301.42 L46.96,301.88 L45.95,302.45 L44.99,303.12 L44.08,303.88 L43.23,304.73 L42.43,305.68 L41.7,306.71 L41.04,307.82 L40.45,309 L39.93,310.26 L39.48,311.58 L39.11,312.97 L38.82,314.4 L38.61,315.89 L38.47,317.41 L38.42,318.98 L38.45,320.57 L38.56,322.18 L38.75,323.8 L39.02,325.44 L39.36,327.07 L39.79,328.7 L40.29,330.32 L40.86,331.91 L41.5,333.48 L42.21,335.01 L42.98,336.51 L43.82,337.95 L44.71,339.35 L45.66,340.68 L46.66,341.96 L47.7,343.16 L48.79,344.28 L49.91,345.33 L51.06,346.29 L52.24,347.16 L53.44,347.94 L54.65,348.63 L55.88,349.21 L57.12,349.7 L58.35,350.08 L59.58,350.35 L60.8,350.53 L62.01,350.59 L63.2,350.55 L64.36,350.4 L65.49,350.14 L66.58,349.78Z" fill="none" stroke="#888" stroke-width="0.6" stroke-linejoin="round" />
<path d="M65.83,347.82 L66.8,347.39 L67.73,346.87 L68.61,346.26 L69.45,345.56 L70.23,344.78 L70.96,343.91 L71.63,342.96 L72.24,341.94 L72.79,340.85 L73.26,339.7 L73.67,338.48 L74.01,337.21 L74.28,335.89 L74.48,334.52 L74.6,333.12 L74.65,331.69 L74.62,330.23 L74.52,328.74 L74.35,327.25 L74.1,325.75 L73.78,324.25 L73.39,322.75 L72.93,321.27 L72.41,319.8 L71.82,318.36 L71.17,316.95 L70.45,315.58 L69.69,314.25 L68.87,312.97 L67.99,311.74 L67.08,310.57 L66.12,309.47 L65.12,308.43 L64.09,307.47 L63.04,306.59 L61.95,305.79 L60.85,305.07 L59.73,304.44 L58.6,303.9 L57.47,303.46 L56.33,303.11 L55.2,302.85 L54.08,302.7 L52.97,302.64 L51.88,302.68 L50.82,302.81 L49.78,303.05 L48.77,303.38 L47.8,303.81 L46.87,304.33 L45.99,304.94 L45.15,305.64 L44.37,306.42 L43.64,307.29 L42.97,308.24 L42.36,309.26 L41.81,310.35 L41.34,311.5 L40.93,312.72 L40.59,313.99 L40.32,315.31 L40.12,316.68 L40,318.08 L39.95,319.51 L39.98,320.97 L40.08,322.46 L40.25,323.95 L40.5,325.45 L40.82,326.95 L41.21,328.45 L41.67,329.93 L42.19,331.4 L42.78,332.84 L43.43,334.25 L44.15,335.62 L44.91,336.95 L45.73,338.23 L46.61,339.46 L47.52,340.63 L48.48,341.73 L49.48,342.77 L50.51,343.73 L51.56,344.61 L52.65,345.41 L53.75,346.13 L54.87,346.76 L56,347.3 L57.13,347.74 L58.27,348.09 L59.4,348.35 L60.52,348.5 L61.63,348.56 L62.72,348.52 L63.78,348.39 L64.82,348.15 L65.83,347.82Z" fill="#fff" stroke="#000" stroke-width="1.1" stroke-linejoin="round" />
<g clip-path="url(#c8)">
<path d="M67.7,347.1 L68.67,346.68 L69.6,346.16 L70.48,345.54 L71.32,344.84 L72.1,344.06 L72.83,343.19 L73.5,342.25 L74.11,341.23 L74.65,340.14 L75.13,338.98 L75.54,337.76 L75.88,336.49 L76.15,335.17 L76.35,333.81 L76.47,332.41 L76.52,330.97 L76.49,329.51 L76.39,328.03 L76.22,326.53 L75.97,325.03 L75.65,323.53 L75.26,322.03 L74.8,320.55 L74.28,319.08 L73.69,317.64 L73.03,316.23 L72.32,314.86 L71.55,313.53 L70.73,312.25 L69.86,311.02 L68.95,309.85 L67.99,308.75 L66.99,307.72 L65.96,306.76 L64.9,305.87 L63.82,305.07 L62.72,304.35 L61.6,303.72 L60.47,303.19 L59.34,302.74 L58.2,302.39 L57.07,302.14 L55.95,301.98 L54.84,301.92 L53.75,301.96 L52.68,302.1 L51.64,302.33 L50.64,302.66 L49.67,303.09 L48.74,303.61 L47.85,304.22 L47.02,304.92 L46.23,305.71 L45.51,306.57 L44.84,307.52 L44.23,308.54 L43.68,309.63 L43.2,310.79 L42.79,312 L42.45,313.27 L42.18,314.59 L41.99,315.96 L41.87,317.36 L41.82,318.8 L41.84,320.26 L41.94,321.74 L42.12,323.23 L42.37,324.73 L42.68,326.24 L43.07,327.73 L43.53,329.22 L44.06,330.68 L44.65,332.12 L45.3,333.53 L46.01,334.91 L46.78,336.24 L47.6,337.52 L48.47,338.74 L49.39,339.91 L50.35,341.02 L51.34,342.05 L52.37,343.01 L53.43,343.89 L54.51,344.7 L55.62,345.41 L56.74,346.04 L57.86,346.58 L59,347.03 L60.13,347.38 L61.27,347.63 L62.39,347.79 L63.5,347.85 L64.58,347.81 L65.65,347.67 L66.69,347.43 L67.7,347.1Z" fill="none" stroke="#000" stroke-width="1.1" stroke-linejoin="round" />
</g>
<line x1="55.53" y1="302.92" x2="55.22" y2="298.91" stroke="#000" stroke-width="1.3" stroke-linecap="round"/>
<line x1="53.81" y1="302.67" x2="53.2" y2="298.63" stroke="#000" stroke-width="1.3" stroke-linecap="round"/>
<path d="M510.2,339.94 L510.23,338.31 L510.34,336.72 L510.53,335.17 L510.81,333.66 L511.17,332.21 L511.61,330.83 L512.13,329.51 L512.73,328.26 L513.4,327.09 L514.14,326 L514.95,325 L515.82,324.1 L516.76,323.29 L517.75,322.58 L518.79,321.97 L519.89,321.47 L532.87,316.22 L534,315.82 L535.17,315.54 L536.38,315.36 L537.62,315.29 L538.88,315.34 L540.15,315.5 L541.44,315.76 L542.73,316.14 L544.03,316.62 L545.32,317.21 L546.6,317.9 L547.87,318.69 L549.11,319.58 L550.33,320.56 L551.52,321.63 L552.67,322.78 L553.77,324.01 L554.84,325.32 L555.85,326.7 L556.81,328.13 L557.7,329.63 L558.54,331.17 L559.31,332.75 L560,334.38 L560.63,336.03 L561.18,337.7 L561.65,339.39 L562.04,341.09 L562.35,342.79 L562.58,344.48 L562.72,346.16 L562.78,347.82 L562.75,349.44 L562.64,351.04 L562.45,352.59 L562.17,354.09 L561.81,355.54 L561.37,356.93 L560.85,358.25 L560.25,359.5 L559.58,360.67 L558.84,361.75 L558.03,362.75 L557.16,363.66 L556.22,364.47 L555.23,365.18 L554.19,365.79 L553.1,366.29 L540.11,371.53 L538.98,371.93 L537.81,372.22 L536.6,372.39 L535.36,372.46 L534.11,372.42 L532.83,372.26 L531.54,371.99 L530.25,371.62 L528.95,371.14 L527.66,370.55 L526.38,369.86 L525.12,369.06 L523.87,368.18 L522.65,367.2 L521.47,366.13 L520.32,364.97 L519.21,363.74 L518.14,362.43 L517.13,361.06 L516.17,359.62 L515.28,358.13 L514.44,356.59 L513.67,355 L512.98,353.38 L512.35,351.73 L511.8,350.05 L511.33,348.36 L510.94,346.66 L510.63,344.97 L510.4,343.27 L510.26,341.6Z" fill="#fff" stroke="#000" stroke-width="1.3" stroke-linejoin="round" />
<path d="M540.11,371.53 L541.21,371.03 L542.25,370.42 L543.24,369.71 L544.18,368.9 L545.05,367.99 L545.86,367 L546.6,365.91 L547.27,364.74 L547.87,363.49 L548.39,362.17 L548.83,360.79 L549.19,359.34 L549.47,357.84 L549.66,356.28 L549.77,354.69 L549.8,353.06 L549.74,351.4 L549.6,349.73 L549.37,348.03 L549.06,346.34 L548.67,344.64 L548.2,342.95 L547.65,341.27 L547.02,339.62 L546.33,338 L545.56,336.41 L544.72,334.87 L543.83,333.38 L542.87,331.94 L541.86,330.57 L540.79,329.26 L539.69,328.03 L538.53,326.87 L537.35,325.8 L536.13,324.82 L534.89,323.93 L533.62,323.14 L532.34,322.45 L531.05,321.86 L529.75,321.38 L528.46,321.01 L527.17,320.74 L525.89,320.58 L524.64,320.54 L523.4,320.61 L522.19,320.78 L521.02,321.07 L519.89,321.47 L518.79,321.97 L517.75,322.58 L516.76,323.29 L515.82,324.1 L514.95,325.01 L514.14,326 L513.4,327.09 L512.73,328.26 L512.13,329.51 L511.61,330.83 L511.17,332.21 L510.81,333.66 L510.53,335.16 L510.34,336.72 L510.23,338.31 L510.2,339.94 L510.26,341.6 L510.4,343.27 L510.63,344.97 L510.94,346.66 L511.33,348.36 L511.8,350.05 L512.35,351.73 L512.98,353.38 L513.67,355 L514.44,356.59 L515.28,358.13 L516.17,359.62 L517.13,361.06 L518.14,362.43 L519.21,363.74 L520.31,364.97 L521.47,366.13 L522.65,367.2 L523.87,368.18 L525.11,369.07 L526.38,369.86 L527.66,370.55 L528.95,371.14 L530.25,371.62 L531.54,371.99 L532.83,372.26 L534.11,372.42 L535.36,372.46 L536.6,372.39 L537.81,372.22 L538.98,371.93 L540.11,371.53Z" fill="#fff" stroke="#333" stroke-width="0.7" stroke-linejoin="round" />
<path d="M539.37,369.68 L540.38,369.21 L541.34,368.65 L542.26,367.99 L543.13,367.24 L543.93,366.4 L544.68,365.48 L545.37,364.47 L545.99,363.39 L546.54,362.24 L547.03,361.01 L547.43,359.73 L547.77,358.39 L548.03,357 L548.21,355.56 L548.31,354.08 L548.33,352.57 L548.28,351.04 L548.15,349.49 L547.94,347.92 L547.65,346.35 L547.29,344.78 L546.85,343.21 L546.34,341.66 L545.76,340.13 L545.12,338.63 L544.4,337.16 L543.63,335.73 L542.8,334.35 L541.92,333.02 L540.98,331.75 L539.99,330.54 L538.97,329.4 L537.9,328.33 L536.8,327.34 L535.68,326.43 L534.52,325.61 L533.35,324.87 L532.17,324.23 L530.97,323.69 L529.77,323.24 L528.57,322.89 L527.38,322.65 L526.2,322.5 L525.03,322.46 L523.89,322.52 L522.77,322.69 L521.69,322.95 L520.63,323.32 L519.62,323.79 L518.66,324.35 L517.74,325.01 L516.87,325.76 L516.07,326.6 L515.32,327.52 L514.63,328.53 L514.01,329.61 L513.46,330.76 L512.97,331.99 L512.57,333.27 L512.23,334.61 L511.97,336 L511.79,337.44 L511.69,338.92 L511.67,340.43 L511.72,341.96 L511.85,343.51 L512.06,345.08 L512.35,346.65 L512.71,348.22 L513.15,349.79 L513.66,351.34 L514.24,352.87 L514.88,354.37 L515.6,355.84 L516.37,357.27 L517.2,358.65 L518.08,359.98 L519.02,361.25 L520.01,362.46 L521.03,363.6 L522.1,364.67 L523.2,365.66 L524.32,366.57 L525.48,367.39 L526.65,368.13 L527.83,368.77 L529.03,369.31 L530.23,369.76 L531.43,370.11 L532.62,370.35 L533.8,370.5 L534.97,370.54 L536.11,370.48 L537.23,370.31 L538.31,370.05 L539.37,369.68Z" fill="none" stroke="#999" stroke-width="0.6" stroke-linejoin="round" />
<path d="M538.62,367.83 L539.55,367.4 L540.44,366.88 L541.28,366.27 L542.08,365.58 L542.82,364.81 L543.51,363.96 L544.14,363.03 L544.71,362.04 L545.22,360.98 L545.66,359.85 L546.04,358.67 L546.35,357.44 L546.58,356.16 L546.75,354.83 L546.84,353.48 L546.87,352.09 L546.82,350.68 L546.69,349.25 L546.5,347.81 L546.24,346.36 L545.9,344.91 L545.5,343.47 L545.03,342.05 L544.5,340.64 L543.91,339.26 L543.25,337.91 L542.54,336.59 L541.78,335.32 L540.96,334.1 L540.1,332.93 L539.19,331.81 L538.25,330.76 L537.27,329.78 L536.26,328.87 L535.22,328.03 L534.16,327.28 L533.08,326.6 L531.99,326.01 L530.89,325.51 L529.79,325.1 L528.69,324.78 L527.59,324.56 L526.5,324.42 L525.43,324.39 L524.38,324.44 L523.35,324.59 L522.35,324.84 L521.38,325.17 L520.45,325.6 L519.56,326.12 L518.72,326.73 L517.92,327.42 L517.18,328.19 L516.49,329.04 L515.86,329.97 L515.29,330.96 L514.78,332.02 L514.34,333.15 L513.96,334.33 L513.65,335.56 L513.42,336.84 L513.25,338.17 L513.16,339.52 L513.13,340.91 L513.18,342.32 L513.31,343.75 L513.5,345.19 L513.76,346.64 L514.1,348.09 L514.5,349.53 L514.97,350.95 L515.5,352.36 L516.09,353.74 L516.75,355.09 L517.46,356.41 L518.22,357.68 L519.04,358.9 L519.9,360.07 L520.81,361.19 L521.75,362.24 L522.73,363.22 L523.74,364.13 L524.78,364.97 L525.84,365.72 L526.92,366.4 L528.01,366.99 L529.11,367.49 L530.21,367.9 L531.31,368.22 L532.41,368.44 L533.5,368.58 L534.57,368.61 L535.62,368.56 L536.65,368.41 L537.65,368.16 L538.62,367.83Z" fill="#fff" stroke="#000" stroke-width="1.0" stroke-linejoin="round" />
<g clip-path="url(#c9)">
<path d="M551.6,362.58 L552.53,362.15 L553.42,361.63 L554.26,361.03 L555.06,360.34 L555.8,359.57 L556.49,358.72 L557.12,357.79 L557.69,356.79 L558.2,355.73 L558.64,354.61 L559.02,353.43 L559.33,352.19 L559.56,350.91 L559.73,349.59 L559.82,348.23 L559.85,346.84 L559.8,345.43 L559.68,344 L559.48,342.56 L559.22,341.12 L558.88,339.67 L558.48,338.23 L558.01,336.8 L557.48,335.4 L556.89,334.01 L556.23,332.66 L555.52,331.35 L554.76,330.08 L553.94,328.85 L553.08,327.68 L552.18,326.57 L551.23,325.52 L550.25,324.54 L549.24,323.63 L548.2,322.79 L547.14,322.03 L546.06,321.36 L544.97,320.77 L543.87,320.27 L542.77,319.86 L541.67,319.54 L540.57,319.31 L539.48,319.18 L538.41,319.14 L537.36,319.2 L536.33,319.35 L535.33,319.59 L534.36,319.93 L533.43,320.36 L532.55,320.88 L531.7,321.48 L530.91,322.17 L530.16,322.95 L529.47,323.8 L528.84,324.72 L528.27,325.72 L527.76,326.78 L527.32,327.9 L526.94,329.09 L526.63,330.32 L526.4,331.6 L526.23,332.92 L526.14,334.28 L526.11,335.67 L526.16,337.08 L526.29,338.51 L526.48,339.95 L526.74,341.4 L527.08,342.84 L527.48,344.28 L527.95,345.71 L528.48,347.11 L529.07,348.5 L529.73,349.85 L530.44,351.16 L531.2,352.43 L532.02,353.66 L532.88,354.83 L533.79,355.94 L534.73,356.99 L535.71,357.97 L536.72,358.89 L537.76,359.72 L538.82,360.48 L539.9,361.15 L540.99,361.74 L542.09,362.24 L543.19,362.65 L544.29,362.97 L545.39,363.2 L546.48,363.33 L547.55,363.37 L548.6,363.31 L549.63,363.16 L550.63,362.92 L551.6,362.58Z" fill="none" stroke="#000" stroke-width="1.0" stroke-linejoin="round" />
</g>
<line x1="539.27" y1="342.75" x2="490.16" y2="364.05" stroke="#000" stroke-width="0.9" stroke-linecap="round"/>
<path d="M479.82,357.56 L479.83,356.36 L479.92,355.19 L480.06,354.05 L480.26,352.95 L480.53,351.89 L480.85,350.87 L481.23,349.9 L481.67,348.99 L482.16,348.13 L482.71,347.34 L483.3,346.6 L483.94,345.94 L484.62,345.35 L485.35,344.82 L486.12,344.38 L486.92,344.01 L487.75,343.72 L488.61,343.51 L489.5,343.38 L490.4,343.33 L491.32,343.36 L492.26,343.48 L493.2,343.67 L494.15,343.95 L495.1,344.3 L496.05,344.73 L496.99,345.24 L497.92,345.82 L498.83,346.47 L499.72,347.19 L500.59,347.97 L501.44,348.82 L502.25,349.72 L503.03,350.68 L503.77,351.69 L504.47,352.74 L505.13,353.84 L505.74,354.97 L506.31,356.13 L506.82,357.32 L507.28,358.53 L507.68,359.76 L508.03,361 L508.31,362.25 L508.54,363.49 L508.71,364.73 L508.81,365.96 L508.86,367.18 L508.84,368.37 L508.75,369.54 L508.61,370.68 L508.41,371.78 L508.14,372.84 L507.82,373.86 L507.44,374.83 L507,375.74 L506.51,376.6 L505.96,377.4 L505.37,378.13 L504.73,378.79 L504.05,379.39 L503.32,379.91 L502.55,380.36 L501.75,380.73 L500.92,381.01 L500.06,381.23 L499.18,381.36 L498.27,381.4 L497.35,381.37 L496.41,381.26 L495.47,381.06 L494.52,380.79 L493.57,380.43 L492.62,380 L491.68,379.5 L490.75,378.91 L489.84,378.26 L488.95,377.54 L488.08,376.76 L487.23,375.91 L486.42,375.01 L485.64,374.05 L484.9,373.04 L484.2,371.99 L483.54,370.89 L482.93,369.76 L482.36,368.6 L481.85,367.41 L481.39,366.2 L480.99,364.97 L480.64,363.73 L480.36,362.49 L480.13,361.24 L479.96,360 L479.86,358.77Z" fill="#fff" stroke="#000" stroke-width="0.9" stroke-linejoin="round" />
<line x1="474.55" y1="367.08" x2="478.74" y2="365.04" stroke="#000" stroke-width="7.3" stroke-linecap="round"/>
<line x1="474.55" y1="367.08" x2="478.74" y2="365.04" stroke="#fff" stroke-width="5.1" stroke-linecap="round"/>
<line x1="478.35" y1="375.22" x2="482.96" y2="374.04" stroke="#000" stroke-width="7.3" stroke-linecap="round"/>
<line x1="478.35" y1="375.22" x2="482.96" y2="374.04" stroke="#fff" stroke-width="5.1" stroke-linecap="round"/>
<line x1="473.68" y1="358.51" x2="477.78" y2="355.55" stroke="#000" stroke-width="7.3" stroke-linecap="round"/>
<line x1="473.68" y1="358.51" x2="477.78" y2="355.55" stroke="#fff" stroke-width="5.1" stroke-linecap="round"/>
<line x1="484.23" y1="381.05" x2="489.46" y2="380.49" stroke="#000" stroke-width="7.3" stroke-linecap="round"/>
<line x1="484.23" y1="381.05" x2="489.46" y2="380.49" stroke="#fff" stroke-width="5.1" stroke-linecap="round"/>
<line x1="475.95" y1="351.46" x2="480.3" y2="347.76" stroke="#000" stroke-width="7.3" stroke-linecap="round"/>
<line x1="475.95" y1="351.46" x2="480.3" y2="347.76" stroke="#fff" stroke-width="5.1" stroke-linecap="round"/>
<line x1="490.83" y1="383.25" x2="496.76" y2="382.93" stroke="#000" stroke-width="7.3" stroke-linecap="round"/>
<line x1="490.83" y1="383.25" x2="496.76" y2="382.93" stroke="#fff" stroke-width="5.1" stroke-linecap="round"/>
<line x1="480.84" y1="347.56" x2="485.71" y2="343.44" stroke="#000" stroke-width="7.3" stroke-linecap="round"/>
<line x1="480.84" y1="347.56" x2="485.71" y2="343.44" stroke="#fff" stroke-width="5.1" stroke-linecap="round"/>
<line x1="496.64" y1="381.31" x2="503.19" y2="380.78" stroke="#000" stroke-width="7.3" stroke-linecap="round"/>
<line x1="496.64" y1="381.31" x2="503.19" y2="380.78" stroke="#fff" stroke-width="5.1" stroke-linecap="round"/>
<line x1="487.23" y1="347.69" x2="492.77" y2="343.58" stroke="#000" stroke-width="7.3" stroke-linecap="round"/>
<line x1="487.23" y1="347.69" x2="492.77" y2="343.58" stroke="#fff" stroke-width="5.1" stroke-linecap="round"/>
<line x1="500.33" y1="375.67" x2="507.27" y2="374.54" stroke="#000" stroke-width="7.3" stroke-linecap="round"/>
<line x1="500.33" y1="375.67" x2="507.27" y2="374.54" stroke="#fff" stroke-width="5.1" stroke-linecap="round"/>
<line x1="493.65" y1="351.83" x2="499.88" y2="348.16" stroke="#000" stroke-width="7.3" stroke-linecap="round"/>
<line x1="493.65" y1="351.83" x2="499.88" y2="348.16" stroke="#fff" stroke-width="5.1" stroke-linecap="round"/>
<line x1="501.05" y1="367.63" x2="508.07" y2="365.64" stroke="#000" stroke-width="7.3" stroke-linecap="round"/>
<line x1="501.05" y1="367.63" x2="508.07" y2="365.64" stroke="#fff" stroke-width="5.1" stroke-linecap="round"/>
<line x1="498.64" y1="359.02" x2="505.4" y2="356.12" stroke="#000" stroke-width="7.3" stroke-linecap="round"/>
<line x1="498.64" y1="359.02" x2="505.4" y2="356.12" stroke="#fff" stroke-width="5.1" stroke-linecap="round"/>
<path d="M471.03,361.81 L471.05,360.69 L471.13,359.6 L471.26,358.53 L471.45,357.5 L471.7,356.51 L472,355.56 L472.36,354.66 L472.77,353.8 L473.23,353 L473.73,352.26 L474.29,351.57 L474.89,350.95 L475.53,350.4 L476.21,349.91 L476.92,349.49 L477.67,349.15 L480.45,348.02 L481.23,347.75 L482.03,347.56 L482.86,347.43 L483.71,347.39 L484.57,347.42 L485.44,347.53 L486.32,347.71 L487.21,347.96 L488.1,348.3 L488.98,348.7 L489.86,349.17 L490.73,349.71 L491.58,350.32 L492.42,351 L493.23,351.73 L494.02,352.52 L494.78,353.36 L495.51,354.26 L496.2,355.2 L496.85,356.19 L497.47,357.21 L498.04,358.26 L498.57,359.35 L499.05,360.46 L499.47,361.6 L499.85,362.74 L500.17,363.9 L500.44,365.06 L500.65,366.23 L500.81,367.39 L500.91,368.54 L500.95,369.67 L500.93,370.79 L500.85,371.88 L500.72,372.94 L500.53,373.97 L500.28,374.96 L499.98,375.92 L499.62,376.82 L499.21,377.68 L498.76,378.48 L498.25,379.22 L497.69,379.9 L497.09,380.52 L496.45,381.08 L495.77,381.57 L495.06,381.98 L494.31,382.33 L491.53,383.45 L490.75,383.72 L489.95,383.92 L489.12,384.04 L488.27,384.09 L487.41,384.06 L486.54,383.95 L485.66,383.77 L484.77,383.51 L483.88,383.18 L483,382.78 L482.12,382.3 L481.25,381.76 L480.4,381.15 L479.56,380.48 L478.75,379.75 L477.96,378.96 L477.2,378.11 L476.48,377.22 L475.78,376.28 L475.13,375.29 L474.51,374.27 L473.94,373.21 L473.41,372.12 L472.94,371.01 L472.51,369.88 L472.13,368.73 L471.81,367.58 L471.54,366.41 L471.33,365.25 L471.17,364.09 L471.07,362.94Z" fill="#fff" stroke="#000" stroke-width="1.1" stroke-linejoin="round" />
<path d="M491.53,383.45 L492.28,383.11 L492.99,382.69 L493.67,382.2 L494.31,381.65 L494.91,381.03 L495.47,380.34 L495.97,379.6 L496.43,378.8 L496.84,377.94 L497.2,377.04 L497.5,376.09 L497.75,375.1 L497.94,374.07 L498.07,373 L498.15,371.91 L498.17,370.8 L498.13,369.66 L498.03,368.51 L497.87,367.35 L497.66,366.19 L497.39,365.02 L497.07,363.87 L496.69,362.72 L496.26,361.59 L495.79,360.48 L495.26,359.39 L494.69,358.33 L494.07,357.31 L493.42,356.32 L492.72,355.38 L492,354.49 L491.24,353.64 L490.45,352.85 L489.63,352.12 L488.8,351.45 L487.95,350.84 L487.08,350.3 L486.2,349.82 L485.32,349.42 L484.43,349.09 L483.54,348.83 L482.66,348.65 L481.79,348.54 L480.92,348.51 L480.08,348.56 L479.25,348.68 L478.45,348.88 L477.67,349.15 L476.92,349.49 L476.21,349.91 L475.53,350.4 L474.89,350.95 L474.29,351.57 L473.73,352.26 L473.23,353 L472.77,353.8 L472.36,354.66 L472,355.56 L471.7,356.51 L471.45,357.5 L471.26,358.53 L471.13,359.6 L471.05,360.69 L471.03,361.8 L471.07,362.94 L471.17,364.09 L471.33,365.25 L471.54,366.41 L471.81,367.58 L472.13,368.73 L472.51,369.88 L472.94,371.01 L473.41,372.12 L473.94,373.21 L474.51,374.27 L475.13,375.29 L475.78,376.28 L476.48,377.22 L477.2,378.11 L477.96,378.96 L478.75,379.75 L479.57,380.48 L480.4,381.15 L481.25,381.76 L482.12,382.3 L483,382.78 L483.88,383.18 L484.77,383.51 L485.66,383.77 L486.54,383.95 L487.41,384.06 L488.28,384.09 L489.12,384.04 L489.95,383.92 L490.75,383.72 L491.53,383.45Z" fill="#fff" stroke="#000" stroke-width="1.1" stroke-linejoin="round" />
<path d="M490.86,381.78 L491.53,381.47 L492.18,381.1 L492.79,380.66 L493.37,380.16 L493.91,379.59 L494.41,378.98 L494.87,378.31 L495.28,377.58 L495.65,376.81 L495.97,375.99 L496.25,375.14 L496.47,374.24 L496.64,373.31 L496.76,372.35 L496.83,371.37 L496.85,370.36 L496.81,369.33 L496.72,368.3 L496.58,367.25 L496.39,366.2 L496.15,365.15 L495.86,364.1 L495.52,363.07 L495.13,362.05 L494.7,361.04 L494.22,360.06 L493.71,359.11 L493.15,358.18 L492.56,357.29 L491.93,356.44 L491.28,355.64 L490.59,354.87 L489.88,354.16 L489.14,353.5 L488.39,352.89 L487.62,352.34 L486.84,351.85 L486.05,351.43 L485.25,351.06 L484.45,350.76 L483.65,350.53 L482.85,350.37 L482.06,350.27 L481.28,350.24 L480.52,350.28 L479.77,350.39 L479.05,350.57 L478.34,350.82 L477.67,351.13 L477.02,351.5 L476.41,351.94 L475.83,352.44 L475.29,353.01 L474.79,353.62 L474.33,354.29 L473.92,355.02 L473.55,355.79 L473.23,356.61 L472.95,357.46 L472.73,358.36 L472.56,359.29 L472.44,360.25 L472.37,361.23 L472.35,362.24 L472.39,363.27 L472.48,364.3 L472.62,365.35 L472.81,366.4 L473.05,367.45 L473.34,368.5 L473.68,369.53 L474.07,370.55 L474.5,371.56 L474.98,372.54 L475.49,373.49 L476.05,374.42 L476.64,375.31 L477.27,376.16 L477.92,376.96 L478.61,377.73 L479.32,378.44 L480.06,379.1 L480.81,379.71 L481.58,380.26 L482.36,380.75 L483.15,381.17 L483.95,381.54 L484.75,381.84 L485.55,382.07 L486.35,382.23 L487.14,382.33 L487.92,382.36 L488.68,382.32 L489.43,382.21 L490.15,382.03 L490.86,381.78Z" fill="none" stroke="#444" stroke-width="0.6" stroke-linejoin="round" />
<path d="M489.96,379.56 L490.54,379.29 L491.09,378.97 L491.61,378.59 L492.11,378.16 L492.57,377.68 L493,377.16 L493.39,376.58 L493.75,375.96 L494.06,375.3 L494.34,374.6 L494.57,373.87 L494.76,373.1 L494.91,372.3 L495.01,371.48 L495.07,370.64 L495.09,369.77 L495.06,368.9 L494.98,368.01 L494.86,367.11 L494.7,366.21 L494.49,365.31 L494.24,364.42 L493.95,363.53 L493.62,362.66 L493.25,361.8 L492.84,360.96 L492.4,360.14 L491.92,359.35 L491.42,358.59 L490.88,357.86 L490.32,357.17 L489.73,356.52 L489.12,355.91 L488.49,355.34 L487.85,354.82 L487.19,354.35 L486.52,353.93 L485.84,353.56 L485.15,353.25 L484.47,353 L483.78,352.8 L483.1,352.66 L482.43,352.57 L481.76,352.55 L481.1,352.59 L480.47,352.68 L479.84,352.83 L479.24,353.04 L478.66,353.31 L478.11,353.63 L477.59,354.01 L477.09,354.44 L476.63,354.92 L476.2,355.44 L475.81,356.02 L475.45,356.64 L475.14,357.3 L474.86,358 L474.63,358.73 L474.44,359.5 L474.29,360.3 L474.19,361.12 L474.13,361.96 L474.11,362.83 L474.14,363.7 L474.22,364.59 L474.34,365.49 L474.5,366.39 L474.71,367.29 L474.96,368.18 L475.25,369.07 L475.58,369.94 L475.95,370.8 L476.36,371.64 L476.8,372.46 L477.28,373.25 L477.78,374.01 L478.32,374.74 L478.88,375.43 L479.47,376.08 L480.08,376.69 L480.71,377.26 L481.35,377.78 L482.01,378.25 L482.68,378.67 L483.36,379.04 L484.05,379.35 L484.73,379.6 L485.42,379.8 L486.1,379.94 L486.77,380.03 L487.44,380.05 L488.1,380.01 L488.73,379.92 L489.36,379.77 L489.96,379.56Z" fill="#fff" stroke="#000" stroke-width="1.1" stroke-linejoin="round" />
<g clip-path="url(#c10)">
<path d="M501.08,375.06 L501.66,374.8 L502.21,374.47 L502.74,374.1 L503.23,373.67 L503.7,373.19 L504.13,372.66 L504.52,372.08 L504.87,371.47 L505.19,370.81 L505.46,370.11 L505.7,369.37 L505.89,368.6 L506.04,367.81 L506.14,366.99 L506.2,366.14 L506.21,365.28 L506.18,364.4 L506.11,363.51 L505.99,362.62 L505.82,361.72 L505.61,360.82 L505.36,359.92 L505.07,359.04 L504.74,358.16 L504.37,357.3 L503.97,356.46 L503.52,355.65 L503.05,354.85 L502.54,354.09 L502.01,353.37 L501.44,352.67 L500.86,352.02 L500.25,351.41 L499.62,350.84 L498.97,350.32 L498.31,349.85 L497.64,349.43 L496.96,349.07 L496.28,348.76 L495.59,348.5 L494.91,348.3 L494.23,348.16 L493.55,348.08 L492.89,348.05 L492.23,348.09 L491.59,348.18 L490.97,348.34 L490.37,348.55 L489.79,348.81 L489.24,349.13 L488.71,349.51 L488.22,349.94 L487.76,350.42 L487.33,350.95 L486.93,351.52 L486.58,352.14 L486.26,352.8 L485.99,353.5 L485.75,354.24 L485.56,355.01 L485.42,355.8 L485.31,356.62 L485.25,357.47 L485.24,358.33 L485.27,359.21 L485.35,360.1 L485.47,360.99 L485.63,361.89 L485.84,362.79 L486.09,363.69 L486.38,364.57 L486.71,365.45 L487.08,366.31 L487.49,367.15 L487.93,367.96 L488.4,368.75 L488.91,369.52 L489.45,370.24 L490.01,370.94 L490.6,371.59 L491.21,372.2 L491.83,372.77 L492.48,373.29 L493.14,373.76 L493.81,374.17 L494.49,374.54 L495.17,374.85 L495.86,375.11 L496.54,375.31 L497.23,375.45 L497.9,375.53 L498.57,375.55 L499.22,375.52 L499.86,375.43 L500.48,375.27 L501.08,375.06Z" fill="none" stroke="#000" stroke-width="1.0" stroke-linejoin="round" />
</g>
<line x1="490.16" y1="364.05" x2="464.26" y2="375.7" stroke="#000" stroke-width="0.9" stroke-linecap="round"/>
<path d="M467.36,385.13 L468.18,386.48 L469.29,386.01 L468.89,384.48 L469.29,384.11 L470.3,385.08 L471,383.88 L470.27,382.46 L470.47,381.81 L471.5,382.26 L471.69,380.51 L470.73,379.41 L470.69,378.58 L471.6,378.43 L471.25,376.41 L470.2,375.8 L469.94,374.91 L470.58,374.19 L469.74,372.2 L468.78,372.17 L468.32,371.36 L468.6,370.19 L467.4,368.53 L466.66,369.08 L466.08,368.47 L465.96,367.02 L464.58,365.94 L464.18,367 L463.57,366.69 L463.06,365.17 L461.71,364.85 L461.71,366.24 L461.16,366.28 L460.34,364.93 L459.23,365.4 L459.63,366.93 L459.22,367.3 L458.22,366.33 L457.51,367.53 L458.25,368.95 L458.05,369.6 L457.02,369.15 L456.83,370.89 L457.79,371.99 L457.83,372.83 L456.92,372.97 L457.27,375 L458.31,375.61 L458.58,376.5 L457.93,377.21 L458.78,379.2 L459.74,379.24 L460.2,380.05 L459.91,381.22 L461.12,382.88 L461.86,382.33 L462.43,382.93 L462.56,384.39 L463.94,385.46 L464.34,384.41 L464.95,384.72 L465.46,386.24 L466.81,386.56 L466.81,385.16Z" fill="#fff" stroke="#000" stroke-width="0.6" stroke-linejoin="round" />
<path d="M437.48,380.29 L437.5,379.73 L437.54,379.2 L437.61,378.68 L437.71,378.19 L437.84,377.72 L437.99,377.28 L438.17,376.87 L438.37,376.49 L438.59,376.14 L438.84,375.83 L439.11,375.56 L439.4,375.32 L439.71,375.12 L440.04,374.95 L460.35,366.5 L460.7,366.38 L461.06,366.29 L461.43,366.25 L461.82,366.25 L462.22,366.28 L462.62,366.36 L463.04,366.48 L463.45,366.64 L463.88,366.83 L464.3,367.07 L464.72,367.34 L465.14,367.65 L465.56,367.99 L465.97,368.36 L466.38,368.77 L466.77,369.21 L467.15,369.67 L467.53,370.16 L467.88,370.67 L468.23,371.21 L468.55,371.76 L468.86,372.33 L469.15,372.92 L469.41,373.51 L469.66,374.12 L469.88,374.74 L470.08,375.35 L470.25,375.97 L470.4,376.59 L470.52,377.2 L470.61,377.81 L470.68,378.41 L470.72,379 L470.73,379.57 L470.71,380.13 L470.67,380.67 L470.6,381.18 L470.5,381.67 L470.37,382.14 L470.22,382.58 L470.04,382.99 L469.84,383.37 L469.62,383.72 L469.37,384.03 L469.1,384.3 L468.81,384.54 L468.5,384.75 L468.17,384.91 L447.86,393.36 L447.51,393.49 L447.15,393.57 L446.78,393.61 L446.39,393.62 L445.99,393.58 L445.59,393.5 L445.17,393.38 L444.75,393.22 L444.33,393.03 L443.91,392.79 L443.49,392.52 L443.07,392.21 L442.65,391.87 L442.24,391.5 L441.83,391.09 L441.44,390.65 L441.05,390.19 L440.68,389.7 L440.32,389.19 L439.98,388.65 L439.65,388.1 L439.35,387.53 L439.06,386.94 L438.79,386.35 L438.55,385.74 L438.33,385.12 L438.13,384.51 L437.96,383.89 L437.81,383.27 L437.69,382.66 L437.6,382.05 L437.53,381.45 L437.49,380.86Z" fill="#fff" stroke="none" stroke-linejoin="round" />
<path d="M447.0,393.6L448.6,392.9L468.9,384.5L469.3,386.0L468.2,386.5L447.9,394.9Z" fill="#fff" stroke="#000" stroke-width="0.6" stroke-linejoin="round"/>
<path d="M447.9,394.9L468.2,386.5" fill="none" stroke="#000" stroke-width="0.48"/>
<path d="M449.0,394.5L469.3,386.0" fill="none" stroke="#000" stroke-width="0.48"/>
<path d="M438.9,373.9L440.0,373.4L460.3,364.9L461.2,366.3L459.6,366.9L439.3,375.4Z" fill="#fff" stroke="#000" stroke-width="0.6" stroke-linejoin="round"/>
<path d="M449.0,392.6L450.0,390.9L470.3,382.5L471.0,383.9L470.3,385.1L450.0,393.5Z" fill="#fff" stroke="#000" stroke-width="0.6" stroke-linejoin="round"/>
<path d="M450.0,393.5L470.3,385.1" fill="none" stroke="#000" stroke-width="0.48"/>
<path d="M450.7,392.3L471.0,383.9" fill="none" stroke="#000" stroke-width="0.48"/>
<path d="M441.4,373.3L461.7,364.8L463.1,365.2L463.6,366.7L443.3,375.1L441.4,374.7Z" fill="#fff" stroke="#000" stroke-width="0.6" stroke-linejoin="round"/>
<path d="M450.2,390.3L450.4,387.9L470.7,379.4L471.7,380.5L471.5,382.3L451.2,390.7Z" fill="#fff" stroke="#000" stroke-width="0.6" stroke-linejoin="round"/>
<path d="M451.2,390.7L471.5,382.3" fill="none" stroke="#000" stroke-width="0.48"/>
<path d="M451.4,389.0L471.7,380.5" fill="none" stroke="#000" stroke-width="0.48"/>
<path d="M443.9,375.5L444.3,374.4L464.6,365.9L466.0,367.0L466.1,368.5L445.8,376.9Z" fill="#fff" stroke="#000" stroke-width="0.6" stroke-linejoin="round"/>
<path d="M449.9,384.3L470.2,375.8L471.2,376.4L471.6,378.4L451.3,386.9L450.4,387.0Z" fill="#fff" stroke="#000" stroke-width="0.6" stroke-linejoin="round"/>
<path d="M451.3,386.9L471.6,378.4" fill="none" stroke="#000" stroke-width="0.48"/>
<path d="M450.9,384.9L471.2,376.4" fill="none" stroke="#000" stroke-width="0.48"/>
<path d="M446.4,377.5L447.1,377.0L467.4,368.5L468.6,370.2L468.3,371.4L448.0,379.8Z" fill="#fff" stroke="#000" stroke-width="0.6" stroke-linejoin="round"/>
<path d="M448.5,380.6L468.8,372.2L469.7,372.2L470.6,374.2L469.9,374.9L449.6,383.4Z" fill="#fff" stroke="#000" stroke-width="0.6" stroke-linejoin="round"/>
<path d="M450.3,382.6L470.6,374.2" fill="none" stroke="#000" stroke-width="0.48"/>
<path d="M449.4,380.7L469.7,372.2" fill="none" stroke="#000" stroke-width="0.48"/>
<path d="M447.05,393.59 L447.86,394.93 L448.98,394.46 L448.58,392.94 L448.98,392.56 L449.99,393.54 L450.69,392.34 L449.96,390.92 L450.15,390.26 L451.19,390.71 L451.38,388.97 L450.42,387.87 L450.38,387.03 L451.29,386.89 L450.94,384.87 L449.89,384.25 L449.63,383.36 L450.27,382.65 L449.43,380.66 L448.47,380.63 L448.01,379.81 L448.29,378.64 L447.09,376.98 L446.35,377.54 L445.77,376.93 L445.65,375.47 L444.27,374.4 L443.87,375.45 L443.26,375.14 L442.75,373.62 L441.4,373.3 L441.4,374.7 L440.85,374.73 L440.03,373.38 L438.92,373.86 L439.32,375.38 L438.91,375.75 L437.91,374.78 L437.2,375.98 L437.94,377.4 L437.74,378.05 L436.71,377.61 L436.52,379.35 L437.48,380.45 L437.52,381.28 L436.61,381.43 L436.96,383.45 L438,384.06 L438.27,384.95 L437.62,385.67 L438.47,387.66 L439.43,387.69 L439.89,388.5 L439.6,389.68 L440.81,391.33 L441.55,390.78 L442.12,391.39 L442.25,392.84 L443.63,393.92 L444.03,392.86 L444.64,393.17 L445.15,394.69 L446.5,395.02 L446.5,393.62Z" fill="#fff" stroke="#000" stroke-width="0.9" stroke-linejoin="round" />
<path d="M430.42,383.56 L430.43,383.03 L430.48,382.52 L430.54,382.03 L430.64,381.56 L430.76,381.12 L430.9,380.7 L431.07,380.31 L431.26,379.95 L431.47,379.62 L431.71,379.32 L431.97,379.06 L432.24,378.83 L432.54,378.64 L432.85,378.49 L440.24,375.41 L440.56,375.3 L440.91,375.22 L441.26,375.18 L441.63,375.17 L442.01,375.21 L442.39,375.28 L442.79,375.39 L443.18,375.55 L443.58,375.73 L443.99,375.95 L444.39,376.21 L444.79,376.5 L445.18,376.83 L445.57,377.19 L445.96,377.57 L446.33,377.99 L446.7,378.43 L447.05,378.89 L447.39,379.38 L447.72,379.89 L448.03,380.41 L448.32,380.95 L448.59,381.51 L448.85,382.08 L449.08,382.65 L449.29,383.24 L449.48,383.82 L449.64,384.41 L449.78,385 L449.89,385.58 L449.98,386.16 L450.05,386.73 L450.08,387.29 L450.09,387.83 L450.08,388.36 L450.04,388.87 L449.97,389.36 L449.88,389.83 L449.76,390.27 L449.61,390.69 L449.44,391.08 L449.25,391.44 L449.04,391.77 L448.8,392.07 L448.55,392.33 L448.27,392.56 L447.97,392.75 L447.66,392.9 L440.27,395.98 L439.95,396.09 L439.6,396.17 L439.25,396.21 L438.88,396.22 L438.5,396.18 L438.12,396.11 L437.73,395.99 L437.33,395.85 L436.93,395.66 L436.53,395.44 L436.12,395.18 L435.73,394.88 L435.33,394.56 L434.94,394.2 L434.55,393.82 L434.18,393.4 L433.81,392.96 L433.46,392.5 L433.12,392.01 L432.79,391.5 L432.48,390.98 L432.19,390.43 L431.92,389.88 L431.67,389.31 L431.43,388.73 L431.22,388.15 L431.04,387.56 L430.87,386.98 L430.73,386.39 L430.62,385.81 L430.53,385.23 L430.47,384.66 L430.43,384.1Z" fill="#fff" stroke="#000" stroke-width="1.0" stroke-linejoin="round" />
<path d="M440.28,395.98 L440.59,395.82 L440.88,395.63 L441.16,395.4 L441.42,395.14 L441.65,394.84 L441.87,394.52 L442.06,394.16 L442.23,393.77 L442.37,393.35 L442.49,392.9 L442.58,392.44 L442.65,391.95 L442.69,391.43 L442.71,390.91 L442.7,390.36 L442.66,389.8 L442.6,389.24 L442.51,388.66 L442.39,388.07 L442.25,387.49 L442.09,386.9 L441.9,386.31 L441.69,385.73 L441.46,385.15 L441.21,384.59 L440.93,384.03 L440.64,383.49 L440.33,382.96 L440.01,382.45 L439.67,381.96 L439.31,381.5 L438.95,381.06 L438.57,380.65 L438.19,380.26 L437.8,379.9 L437.4,379.58 L437,379.29 L436.6,379.03 L436.2,378.81 L435.8,378.62 L435.4,378.47 L435.01,378.36 L434.62,378.28 L434.25,378.25 L433.88,378.25 L433.52,378.29 L433.18,378.37 L432.85,378.49 L432.54,378.64 L432.24,378.83 L431.97,379.06 L431.71,379.32 L431.47,379.62 L431.26,379.95 L431.07,380.31 L430.9,380.7 L430.76,381.12 L430.64,381.56 L430.54,382.03 L430.48,382.52 L430.43,383.03 L430.42,383.56 L430.43,384.1 L430.47,384.66 L430.53,385.23 L430.62,385.81 L430.73,386.39 L430.87,386.98 L431.04,387.56 L431.22,388.15 L431.43,388.73 L431.67,389.31 L431.92,389.88 L432.19,390.43 L432.48,390.98 L432.79,391.5 L433.12,392.01 L433.46,392.5 L433.81,392.96 L434.18,393.4 L434.55,393.82 L434.94,394.2 L435.33,394.56 L435.73,394.89 L436.13,395.18 L436.53,395.44 L436.93,395.66 L437.33,395.84 L437.73,395.99 L438.12,396.11 L438.5,396.18 L438.88,396.22 L439.25,396.21 L439.6,396.17 L439.95,396.09 L440.28,395.98Z" fill="#fff" stroke="#000" stroke-width="1.0" stroke-linejoin="round" />
<path d="M438.73,399.15 L439.99,403.1 L442.66,403.38 L442.08,399.5 L443.21,399.05 L445.56,402.23 L447.28,400.22 L445.37,396.53 L445.87,395.08 L448.57,396.48 L448.79,392.83 L446.15,390.49 L445.86,388.5 L448.06,387.67 L446.72,383.53 L444.18,383.3 L443.2,381.39 L444.19,378.6 L441.71,375.29 L440.09,377.23 L438.73,376.01 L438.2,372.14 L435.36,370.71 L435.17,374.21 L433.86,374.08 L431.98,370.36 L429.69,371.26 L430.99,375.21 L430.14,376.2 L427.5,373.81 L426.49,376.76 L428.87,379.9 L428.75,381.7 L426.2,381.4 L426.78,385.46 L429.48,386.8 L430.14,388.83 L428.48,390.72 L430.47,394.6 L432.64,393.71 L433.86,395.34 L433.62,398.81 L436.39,401.28 L437.34,398.45Z" fill="#fff" stroke="#000" stroke-width="0.85" stroke-linejoin="round" />
<path d="M368.75,406.61 L368.77,405.85 L368.83,405.13 L368.92,404.43 L369.06,403.77 L369.23,403.13 L369.43,402.54 L369.67,401.99 L369.94,401.48 L370.25,401.01 L370.58,400.59 L370.95,400.21 L371.34,399.89 L371.76,399.62 L372.2,399.4 L432.02,374.51 L432.48,374.32 L432.96,374.18 L433.46,374.1 L433.97,374.07 L434.5,374.1 L435.05,374.19 L435.6,374.32 L436.16,374.51 L436.73,374.76 L437.3,375.05 L437.87,375.4 L438.44,375.79 L439.01,376.24 L439.57,376.72 L440.12,377.25 L440.65,377.83 L441.18,378.44 L441.69,379.08 L442.18,379.76 L442.65,380.47 L443.1,381.21 L443.53,381.97 L443.93,382.76 L444.3,383.56 L444.64,384.37 L444.95,385.19 L445.23,386.03 L445.48,386.86 L445.69,387.7 L445.87,388.53 L446.01,389.35 L446.12,390.17 L446.19,390.97 L446.22,391.75 L446.21,392.51 L446.17,393.25 L446.08,393.96 L445.97,394.63 L445.81,395.28 L445.62,395.89 L445.4,396.46 L445.14,396.99 L444.85,397.48 L444.53,397.92 L444.17,398.31 L443.79,398.65 L443.38,398.95 L442.95,399.19 L382.75,424.25 L382.29,424.42 L381.8,424.53 L381.29,424.59 L380.77,424.6 L380.24,424.54 L379.69,424.44 L379.13,424.28 L378.57,424.07 L378,423.8 L377.43,423.48 L376.86,423.12 L376.29,422.7 L375.72,422.24 L375.17,421.74 L374.62,421.19 L374.09,420.6 L373.57,419.97 L373.07,419.31 L372.58,418.62 L372.12,417.9 L371.68,417.15 L371.27,416.38 L370.88,415.59 L370.52,414.78 L370.19,413.96 L369.89,413.13 L369.62,412.3 L369.39,411.46 L369.19,410.63 L369.03,409.8 L368.9,408.98 L368.81,408.17 L368.76,407.38Z" fill="#fff" stroke="none" stroke-linejoin="round" />
<path d="M381.2,424.6L438.7,399.1L442.1,399.5L442.7,403.4L383.1,428.3Z" fill="#fff" stroke="#000" stroke-width="0.85" stroke-linejoin="round"/>
<path d="M383.1,428.3L440.0,403.1" fill="none" stroke="#000" stroke-width="0.68"/>
<path d="M385.4,427.3L442.7,403.4" fill="none" stroke="#000" stroke-width="0.68"/>
<path d="M367.6,398.6L369.3,396.5L429.7,371.3L432.0,370.4L433.9,374.1L369.5,402.3Z" fill="#fff" stroke="#000" stroke-width="0.85" stroke-linejoin="round"/>
<path d="M384.9,422.4L386.1,418.6L445.4,396.5L447.3,400.2L445.6,402.2L387.5,424.7Z" fill="#fff" stroke="#000" stroke-width="0.85" stroke-linejoin="round"/>
<path d="M387.5,424.7L445.6,402.2" fill="none" stroke="#000" stroke-width="0.68"/>
<path d="M388.5,421.7L447.3,400.2" fill="none" stroke="#000" stroke-width="0.68"/>
<path d="M372.2,395.3L435.4,370.7L438.2,372.1L438.7,376.0L376.1,399.5L372.8,399.2Z" fill="#fff" stroke="#000" stroke-width="0.85" stroke-linejoin="round"/>
<path d="M385.4,411.7L446.1,390.5L448.8,392.8L448.6,396.5L388.7,417.0L386.2,416.8Z" fill="#fff" stroke="#000" stroke-width="0.85" stroke-linejoin="round"/>
<path d="M388.7,417.0L448.6,396.5" fill="none" stroke="#000" stroke-width="0.68"/>
<path d="M388.1,413.0L448.8,392.8" fill="none" stroke="#000" stroke-width="0.68"/>
<path d="M377.5,400.2L378.4,397.3L441.7,375.3L444.2,378.6L443.2,381.4L381.0,403.2Z" fill="#fff" stroke="#000" stroke-width="0.85" stroke-linejoin="round"/>
<path d="M382.2,404.8L384.4,403.9L444.2,383.3L446.7,383.5L448.1,387.7L445.9,388.5L384.8,409.7Z" fill="#fff" stroke="#000" stroke-width="0.85" stroke-linejoin="round"/>
<path d="M386.4,407.7L448.1,387.7" fill="none" stroke="#000" stroke-width="0.68"/>
<path d="M384.4,403.9L446.7,383.5" fill="none" stroke="#000" stroke-width="0.68"/>
<path d="M381.22,424.6 L383.13,428.29 L385.39,427.33 L384.06,423.39 L384.89,422.38 L387.54,424.71 L388.51,421.72 L386.12,418.62 L386.21,416.81 L388.75,417.05 L388.13,412.97 L385.43,411.69 L384.75,409.66 L386.38,407.72 L384.36,403.86 L382.22,404.81 L380.99,403.2 L381.19,399.7 L378.41,397.28 L377.5,400.15 L376.11,399.48 L374.82,395.53 L372.16,395.31 L372.78,399.2 L371.66,399.68 L369.29,396.53 L367.6,398.59 L369.54,402.26 L369.06,403.73 L366.36,402.39 L366.18,406.07 L368.83,408.36 L369.14,410.36 L366.97,411.25 L368.34,415.38 L370.86,415.56 L371.86,417.45 L370.91,420.28 L373.4,423.56 L375,421.57 L376.36,422.76 L376.93,426.64 L379.76,428.01 L379.92,424.49Z" fill="#fff" stroke="#000" stroke-width="1.0" stroke-linejoin="round" />
<line x1="386.76" y1="422.81" x2="442.04" y2="400.44" stroke="#333" stroke-width="1.6" stroke-linecap="round"/>
<line x1="388.55" y1="417.31" x2="445.2" y2="396.75" stroke="#333" stroke-width="1.6" stroke-linecap="round"/>
<line x1="387.42" y1="409.83" x2="445.62" y2="390.04" stroke="#333" stroke-width="1.6" stroke-linecap="round"/>
<line x1="383.71" y1="402.74" x2="443.16" y2="382.44" stroke="#333" stroke-width="1.6" stroke-linecap="round"/>
<line x1="378.61" y1="398.29" x2="438.61" y2="376.36" stroke="#333" stroke-width="1.6" stroke-linecap="round"/>
<path d="M382.33,431.18 L383.34,435.5 L385.73,436.1 L385.28,431.92 L385.99,431.96 L387.68,436.21 L389.83,435.87 L388.65,431.54 L389.26,431.29 L391.52,435.18 L393.29,433.92 L391.44,429.73 L391.91,429.21 L394.59,432.48 L395.85,430.39 L393.46,426.63 L393.76,425.87 L396.68,428.29 L397.35,425.51 L394.59,422.44 L394.7,421.49 L397.65,422.9 L397.68,419.62 L394.74,417.45 L394.65,416.38 L397.44,416.68 L396.83,413.12 L393.9,411.99 L393.62,410.88 L396.05,410.05 L394.85,406.46 L392.13,406.45 L391.68,405.36 L393.59,403.46 L391.87,400.08 L389.55,401.19 L388.96,400.21 L390.22,397.36 L388.1,394.42 L386.34,396.58 L385.64,395.77 L386.17,392.17 L383.79,389.88 L382.71,392.93 L381.96,392.34 L381.71,388.24 L379.24,386.75 L378.92,390.49 L378.16,390.16 L377.16,385.84 L374.77,385.25 L375.21,389.43 L374.5,389.39 L372.81,385.14 L370.66,385.48 L371.85,389.81 L371.24,390.06 L368.98,386.17 L367.21,387.43 L369.06,391.61 L368.59,392.14 L365.91,388.87 L364.65,390.96 L367.03,394.72 L366.73,395.48 L363.82,393.06 L363.15,395.84 L365.9,398.91 L365.79,399.85 L362.84,398.45 L362.81,401.73 L365.75,403.9 L365.84,404.97 L363.06,404.67 L363.67,408.23 L366.59,409.36 L366.87,410.47 L364.44,411.3 L365.65,414.89 L368.36,414.9 L368.82,415.99 L366.91,417.89 L368.63,421.27 L370.94,420.16 L371.54,421.14 L370.28,423.98 L372.4,426.92 L374.15,424.77 L374.85,425.58 L374.33,429.17 L376.7,431.47 L377.78,428.42 L378.54,429.01 L378.78,433.1 L381.25,434.6 L381.58,430.86Z" fill="#fff" stroke="#000" stroke-width="0.8" stroke-linejoin="round" />
<path d="M335.23,414.65 L335.26,413.4 L335.36,412.19 L335.52,411.03 L335.75,409.92 L336.03,408.87 L336.37,407.88 L336.77,406.96 L337.22,406.11 L337.73,405.33 L338.29,404.62 L338.9,404 L339.55,403.46 L340.25,403.01 L340.99,402.64 L371.54,389.93 L372.32,389.66 L373.14,389.48 L373.98,389.39 L374.86,389.4 L375.75,389.49 L376.67,389.68 L377.6,389.96 L378.54,390.32 L379.49,390.77 L380.44,391.31 L381.39,391.93 L382.34,392.63 L383.27,393.41 L384.2,394.26 L385.11,395.18 L385.99,396.17 L386.86,397.22 L387.69,398.33 L388.49,399.49 L389.26,400.69 L389.99,401.95 L390.67,403.24 L391.31,404.56 L391.91,405.9 L392.45,407.27 L392.95,408.65 L393.38,410.04 L393.77,411.43 L394.09,412.82 L394.35,414.2 L394.56,415.57 L394.7,416.92 L394.78,418.23 L394.8,419.52 L394.76,420.77 L394.65,421.97 L394.48,423.13 L394.25,424.23 L393.97,425.27 L393.62,426.25 L393.21,427.17 L392.75,428.01 L392.24,428.79 L391.68,429.48 L391.06,430.09 L390.4,430.62 L389.7,431.06 L388.95,431.42 L358.57,444.07 L357.8,444.35 L356.98,444.53 L356.14,444.63 L355.27,444.64 L354.38,444.55 L353.46,444.38 L352.54,444.11 L351.6,443.75 L350.65,443.31 L349.7,442.78 L348.74,442.17 L347.8,441.48 L346.86,440.71 L345.93,439.87 L345.02,438.96 L344.13,437.98 L343.27,436.93 L342.43,435.83 L341.62,434.68 L340.85,433.47 L340.12,432.23 L339.43,430.94 L338.78,429.62 L338.18,428.28 L337.63,426.91 L337.13,425.53 L336.69,424.14 L336.3,422.75 L335.97,421.36 L335.7,419.98 L335.49,418.61 L335.34,417.26 L335.25,415.94Z" fill="#fff" stroke="none" stroke-linejoin="round" />
<path d="M333.2,406.1L334.2,403.6L369.0,386.2L371.2,390.1L369.1,391.6L335.9,409.5Z" fill="#fff" stroke="#000" stroke-width="0.8" stroke-linejoin="round"/>
<path d="M334.2,403.6L369.0,386.2" fill="none" stroke="#000" stroke-width="0.6400000000000001"/>
<path d="M333.2,406.1L367.2,387.4" fill="none" stroke="#000" stroke-width="0.6400000000000001"/>
<path d="M357.3,444.5L382.3,431.2L385.3,431.9L385.7,436.1L361.3,447.7L359.3,448.6Z" fill="#fff" stroke="#000" stroke-width="0.8" stroke-linejoin="round"/>
<path d="M359.3,448.6L383.3,435.5" fill="none" stroke="#000" stroke-width="0.6400000000000001"/>
<path d="M361.3,447.7L385.7,436.1" fill="none" stroke="#000" stroke-width="0.6400000000000001"/>
<path d="M335.3,401.8L336.8,400.1L370.7,385.5L372.8,385.1L374.5,389.4L337.4,405.8Z" fill="#fff" stroke="#000" stroke-width="0.8" stroke-linejoin="round"/>
<path d="M360.3,443.0L362.1,440.9L386.0,432.0L388.6,431.5L389.8,435.9L362.8,446.6Z" fill="#fff" stroke="#000" stroke-width="0.8" stroke-linejoin="round"/>
<path d="M362.8,446.6L387.7,436.2" fill="none" stroke="#000" stroke-width="0.6400000000000001"/>
<path d="M364.3,444.9L389.8,435.9" fill="none" stroke="#000" stroke-width="0.6400000000000001"/>
<path d="M338.3,399.0L340.2,398.1L374.8,385.2L377.2,385.8L378.2,390.2L339.8,403.3Z" fill="#fff" stroke="#000" stroke-width="0.8" stroke-linejoin="round"/>
<path d="M362.5,440.3L363.7,437.2L391.4,429.7L393.3,433.9L391.5,435.2L365.4,443.1Z" fill="#fff" stroke="#000" stroke-width="0.8" stroke-linejoin="round"/>
<path d="M365.4,443.1L391.5,435.2" fill="none" stroke="#000" stroke-width="0.6400000000000001"/>
<path d="M366.3,440.6L393.3,433.9" fill="none" stroke="#000" stroke-width="0.6400000000000001"/>
<path d="M342.1,397.8L379.2,386.7L381.7,388.2L382.0,392.3L345.7,402.3L342.9,402.1Z" fill="#fff" stroke="#000" stroke-width="0.8" stroke-linejoin="round"/>
<path d="M363.9,436.4L364.3,432.6L393.5,426.6L395.8,430.4L394.6,432.5L366.9,438.3Z" fill="#fff" stroke="#000" stroke-width="0.8" stroke-linejoin="round"/>
<path d="M366.9,438.3L394.6,432.5" fill="none" stroke="#000" stroke-width="0.6400000000000001"/>
<path d="M367.2,435.2L395.8,430.4" fill="none" stroke="#000" stroke-width="0.6400000000000001"/>
<path d="M346.4,398.4L383.8,389.9L386.2,392.2L385.6,395.8L349.5,403.7L346.5,402.4Z" fill="#fff" stroke="#000" stroke-width="0.8" stroke-linejoin="round"/>
<path d="M364.0,427.3L394.6,422.4L397.3,425.5L396.7,428.3L367.2,432.4L364.3,431.5Z" fill="#fff" stroke="#000" stroke-width="0.8" stroke-linejoin="round"/>
<path d="M367.2,432.4L396.7,428.3" fill="none" stroke="#000" stroke-width="0.6400000000000001"/>
<path d="M366.9,428.9L397.3,425.5" fill="none" stroke="#000" stroke-width="0.6400000000000001"/>
<path d="M350.2,404.2L350.9,400.7L388.1,394.4L390.2,397.4L389.0,400.2L353.3,406.5Z" fill="#fff" stroke="#000" stroke-width="0.8" stroke-linejoin="round"/>
<path d="M362.6,421.7L394.7,417.4L397.7,419.6L397.7,422.9L363.8,426.2Z" fill="#fff" stroke="#000" stroke-width="0.8" stroke-linejoin="round"/>
<path d="M366.4,425.9L397.7,422.9" fill="none" stroke="#000" stroke-width="0.6400000000000001"/>
<path d="M365.5,422.3L397.7,419.6" fill="none" stroke="#000" stroke-width="0.6400000000000001"/>
<path d="M354.0,407.2L355.4,404.5L391.9,400.1L393.6,403.5L391.7,405.4L356.8,410.4Z" fill="#fff" stroke="#000" stroke-width="0.8" stroke-linejoin="round"/>
<path d="M357.7,407.2L393.6,403.5" fill="none" stroke="#000" stroke-width="0.6400000000000001"/>
<path d="M355.4,404.5L391.9,400.1" fill="none" stroke="#000" stroke-width="0.6400000000000001"/>
<path d="M360.4,416.3L362.9,415.7L393.9,412.0L396.8,413.1L397.4,416.7L362.2,420.6Z" fill="#fff" stroke="#000" stroke-width="0.8" stroke-linejoin="round"/>
<path d="M364.4,419.2L397.4,416.7" fill="none" stroke="#000" stroke-width="0.6400000000000001"/>
<path d="M362.9,415.7L396.8,413.1" fill="none" stroke="#000" stroke-width="0.6400000000000001"/>
<path d="M357.5,411.3L359.5,409.7L392.1,406.4L394.8,406.5L396.1,410.0L393.6,410.9L359.9,415.3Z" fill="#fff" stroke="#000" stroke-width="0.8" stroke-linejoin="round"/>
<path d="M361.4,412.8L396.1,410.0" fill="none" stroke="#000" stroke-width="0.6400000000000001"/>
<path d="M359.5,409.7L394.8,406.5" fill="none" stroke="#000" stroke-width="0.6400000000000001"/>
<path d="M357.31,444.47 L359.32,448.56 L361.29,447.73 L359.74,443.44 L360.28,443.04 L362.78,446.63 L364.3,444.92 L362.15,440.93 L362.53,440.27 L365.36,443.12 L366.32,440.64 L363.71,437.22 L363.91,436.35 L366.87,438.26 L367.21,435.18 L364.33,432.56 L364.33,431.55 L367.22,432.38 L366.91,428.92 L363.95,427.28 L363.76,426.18 L366.38,425.88 L365.45,422.28 L362.61,421.73 L362.24,420.62 L364.41,419.22 L362.92,415.71 L360.4,416.29 L359.86,415.25 L361.44,412.83 L359.49,409.66 L357.46,411.34 L356.8,410.43 L357.68,407.17 L355.41,404.54 L354,407.2 L353.26,406.5 L353.38,402.6 L350.94,400.71 L350.25,404.16 L349.49,403.71 L348.83,399.46 L346.39,398.42 L346.47,402.43 L345.73,402.26 L344.35,397.93 L342.07,397.83 L342.91,402.13 L342.25,402.24 L340.24,398.15 L338.28,398.98 L339.83,403.27 L339.28,403.67 L336.78,400.08 L335.27,401.79 L337.42,405.78 L337.03,406.44 L334.21,403.59 L333.25,406.07 L335.85,409.49 L335.65,410.36 L332.69,408.46 L332.36,411.53 L335.24,414.15 L335.23,415.16 L332.34,414.33 L332.65,417.79 L335.61,419.43 L335.8,420.53 L333.18,420.83 L334.11,424.43 L336.95,424.98 L337.33,426.09 L335.15,427.49 L336.64,431 L339.17,430.42 L339.7,431.46 L338.12,433.88 L340.07,437.05 L342.1,435.37 L342.76,436.28 L341.88,439.54 L344.16,442.17 L345.57,439.51 L346.3,440.22 L346.18,444.11 L348.63,446 L349.31,442.55 L350.08,443.01 L350.73,447.26 L353.18,448.29 L353.1,444.28 L353.83,444.46 L355.21,448.78 L357.5,448.88 L356.65,444.58Z" fill="#fff" stroke="#000" stroke-width="1.0" stroke-linejoin="round" />
<path d="M326.08,417.61 L326.12,416.29 L326.22,415 L326.39,413.78 L326.63,412.6 L326.92,411.49 L327.29,410.44 L327.71,409.47 L328.19,408.57 L328.72,407.74 L329.31,407 L329.96,406.34 L330.65,405.77 L331.39,405.29 L332.17,404.91 L341.4,401.06 L342.23,400.77 L343.09,400.57 L343.98,400.47 L344.9,400.46 L345.84,400.55 L346.81,400.74 L347.79,401.02 L348.79,401.39 L349.79,401.86 L350.8,402.42 L351.8,403.07 L352.8,403.8 L353.8,404.61 L354.78,405.5 L355.74,406.47 L356.68,407.51 L357.6,408.61 L358.48,409.78 L359.33,411 L360.15,412.27 L360.92,413.59 L361.65,414.95 L362.34,416.34 L362.97,417.76 L363.56,419.21 L364.08,420.67 L364.55,422.14 L364.96,423.61 L365.31,425.08 L365.6,426.54 L365.82,427.99 L365.98,429.42 L366.07,430.81 L366.1,432.18 L366.06,433.5 L365.96,434.78 L365.79,436.01 L365.55,437.18 L365.25,438.29 L364.89,439.34 L364.47,440.32 L363.99,441.22 L363.45,442.04 L362.86,442.79 L362.22,443.44 L361.53,444.01 L360.79,444.49 L360,444.88 L350.77,448.72 L349.95,449.02 L349.09,449.21 L348.2,449.32 L347.28,449.32 L346.33,449.23 L345.37,449.05 L344.39,448.77 L343.39,448.39 L342.39,447.92 L341.38,447.37 L340.38,446.72 L339.37,445.99 L338.38,445.18 L337.4,444.28 L336.44,443.32 L335.5,442.28 L334.58,441.18 L333.7,440.01 L332.84,438.79 L332.03,437.51 L331.25,436.2 L330.52,434.84 L329.84,433.44 L329.2,432.02 L328.62,430.58 L328.1,429.12 L327.63,427.65 L327.21,426.17 L326.87,424.7 L326.58,423.24 L326.36,421.8 L326.2,420.37 L326.11,418.97Z" fill="#fff" stroke="#000" stroke-width="1.0" stroke-linejoin="round" />
<path d="M350.77,448.72 L351.55,448.33 L352.29,447.86 L352.99,447.29 L353.63,446.63 L354.22,445.89 L354.76,445.06 L355.24,444.16 L355.66,443.18 L356.02,442.14 L356.32,441.02 L356.55,439.85 L356.72,438.62 L356.83,437.34 L356.87,436.02 L356.84,434.66 L356.75,433.26 L356.59,431.83 L356.37,430.39 L356.08,428.93 L355.73,427.45 L355.32,425.98 L354.85,424.51 L354.32,423.05 L353.74,421.61 L353.11,420.18 L352.42,418.79 L351.69,417.43 L350.92,416.11 L350.1,414.84 L349.25,413.62 L348.36,412.45 L347.45,411.35 L346.51,410.31 L345.54,409.35 L344.57,408.45 L343.57,407.64 L342.57,406.91 L341.56,406.26 L340.56,405.71 L339.55,405.24 L338.56,404.86 L337.58,404.58 L336.61,404.4 L335.67,404.3 L334.75,404.31 L333.85,404.41 L333,404.61 L332.17,404.91 L331.39,405.29 L330.65,405.77 L329.96,406.34 L329.31,407 L328.72,407.74 L328.19,408.57 L327.71,409.47 L327.28,410.45 L326.92,411.49 L326.63,412.6 L326.39,413.78 L326.22,415.01 L326.12,416.28 L326.08,417.61 L326.11,418.97 L326.2,420.37 L326.36,421.8 L326.58,423.24 L326.87,424.7 L327.22,426.17 L327.63,427.65 L328.1,429.12 L328.62,430.58 L329.2,432.02 L329.84,433.44 L330.52,434.84 L331.25,436.2 L332.03,437.51 L332.84,438.79 L333.7,440.01 L334.58,441.17 L335.5,442.28 L336.44,443.32 L337.4,444.28 L338.38,445.17 L339.37,445.99 L340.38,446.72 L341.38,447.37 L342.39,447.92 L343.39,448.39 L344.39,448.77 L345.37,449.05 L346.33,449.23 L347.28,449.32 L348.2,449.32 L349.09,449.21 L349.95,449.02 L350.77,448.72Z" fill="#fff" stroke="#000" stroke-width="1.0" stroke-linejoin="round" />
<path d="M270.05,443.1 L270.08,441.95 L270.17,440.85 L270.32,439.8 L270.52,438.79 L270.78,437.83 L271.09,436.93 L271.45,436.08 L271.87,435.31 L272.33,434.6 L272.84,433.96 L273.39,433.39 L273.99,432.9 L274.63,432.49 L275.3,432.15 L334.39,407.56 L335.09,407.31 L335.83,407.14 L336.6,407.05 L337.39,407.04 L338.21,407.12 L339.04,407.28 L339.89,407.52 L340.74,407.85 L341.61,408.25 L342.47,408.73 L343.34,409.29 L344.2,409.92 L345.06,410.62 L345.9,411.38 L346.73,412.22 L347.54,413.11 L348.33,414.06 L349.09,415.06 L349.83,416.12 L350.53,417.21 L351.2,418.35 L351.83,419.52 L352.42,420.72 L352.96,421.94 L353.46,423.19 L353.92,424.45 L354.32,425.71 L354.68,426.98 L354.98,428.25 L355.22,429.51 L355.42,430.75 L355.55,431.98 L355.63,433.18 L355.66,434.36 L355.62,435.5 L355.53,436.6 L355.39,437.66 L355.18,438.67 L354.93,439.63 L354.62,440.53 L354.25,441.37 L353.84,442.15 L353.38,442.86 L352.87,443.5 L352.31,444.06 L351.72,444.55 L351.08,444.97 L350.41,445.3 L291.32,469.89 L290.61,470.15 L289.87,470.32 L289.11,470.41 L288.31,470.41 L287.5,470.34 L286.67,470.18 L285.82,469.93 L284.96,469.61 L284.1,469.21 L283.23,468.73 L282.37,468.17 L281.5,467.54 L280.65,466.84 L279.8,466.07 L278.97,465.24 L278.16,464.35 L277.38,463.39 L276.61,462.39 L275.88,461.34 L275.18,460.24 L274.51,459.11 L273.88,457.94 L273.29,456.74 L272.74,455.51 L272.24,454.27 L271.79,453.01 L271.38,451.74 L271.03,450.47 L270.73,449.21 L270.48,447.95 L270.29,446.7 L270.15,445.47 L270.07,444.27Z" fill="#999" stroke="none" stroke-linejoin="round" />
<path d="M270.4,430.3L272.4,428.6L331.4,404.0L333.9,407.8L331.5,409.9L272.4,434.5Z" fill="#fff" stroke="#000" stroke-width="0.9" stroke-linejoin="round"/>
<path d="M272.4,428.6L331.4,404.0" fill="none" stroke="#000" stroke-width="0.7200000000000001"/>
<path d="M270.4,430.3L329.5,405.8" fill="none" stroke="#000" stroke-width="0.7200000000000001"/>
<path d="M289.8,470.3L292.7,469.1L351.7,444.5L353.3,448.9L351.0,449.8L291.9,474.4Z" fill="#fff" stroke="#000" stroke-width="0.9" stroke-linejoin="round"/>
<path d="M291.9,474.4L351.0,449.8" fill="none" stroke="#000" stroke-width="0.7200000000000001"/>
<path d="M294.2,473.5L353.3,448.9" fill="none" stroke="#000" stroke-width="0.7200000000000001"/>
<path d="M274.8,427.6L333.9,403.0L336.5,402.8L338.1,407.1L279.0,431.7L275.9,431.9Z" fill="#fff" stroke="#000" stroke-width="0.9" stroke-linejoin="round"/>
<path d="M277.4,427.4L336.5,402.8" fill="none" stroke="#000" stroke-width="0.7200000000000001"/>
<path d="M274.8,427.6L333.9,403.0" fill="none" stroke="#000" stroke-width="0.7200000000000001"/>
<path d="M293.6,468.3L295.4,465.4L354.5,440.8L356.9,444.6L355.4,447.0L296.3,471.6Z" fill="#fff" stroke="#000" stroke-width="0.9" stroke-linejoin="round"/>
<path d="M296.3,471.6L355.4,447.0" fill="none" stroke="#000" stroke-width="0.7200000000000001"/>
<path d="M297.8,469.2L356.9,444.6" fill="none" stroke="#000" stroke-width="0.7200000000000001"/>
<path d="M280.3,432.0L280.4,428.0L339.5,403.4L342.3,404.7L342.9,409.0L283.8,433.6Z" fill="#fff" stroke="#000" stroke-width="0.9" stroke-linejoin="round"/>
<path d="M283.2,429.3L342.3,404.7" fill="none" stroke="#000" stroke-width="0.7200000000000001"/>
<path d="M280.4,428.0L339.5,403.4" fill="none" stroke="#000" stroke-width="0.7200000000000001"/>
<path d="M295.9,464.0L296.6,459.7L355.6,435.1L358.5,438.0L358.0,441.4L298.9,466.0Z" fill="#fff" stroke="#000" stroke-width="0.9" stroke-linejoin="round"/>
<path d="M298.9,466.0L358.0,441.4" fill="none" stroke="#000" stroke-width="0.7200000000000001"/>
<path d="M299.4,462.6L358.5,438.0" fill="none" stroke="#000" stroke-width="0.7200000000000001"/>
<path d="M285.2,434.6L286.3,431.5L345.4,406.9L348.2,409.6L347.7,413.2L288.6,437.8Z" fill="#fff" stroke="#000" stroke-width="0.9" stroke-linejoin="round"/>
<path d="M289.1,434.2L348.2,409.6" fill="none" stroke="#000" stroke-width="0.7200000000000001"/>
<path d="M286.3,431.5L345.4,406.9" fill="none" stroke="#000" stroke-width="0.7200000000000001"/>
<path d="M295.9,452.9L355.0,428.3L358.0,429.7L358.5,433.8L299.4,458.4L296.6,457.9Z" fill="#fff" stroke="#000" stroke-width="0.9" stroke-linejoin="round"/>
<path d="M299.4,458.4L358.5,433.8" fill="none" stroke="#000" stroke-width="0.7200000000000001"/>
<path d="M298.9,454.3L358.0,429.7" fill="none" stroke="#000" stroke-width="0.7200000000000001"/>
<path d="M289.8,439.4L291.8,437.7L350.9,413.1L353.2,416.7L351.7,419.3L292.6,443.9Z" fill="#fff" stroke="#000" stroke-width="0.9" stroke-linejoin="round"/>
<path d="M294.1,441.3L353.2,416.7" fill="none" stroke="#000" stroke-width="0.7200000000000001"/>
<path d="M291.8,437.7L350.9,413.1" fill="none" stroke="#000" stroke-width="0.7200000000000001"/>
<path d="M293.5,445.8L352.6,421.2L355.3,421.0L356.8,425.2L354.5,426.3L295.4,450.9Z" fill="#fff" stroke="#000" stroke-width="0.9" stroke-linejoin="round"/>
<path d="M297.7,449.8L356.8,425.2" fill="none" stroke="#000" stroke-width="0.7200000000000001"/>
<path d="M296.2,445.6L355.3,421.0" fill="none" stroke="#000" stroke-width="0.7200000000000001"/>
<line x1="295.45" y1="468.85" x2="351.77" y2="445.4" stroke="#333" stroke-width="1.5" stroke-linecap="round"/>
<line x1="298.13" y1="464.61" x2="354.45" y2="441.16" stroke="#333" stroke-width="1.5" stroke-linecap="round"/>
<line x1="299.06" y1="458.43" x2="355.38" y2="434.99" stroke="#333" stroke-width="1.5" stroke-linecap="round"/>
<line x1="298.12" y1="451.15" x2="354.43" y2="427.71" stroke="#333" stroke-width="1.5" stroke-linecap="round"/>
<line x1="295.42" y1="443.75" x2="351.73" y2="420.3" stroke="#333" stroke-width="1.5" stroke-linecap="round"/>
<line x1="291.33" y1="437.22" x2="347.65" y2="413.78" stroke="#333" stroke-width="1.5" stroke-linecap="round"/>
<line x1="286.42" y1="432.46" x2="342.73" y2="409.02" stroke="#333" stroke-width="1.5" stroke-linecap="round"/>
<line x1="281.33" y1="430.1" x2="337.64" y2="406.66" stroke="#333" stroke-width="1.5" stroke-linecap="round"/>
<path d="M226.57,459.23 L226.6,457.92 L226.71,456.66 L226.88,455.44 L227.11,454.29 L227.4,453.19 L227.76,452.16 L228.17,451.19 L228.65,450.3 L229.18,449.49 L229.76,448.75 L230.4,448.11 L231.08,447.54 L231.81,447.07 L232.58,446.69 L275.98,428.62 L276.79,428.33 L277.63,428.14 L278.51,428.04 L279.42,428.03 L280.36,428.12 L281.31,428.3 L282.28,428.58 L283.26,428.95 L284.25,429.41 L285.25,429.96 L286.24,430.6 L287.23,431.32 L288.21,432.13 L289.18,433.01 L290.13,433.96 L291.06,434.99 L291.96,436.08 L292.83,437.23 L293.68,438.43 L294.48,439.69 L295.25,440.99 L295.97,442.33 L296.64,443.71 L297.27,445.11 L297.85,446.54 L298.37,447.98 L298.83,449.43 L299.23,450.89 L299.58,452.34 L299.86,453.78 L300.08,455.21 L300.24,456.62 L300.33,458 L300.36,459.35 L300.32,460.65 L300.21,461.92 L300.05,463.13 L299.82,464.29 L299.52,465.39 L299.17,466.42 L298.75,467.38 L298.28,468.27 L297.75,469.09 L297.16,469.82 L296.53,470.47 L295.84,471.03 L295.11,471.51 L294.34,471.89 L250.95,489.95 L250.14,490.24 L249.29,490.44 L248.41,490.54 L247.5,490.54 L246.57,490.45 L245.61,490.27 L244.64,489.99 L243.66,489.62 L242.67,489.16 L241.68,488.61 L240.68,487.97 L239.69,487.25 L238.71,486.45 L237.75,485.57 L236.79,484.61 L235.87,483.59 L234.96,482.5 L234.09,481.35 L233.25,480.14 L232.44,478.88 L231.68,477.58 L230.95,476.24 L230.28,474.86 L229.65,473.46 L229.08,472.03 L228.56,470.59 L228.09,469.14 L227.69,467.69 L227.34,466.23 L227.06,464.79 L226.84,463.36 L226.68,461.95 L226.59,460.58Z" fill="#fff" stroke="none" stroke-linejoin="round" />
<path d="M258.37,488.8 L259.34,488.27 L260.23,487.6 L261.06,486.79 L261.81,485.86 L262.47,484.81 L263.06,483.65 L263.55,482.37 L263.95,481 L264.25,479.53 L264.46,477.98 L264.57,476.35 L264.59,474.66 L264.5,472.92 L264.32,471.13 L264.04,469.31 L263.66,467.46 L263.2,465.61 L262.64,463.76 L262,461.91 L261.27,460.09 L260.47,458.3 L259.59,456.56 L258.64,454.87 L257.63,453.25 L256.56,451.7 L255.45,450.23 L254.29,448.86 L253.09,447.59 L251.87,446.42 L250.62,445.37 L249.36,444.45 L248.09,443.65 L246.83,442.98 L245.57,442.45 L244.32,442.05 L243.1,441.8 L241.92,441.69 L240.77,441.73 L239.66,441.91 L238.61,442.23 L275.56,426.85 L276.81,426.45 L278.23,426.14 L279.77,425.94 L281.4,425.86 L283.1,425.91 L284.85,426.09 L286.63,426.41 L288.43,426.85 L290.23,427.43 L292.01,428.15 L293.75,428.99 L295.44,429.96 L297.07,431.05 L298.62,432.26 L300.07,433.59 L301.42,435.02 L302.66,436.55 L303.77,438.17 L304.75,439.87 L305.58,441.65 L306.28,443.48 L306.82,445.36 L307.22,447.29 L307.46,449.24 L307.55,451.2 L307.49,453.16 L307.28,455.11 L306.94,457.03 L306.46,458.92 L305.85,460.75 L305.12,462.52 L304.29,464.2 L303.35,465.8 L302.34,467.3 L301.25,468.67 L300.1,469.93 L298.91,471.04 L297.7,472 L296.49,472.8 L295.32,473.42Z" fill="#fff" stroke="none" stroke-linejoin="round" />
<path d="M294.68,471.96 L295.79,471.37 L296.94,470.61 L298.1,469.7 L299.24,468.65 L300.35,467.46 L301.4,466.16 L302.39,464.74 L303.29,463.23 L304.11,461.64 L304.82,459.97 L305.42,458.24 L305.9,456.46 L306.25,454.65 L306.47,452.81 L306.55,450.96 L306.48,449.12 L306.27,447.29 L305.91,445.48 L305.41,443.72 L304.76,442 L303.97,440.34 L303.05,438.74 L302,437.23 L300.83,435.8 L299.54,434.47 L298.16,433.24 L296.69,432.11 L295.14,431.1 L293.52,430.2 L291.86,429.43 L290.16,428.77 L288.44,428.24 L286.72,427.84 L285.02,427.56 L283.34,427.4 L281.72,427.37 L280.17,427.45 L278.7,427.65 L277.35,427.95 L276.16,428.33" fill="none" stroke="#000" stroke-width="0.9" stroke-linejoin="round" />
<line x1="250.95" y1="489.95" x2="296.19" y2="471.12" stroke="#000" stroke-width="1.3" stroke-linecap="round"/>
<line x1="232.58" y1="446.69" x2="277.82" y2="427.86" stroke="#000" stroke-width="1.3" stroke-linecap="round"/>
<path d="M247.54,450.85 L262.31,444.71 L257.82,441.19 L243.04,447.33Z" fill="#fff" stroke="#000" stroke-width="0.9" stroke-linejoin="round" />
<line x1="246.99" y1="449.11" x2="260.84" y2="443.35" stroke="#555" stroke-width="0.9" stroke-linecap="round"/>
<path d="M268.31,442.21 L283.08,436.06 L278.59,432.54 L263.82,438.69Z" fill="#fff" stroke="#000" stroke-width="0.9" stroke-linejoin="round" />
<line x1="267.76" y1="440.46" x2="281.61" y2="434.7" stroke="#555" stroke-width="0.9" stroke-linecap="round"/>
<path d="M215.49,463.84 L215.53,462.53 L215.63,461.27 L215.8,460.06 L216.03,458.9 L216.32,457.8 L216.68,456.77 L217.09,455.8 L217.57,454.91 L218.1,454.1 L218.68,453.37 L219.32,452.72 L220,452.15 L220.73,451.68 L221.5,451.3 L233.51,446.3 L234.32,446.01 L235.17,445.82 L236.05,445.71 L236.96,445.71 L237.89,445.8 L238.84,445.98 L239.81,446.26 L240.79,446.63 L241.78,447.09 L242.78,447.64 L243.77,448.28 L244.76,449 L245.74,449.81 L246.71,450.69 L247.66,451.64 L248.59,452.67 L249.49,453.75 L250.37,454.9 L251.21,456.11 L252.01,457.37 L252.78,458.67 L253.5,460.01 L254.18,461.39 L254.8,462.79 L255.38,464.22 L255.9,465.66 L256.36,467.11 L256.77,468.57 L257.11,470.02 L257.39,471.46 L257.62,472.89 L257.77,474.3 L257.86,475.68 L257.89,477.02 L257.85,478.33 L257.75,479.59 L257.58,480.81 L257.35,481.96 L257.05,483.06 L256.7,484.1 L256.28,485.06 L255.81,485.95 L255.28,486.76 L254.69,487.5 L254.06,488.15 L253.37,488.71 L252.64,489.18 L251.87,489.57 L239.87,494.56 L239.06,494.85 L238.21,495.05 L237.33,495.15 L236.42,495.15 L235.49,495.07 L234.53,494.88 L233.56,494.61 L232.58,494.24 L231.59,493.77 L230.6,493.22 L229.6,492.58 L228.61,491.86 L227.63,491.06 L226.67,490.18 L225.72,489.22 L224.79,488.2 L223.88,487.11 L223.01,485.96 L222.17,484.75 L221.36,483.5 L220.6,482.19 L219.88,480.85 L219.2,479.48 L218.57,478.07 L218,476.65 L217.48,475.2 L217.01,473.75 L216.61,472.3 L216.26,470.85 L215.98,469.4 L215.76,467.97 L215.6,466.57 L215.51,465.19Z" fill="#fff" stroke="#000" stroke-width="1.3" stroke-linejoin="round" />
<path d="M239.87,494.56 L240.64,494.18 L241.37,493.71 L242.06,493.14 L242.69,492.49 L243.28,491.76 L243.81,490.95 L244.28,490.06 L244.7,489.09 L245.05,488.06 L245.35,486.96 L245.58,485.8 L245.75,484.59 L245.85,483.33 L245.89,482.02 L245.86,480.67 L245.77,479.29 L245.61,477.89 L245.39,476.46 L245.11,475.01 L244.77,473.56 L244.36,472.11 L243.9,470.66 L243.38,469.21 L242.8,467.79 L242.17,466.38 L241.5,465.01 L240.78,463.67 L240.01,462.36 L239.21,461.11 L238.37,459.9 L237.49,458.75 L236.59,457.66 L235.66,456.64 L234.71,455.68 L233.74,454.8 L232.76,454 L231.77,453.28 L230.78,452.64 L229.78,452.09 L228.79,451.63 L227.81,451.25 L226.84,450.98 L225.89,450.79 L224.95,450.7 L224.04,450.71 L223.16,450.81 L222.32,451.01 L221.51,451.3 L220.73,451.68 L220,452.15 L219.32,452.72 L218.68,453.37 L218.1,454.1 L217.57,454.91 L217.09,455.8 L216.68,456.77 L216.32,457.8 L216.03,458.9 L215.8,460.06 L215.63,461.27 L215.53,462.53 L215.49,463.84 L215.51,465.19 L215.61,466.57 L215.76,467.97 L215.98,469.4 L216.26,470.85 L216.61,472.3 L217.01,473.75 L217.48,475.2 L218,476.65 L218.57,478.07 L219.2,479.48 L219.88,480.85 L220.6,482.19 L221.36,483.5 L222.17,484.75 L223.01,485.96 L223.88,487.11 L224.79,488.2 L225.72,489.22 L226.67,490.18 L227.63,491.06 L228.61,491.86 L229.6,492.58 L230.6,493.22 L231.59,493.77 L232.58,494.23 L233.56,494.61 L234.53,494.88 L235.49,495.07 L236.42,495.16 L237.33,495.15 L238.21,495.05 L239.06,494.85 L239.87,494.56Z" fill="#fff" stroke="#000" stroke-width="1.3" stroke-linejoin="round" />
<path d="M245,492.17 L245.36,491.97 L245.71,491.74 L246.05,491.49 L246.38,491.23 L246.7,490.94 L247,490.63 L247.3,490.3 L247.58,489.95 L247.85,489.59 L248.11,489.2 L248.35,488.8 L248.59,488.38 L248.81,487.94 L249.01,487.48 L249.2,487.01 L249.38,486.52 L249.54,486.02 L249.69,485.5 L249.83,484.96 L249.95,484.42 L250.05,483.85 L250.14,483.28 L250.22,482.69 L250.28,482.1 L250.33,481.49 L250.36,480.87 L250.37,480.24 L250.37,479.6 L250.36,478.95 L250.33,478.3 L250.28,477.63 L250.22,476.96 L250.15,476.29 L250.06,475.61 L249.95,474.92 L249.84,474.23 L249.7,473.54 L249.55,472.85 L249.39,472.15 L249.21,471.45 L249.02,470.75 L248.82,470.05 L248.6,469.36 L248.37,468.66 L248.12,467.97 L247.87,467.28 L247.6,466.59 L247.31,465.91 L247.02,465.23 L246.71,464.56 L246.4,463.9 L246.07,463.24 L245.73,462.59 L245.38,461.95 L245.02,461.32 L244.65,460.69 L244.27,460.08 L243.88,459.48 L243.48,458.89 L243.08,458.31 L242.67,457.75 L242.24,457.2 L241.82,456.66 L241.38,456.14 L240.94,455.63 L240.5,455.14 L240.05,454.66 L239.59,454.2 L239.13,453.76 L238.67,453.33 L238.2,452.92 L237.73,452.53 L237.26,452.16 L236.78,451.81 L236.31,451.47 L235.83,451.16 L235.35,450.87 L234.88,450.59 L234.4,450.34 L233.92,450.11 L233.45,449.9 L232.98,449.7 L232.51,449.54 L232.04,449.39 L231.57,449.26 L231.11,449.16 L230.66,449.08 L230.2,449.02 L229.76,448.98 L229.32,448.96 L228.88,448.97 L228.45,449 L228.03,449.05 L227.62,449.12 L227.21,449.22 L226.81,449.33" fill="none" stroke="#000" stroke-width="0.8" stroke-linejoin="round" />
<path d="M247.77,491.02 L248.13,490.82 L248.48,490.59 L248.82,490.34 L249.15,490.07 L249.47,489.78 L249.77,489.48 L250.07,489.15 L250.35,488.8 L250.62,488.43 L250.88,488.05 L251.12,487.64 L251.36,487.22 L251.58,486.78 L251.78,486.33 L251.97,485.86 L252.15,485.37 L252.31,484.86 L252.46,484.34 L252.6,483.81 L252.72,483.26 L252.82,482.7 L252.91,482.13 L252.99,481.54 L253.05,480.94 L253.1,480.33 L253.13,479.71 L253.14,479.09 L253.14,478.45 L253.13,477.8 L253.1,477.14 L253.05,476.48 L252.99,475.81 L252.92,475.14 L252.83,474.46 L252.72,473.77 L252.6,473.08 L252.47,472.39 L252.32,471.69 L252.16,471 L251.98,470.3 L251.79,469.6 L251.59,468.9 L251.37,468.2 L251.14,467.51 L250.89,466.82 L250.64,466.13 L250.37,465.44 L250.08,464.76 L249.79,464.08 L249.48,463.41 L249.17,462.74 L248.84,462.09 L248.5,461.44 L248.15,460.8 L247.79,460.16 L247.42,459.54 L247.04,458.93 L246.65,458.33 L246.25,457.74 L245.85,457.16 L245.43,456.6 L245.01,456.05 L244.59,455.51 L244.15,454.99 L243.71,454.48 L243.27,453.98 L242.82,453.51 L242.36,453.05 L241.9,452.6 L241.44,452.18 L240.97,451.77 L240.5,451.38 L240.03,451.01 L239.55,450.65 L239.08,450.32 L238.6,450.01 L238.12,449.71 L237.65,449.44 L237.17,449.19 L236.69,448.95 L236.22,448.74 L235.75,448.55 L235.28,448.38 L234.81,448.24 L234.34,448.11 L233.88,448.01 L233.43,447.92 L232.97,447.86 L232.53,447.83 L232.09,447.81 L231.65,447.82 L231.22,447.85 L230.8,447.9 L230.39,447.97 L229.98,448.06 L229.58,448.18" fill="none" stroke="#000" stroke-width="0.8" stroke-linejoin="round" />
<path d="M250.07,490.06 L250.43,489.85 L250.79,489.63 L251.13,489.38 L251.46,489.11 L251.77,488.82 L252.08,488.51 L252.38,488.19 L252.66,487.84 L252.93,487.47 L253.19,487.09 L253.43,486.68 L253.66,486.26 L253.88,485.82 L254.09,485.37 L254.28,484.89 L254.46,484.41 L254.62,483.9 L254.77,483.38 L254.91,482.85 L255.03,482.3 L255.13,481.74 L255.22,481.17 L255.3,480.58 L255.36,479.98 L255.4,479.37 L255.43,478.75 L255.45,478.12 L255.45,477.49 L255.44,476.84 L255.41,476.18 L255.36,475.52 L255.3,474.85 L255.23,474.18 L255.14,473.49 L255.03,472.81 L254.91,472.12 L254.78,471.43 L254.63,470.73 L254.47,470.04 L254.29,469.34 L254.1,468.64 L253.9,467.94 L253.68,467.24 L253.45,466.55 L253.2,465.85 L252.94,465.16 L252.67,464.48 L252.39,463.8 L252.1,463.12 L251.79,462.45 L251.47,461.78 L251.14,461.13 L250.81,460.48 L250.46,459.84 L250.1,459.2 L249.73,458.58 L249.35,457.97 L248.96,457.37 L248.56,456.78 L248.16,456.2 L247.74,455.64 L247.32,455.09 L246.9,454.55 L246.46,454.02 L246.02,453.52 L245.58,453.02 L245.13,452.55 L244.67,452.09 L244.21,451.64 L243.75,451.22 L243.28,450.81 L242.81,450.42 L242.34,450.05 L241.86,449.69 L241.39,449.36 L240.91,449.05 L240.43,448.75 L239.95,448.48 L239.48,448.23 L239,447.99 L238.53,447.78 L238.05,447.59 L237.58,447.42 L237.12,447.27 L236.65,447.15 L236.19,447.05 L235.73,446.96 L235.28,446.9 L234.84,446.87 L234.39,446.85 L233.96,446.86 L233.53,446.88 L233.11,446.94 L232.69,447.01 L232.29,447.1 L231.89,447.22" fill="none" stroke="#000" stroke-width="0.8" stroke-linejoin="round" />
<path d="M210.37,468.27 L210.4,467.16 L210.49,466.08 L210.63,465.05 L210.83,464.06 L211.08,463.13 L211.38,462.25 L211.73,461.43 L212.14,460.67 L212.59,459.98 L213.09,459.35 L213.63,458.8 L214.21,458.32 L214.83,457.92 L215.49,457.59 L222.87,454.52 L223.56,454.27 L224.28,454.11 L225.03,454.02 L225.81,454.01 L226.6,454.09 L227.41,454.25 L228.24,454.48 L229.07,454.8 L229.92,455.19 L230.76,455.66 L231.61,456.2 L232.45,456.82 L233.29,457.5 L234.11,458.25 L234.92,459.06 L235.71,459.94 L236.48,460.86 L237.22,461.84 L237.94,462.87 L238.62,463.94 L239.27,465.05 L239.89,466.19 L240.46,467.36 L241,468.55 L241.49,469.77 L241.93,470.99 L242.32,472.23 L242.67,473.47 L242.96,474.7 L243.2,475.93 L243.39,477.15 L243.52,478.35 L243.6,479.52 L243.62,480.67 L243.59,481.78 L243.5,482.85 L243.36,483.89 L243.16,484.87 L242.91,485.81 L242.61,486.69 L242.26,487.51 L241.85,488.26 L241.4,488.96 L240.9,489.58 L240.36,490.13 L239.78,490.61 L239.16,491.01 L238.5,491.34 L231.12,494.41 L230.43,494.66 L229.7,494.83 L228.96,494.91 L228.18,494.92 L227.39,494.84 L226.58,494.69 L225.75,494.45 L224.91,494.14 L224.07,493.74 L223.22,493.27 L222.38,492.73 L221.54,492.12 L220.7,491.43 L219.88,490.68 L219.07,489.87 L218.28,489 L217.51,488.07 L216.77,487.09 L216.05,486.07 L215.37,485 L214.72,483.89 L214.1,482.75 L213.53,481.57 L212.99,480.38 L212.5,479.17 L212.06,477.94 L211.67,476.7 L211.32,475.47 L211.03,474.23 L210.79,473 L210.6,471.79 L210.47,470.59 L210.39,469.42Z" fill="#fff" stroke="#000" stroke-width="1.1" stroke-linejoin="round" />
<path d="M231.12,494.41 L231.77,494.09 L232.4,493.69 L232.98,493.21 L233.52,492.65 L234.02,492.03 L234.47,491.34 L234.87,490.58 L235.22,489.76 L235.53,488.88 L235.78,487.95 L235.97,486.96 L236.12,485.93 L236.21,484.85 L236.24,483.74 L236.22,482.59 L236.14,481.42 L236,480.22 L235.82,479.01 L235.58,477.78 L235.28,476.54 L234.94,475.3 L234.54,474.07 L234.1,472.84 L233.61,471.63 L233.08,470.43 L232.5,469.26 L231.89,468.12 L231.24,467.01 L230.55,465.94 L229.84,464.92 L229.09,463.94 L228.32,463.01 L227.53,462.14 L226.72,461.32 L225.9,460.58 L225.07,459.89 L224.22,459.28 L223.38,458.73 L222.53,458.27 L221.69,457.87 L220.85,457.56 L220.03,457.32 L219.22,457.16 L218.42,457.09 L217.65,457.09 L216.9,457.18 L216.18,457.35 L215.49,457.59 L214.83,457.92 L214.21,458.32 L213.63,458.8 L213.09,459.35 L212.59,459.98 L212.14,460.67 L211.73,461.43 L211.38,462.25 L211.08,463.13 L210.83,464.06 L210.63,465.05 L210.49,466.08 L210.4,467.16 L210.37,468.27 L210.39,469.41 L210.47,470.59 L210.6,471.79 L210.79,473 L211.03,474.23 L211.32,475.47 L211.67,476.7 L212.06,477.94 L212.5,479.17 L212.99,480.38 L213.53,481.58 L214.1,482.75 L214.71,483.89 L215.37,485 L216.05,486.07 L216.77,487.09 L217.51,488.07 L218.28,489 L219.07,489.87 L219.88,490.68 L220.7,491.43 L221.54,492.12 L222.38,492.73 L223.23,493.27 L224.07,493.74 L224.91,494.14 L225.75,494.45 L226.58,494.69 L227.39,494.84 L228.18,494.92 L228.95,494.91 L229.7,494.83 L230.43,494.66 L231.12,494.41Z" fill="#fff" stroke="#000" stroke-width="1.1" stroke-linejoin="round" />
<path d="M200.63,474.62 L200.65,473.7 L200.73,472.81 L200.84,471.96 L201.01,471.15 L201.21,470.38 L201.46,469.65 L201.76,468.98 L202.09,468.35 L202.46,467.78 L202.87,467.26 L203.32,466.81 L203.8,466.41 L204.31,466.08 L204.85,465.81 L216.85,460.82 L217.43,460.61 L218.02,460.48 L218.64,460.4 L219.28,460.4 L219.93,460.46 L220.6,460.59 L221.28,460.79 L221.97,461.05 L222.67,461.37 L223.37,461.76 L224.06,462.2 L224.76,462.71 L225.45,463.27 L226.12,463.89 L226.79,464.56 L227.44,465.28 L228.08,466.05 L228.69,466.86 L229.28,467.7 L229.85,468.59 L230.39,469.5 L230.89,470.44 L231.37,471.41 L231.81,472.39 L232.21,473.39 L232.58,474.41 L232.9,475.43 L233.19,476.45 L233.43,477.47 L233.63,478.48 L233.78,479.48 L233.89,480.47 L233.96,481.44 L233.97,482.39 L233.95,483.3 L233.88,484.19 L233.76,485.04 L233.59,485.86 L233.39,486.63 L233.14,487.35 L232.85,488.03 L232.51,488.65 L232.14,489.23 L231.73,489.74 L231.28,490.2 L230.8,490.59 L230.29,490.92 L229.75,491.19 L217.75,496.19 L217.18,496.39 L216.58,496.53 L215.96,496.6 L215.33,496.61 L214.67,496.54 L214,496.41 L213.32,496.22 L212.63,495.96 L211.94,495.63 L211.24,495.25 L210.54,494.8 L209.84,494.29 L209.16,493.73 L208.48,493.11 L207.81,492.44 L207.16,491.72 L206.52,490.96 L205.91,490.15 L205.32,489.3 L204.75,488.42 L204.22,487.5 L203.71,486.56 L203.23,485.6 L202.79,484.61 L202.39,483.61 L202.03,482.6 L201.7,481.58 L201.42,480.56 L201.17,479.54 L200.97,478.52 L200.82,477.52 L200.71,476.53 L200.65,475.56Z" fill="#fff" stroke="#000" stroke-width="1.1" stroke-linejoin="round" />
<path d="M217.75,496.19 L218.29,495.92 L218.8,495.59 L219.28,495.19 L219.73,494.74 L220.14,494.22 L220.51,493.65 L220.84,493.03 L221.14,492.35 L221.39,491.62 L221.59,490.85 L221.76,490.04 L221.87,489.19 L221.95,488.3 L221.97,487.38 L221.95,486.44 L221.89,485.47 L221.78,484.48 L221.63,483.48 L221.43,482.46 L221.18,481.44 L220.9,480.42 L220.57,479.4 L220.21,478.39 L219.81,477.39 L219.37,476.4 L218.89,475.44 L218.38,474.5 L217.85,473.58 L217.28,472.7 L216.69,471.85 L216.08,471.04 L215.44,470.28 L214.79,469.56 L214.12,468.89 L213.44,468.27 L212.76,467.71 L212.06,467.2 L211.36,466.75 L210.66,466.37 L209.97,466.04 L209.28,465.78 L208.6,465.59 L207.93,465.46 L207.27,465.39 L206.64,465.4 L206.02,465.47 L205.42,465.61 L204.85,465.81 L204.31,466.08 L203.8,466.41 L203.32,466.81 L202.87,467.26 L202.46,467.78 L202.09,468.35 L201.76,468.97 L201.46,469.65 L201.21,470.38 L201.01,471.15 L200.84,471.96 L200.73,472.81 L200.65,473.7 L200.63,474.62 L200.65,475.56 L200.71,476.53 L200.82,477.52 L200.97,478.52 L201.17,479.54 L201.42,480.56 L201.7,481.58 L202.03,482.6 L202.39,483.61 L202.79,484.61 L203.23,485.6 L203.71,486.56 L204.22,487.5 L204.75,488.42 L205.32,489.3 L205.91,490.15 L206.52,490.96 L207.16,491.72 L207.81,492.44 L208.48,493.11 L209.16,493.73 L209.84,494.29 L210.54,494.8 L211.24,495.25 L211.94,495.63 L212.63,495.96 L213.32,496.22 L214,496.41 L214.67,496.54 L215.33,496.61 L215.96,496.6 L216.58,496.53 L217.18,496.39 L217.75,496.19Z" fill="#fff" stroke="#000" stroke-width="1.1" stroke-linejoin="round" />
<path d="M217.16,494.81 L217.65,494.56 L218.12,494.26 L218.56,493.9 L218.96,493.49 L219.34,493.02 L219.67,492.5 L219.98,491.93 L220.24,491.32 L220.47,490.66 L220.66,489.96 L220.8,489.22 L220.91,488.44 L220.98,487.64 L221,486.8 L220.99,485.94 L220.93,485.06 L220.83,484.16 L220.69,483.25 L220.51,482.33 L220.29,481.4 L220.03,480.47 L219.73,479.55 L219.4,478.63 L219.03,477.72 L218.63,476.82 L218.2,475.94 L217.74,475.09 L217.25,474.26 L216.74,473.45 L216.2,472.68 L215.64,471.95 L215.07,471.25 L214.47,470.6 L213.87,469.99 L213.25,469.43 L212.62,468.92 L211.99,468.45 L211.36,468.05 L210.72,467.7 L210.09,467.4 L209.46,467.16 L208.84,466.99 L208.24,466.87 L207.64,466.81 L207.06,466.82 L206.5,466.88 L205.96,467.01 L205.44,467.19 L204.95,467.44 L204.48,467.74 L204.04,468.1 L203.64,468.51 L203.26,468.98 L202.93,469.5 L202.62,470.07 L202.36,470.68 L202.13,471.34 L201.94,472.04 L201.8,472.78 L201.69,473.56 L201.62,474.36 L201.6,475.2 L201.61,476.06 L201.67,476.94 L201.77,477.84 L201.91,478.75 L202.09,479.67 L202.31,480.6 L202.57,481.53 L202.87,482.45 L203.2,483.37 L203.57,484.28 L203.97,485.18 L204.4,486.06 L204.86,486.91 L205.35,487.74 L205.86,488.55 L206.4,489.32 L206.96,490.05 L207.53,490.75 L208.13,491.4 L208.73,492.01 L209.35,492.57 L209.98,493.08 L210.61,493.55 L211.24,493.95 L211.88,494.3 L212.51,494.6 L213.14,494.84 L213.76,495.01 L214.36,495.13 L214.96,495.19 L215.54,495.18 L216.1,495.12 L216.64,494.99 L217.16,494.81Z" fill="none" stroke="#000" stroke-width="0.7" stroke-linejoin="round" />
<line x1="211.3" y1="481" x2="134.01" y2="514.1" stroke="#000" stroke-width="0.9" stroke-linecap="round"/>
<path d="M170.28,527.76 L171.82,535.21 L176.51,536.14 L176.04,528.91 L177.39,528.68 L180.67,535.92 L184.81,534.48 L182.44,526.92 L183.56,526.12 L188.17,532.08 L191.16,528.42 L187.21,521.65 L188,520.35 L193.24,524.18 L194.7,518.84 L189.79,513.8 L190.19,512.11 L195.28,513.42 L195.1,507.22 L189.96,504.44 L189.92,502.51 L194.23,501.41 L192.59,495.2 L187.88,494.72 L187.41,492.77 L190.54,489.73 L187.82,484.22 L183.96,485.76 L183.15,483.98 L184.97,479.62 L181.61,475.25 L178.82,478.35 L177.77,476.91 L178.35,471.83 L174.74,468.8 L173.08,472.96 L171.92,471.97 L171.41,466.63 L167.86,464.95 L167.26,469.75 L166.12,469.23 L164.69,463.99 L161.4,463.56 L161.77,468.66 L160.72,468.6 L158.53,463.7 L155.63,464.4 L156.87,469.53 L155.97,469.9 L153.17,465.53 L150.74,467.27 L152.75,472.21 L152.05,472.98 L148.75,469.33 L146.89,472.04 L149.59,476.57 L149.14,477.7 L145.47,474.97 L144.28,478.6 L147.58,482.51 L147.44,483.95 L143.55,482.36 L143.18,486.85 L146.97,489.83 L147.19,491.5 L143.29,491.33 L143.91,496.49 L148,498.22 L148.61,499.98 L144.99,501.46 L146.74,506.98 L150.86,507.08 L151.82,508.75 L148.89,512.08 L151.79,517.45 L155.52,515.58 L156.78,516.97 L154.97,522.12 L158.89,526.68 L161.71,522.69 L163.14,523.63 L162.88,530.27 L167.46,533.32 L168.83,527.39Z" fill="#fff" stroke="#000" stroke-width="0.75" stroke-linejoin="round" />
<path d="M124.45,499.09 L124.51,497.26 L124.67,495.48 L124.91,493.75 L125.25,492.1 L125.68,490.51 L126.19,489.01 L126.79,487.6 L127.47,486.27 L128.23,485.05 L129.07,483.93 L129.98,482.91 L130.96,482.01 L132,481.23 L133.1,480.57 L134.26,480.02 L156.95,470.87 L158.14,470.4 L159.38,470.06 L160.66,469.85 L161.97,469.76 L163.32,469.8 L164.69,469.97 L166.08,470.27 L167.49,470.7 L168.9,471.25 L170.32,471.93 L171.72,472.72 L173.12,473.63 L174.51,474.65 L175.87,475.78 L177.2,477.01 L178.5,478.35 L179.75,479.77 L180.97,481.28 L182.13,482.87 L183.24,484.53 L184.28,486.26 L185.26,488.04 L186.18,489.88 L187.02,491.76 L187.79,493.67 L188.47,495.61 L189.08,497.57 L189.6,499.54 L190.03,501.51 L190.37,503.47 L190.62,505.42 L190.78,507.34 L190.85,509.23 L190.83,511.08 L190.71,512.89 L190.5,514.64 L190.2,516.32 L189.81,517.93 L189.34,519.47 L188.77,520.92 L188.13,522.29 L187.4,523.55 L186.59,524.72 L185.71,525.78 L184.76,526.72 L183.75,527.56 L182.67,528.27 L181.53,528.86 L157.86,538.44 L156.65,538.85 L155.4,539.14 L154.1,539.3 L152.77,539.34 L151.41,539.24 L150.03,539.01 L148.64,538.66 L147.23,538.18 L145.81,537.58 L144.4,536.86 L143,536.01 L141.6,535.06 L140.23,533.99 L138.88,532.82 L137.56,531.54 L136.28,530.17 L135.04,528.71 L133.85,527.17 L132.71,525.55 L131.62,523.86 L130.6,522.11 L129.65,520.3 L128.76,518.44 L127.95,516.55 L127.22,514.62 L126.57,512.67 L126,510.71 L125.52,508.74 L125.12,506.77 L124.82,504.81 L124.6,502.88 L124.48,500.96Z" fill="#fff" stroke="none" stroke-linejoin="round" />
<path d="M123.0,482.8L124.6,479.9L153.2,465.5L156.0,469.9L152.8,472.2L125.8,487.2Z" fill="#fff" stroke="#000" stroke-width="0.75" stroke-linejoin="round"/>
<path d="M124.6,479.9L153.2,465.5" fill="none" stroke="#000" stroke-width="0.6000000000000001"/>
<path d="M123.0,482.8L150.7,467.3" fill="none" stroke="#000" stroke-width="0.6000000000000001"/>
<path d="M153.2,538.3L170.3,527.8L176.0,528.9L176.5,536.1L160.4,544.4L156.2,545.5Z" fill="#fff" stroke="#000" stroke-width="0.75" stroke-linejoin="round"/>
<path d="M156.2,545.5L171.8,535.2" fill="none" stroke="#000" stroke-width="0.6000000000000001"/>
<path d="M160.4,544.4L176.5,536.1" fill="none" stroke="#000" stroke-width="0.6000000000000001"/>
<path d="M126.5,477.7L128.8,475.7L155.6,464.4L158.5,463.7L160.7,468.6L128.7,482.5Z" fill="#fff" stroke="#000" stroke-width="0.75" stroke-linejoin="round"/>
<path d="M159.5,536.1L163.4,532.1L182.4,526.9L184.8,534.5L163.9,542.4Z" fill="#fff" stroke="#000" stroke-width="0.75" stroke-linejoin="round"/>
<path d="M163.9,542.4L180.7,535.9" fill="none" stroke="#000" stroke-width="0.6000000000000001"/>
<path d="M167.1,539.0L184.8,534.5" fill="none" stroke="#000" stroke-width="0.6000000000000001"/>
<path d="M131.2,474.3L161.4,463.6L164.7,464.0L166.1,469.2L132.7,479.5Z" fill="#fff" stroke="#000" stroke-width="0.75" stroke-linejoin="round"/>
<path d="M137.1,472.9L167.9,465.0L171.4,466.6L171.9,472.0L142.1,478.6L137.6,478.3Z" fill="#fff" stroke="#000" stroke-width="0.75" stroke-linejoin="round"/>
<path d="M164.2,530.8L166.3,524.4L187.2,521.6L191.2,528.4L188.2,532.1L169.4,535.0Z" fill="#fff" stroke="#000" stroke-width="0.75" stroke-linejoin="round"/>
<path d="M169.4,535.0L188.2,532.1" fill="none" stroke="#000" stroke-width="0.6000000000000001"/>
<path d="M171.2,529.9L191.2,528.4" fill="none" stroke="#000" stroke-width="0.6000000000000001"/>
<path d="M143.3,479.1L143.8,474.0L174.7,468.8L178.4,471.8L177.8,476.9L148.2,481.2Z" fill="#fff" stroke="#000" stroke-width="0.75" stroke-linejoin="round"/>
<path d="M166.7,522.7L166.7,515.0L189.8,513.8L194.7,518.8L193.2,524.2L172.0,524.5Z" fill="#fff" stroke="#000" stroke-width="0.75" stroke-linejoin="round"/>
<path d="M172.0,524.5L193.2,524.2" fill="none" stroke="#000" stroke-width="0.6000000000000001"/>
<path d="M172.0,518.2L194.7,518.8" fill="none" stroke="#000" stroke-width="0.6000000000000001"/>
<path d="M149.4,482.3L151.1,477.8L181.6,475.3L185.0,479.6L183.1,484.0L154.4,486.4Z" fill="#fff" stroke="#000" stroke-width="0.75" stroke-linejoin="round"/>
<path d="M164.8,505.0L190.0,504.4L195.1,507.2L195.3,513.4L166.7,513.1Z" fill="#fff" stroke="#000" stroke-width="0.75" stroke-linejoin="round"/>
<path d="M171.3,512.2L195.3,513.4" fill="none" stroke="#000" stroke-width="0.6000000000000001"/>
<path d="M169.8,505.7L195.1,507.2" fill="none" stroke="#000" stroke-width="0.6000000000000001"/>
<path d="M155.5,487.9L158.4,484.6L187.8,484.2L190.5,489.7L187.4,492.8L160.0,493.8Z" fill="#fff" stroke="#000" stroke-width="0.75" stroke-linejoin="round"/>
<path d="M162.0,489.2L190.5,489.7" fill="none" stroke="#000" stroke-width="0.6000000000000001"/>
<path d="M158.4,484.6L187.8,484.2" fill="none" stroke="#000" stroke-width="0.6000000000000001"/>
<path d="M160.8,495.7L164.9,494.1L187.9,494.7L192.6,495.2L194.2,501.4L189.9,502.5L164.3,503.0Z" fill="#fff" stroke="#000" stroke-width="0.75" stroke-linejoin="round"/>
<path d="M167.7,500.0L194.2,501.4" fill="none" stroke="#000" stroke-width="0.6000000000000001"/>
<path d="M164.9,494.1L192.6,495.2" fill="none" stroke="#000" stroke-width="0.6000000000000001"/>
<path d="M153.21,538.27 L156.19,545.47 L160.41,544.42 L158.38,536.97 L159.48,536.15 L163.9,542.37 L167.12,539.05 L163.4,532.09 L164.17,530.76 L169.44,535.05 L171.18,529.87 L166.29,524.44 L166.67,522.72 L172,524.48 L172.05,518.21 L166.73,515.02 L166.68,513.06 L171.33,512.22 L169.78,505.75 L164.77,505.04 L164.3,503.02 L167.73,499.98 L164.95,494.13 L160.81,495.68 L159.97,493.81 L161.96,489.24 L158.41,484.59 L155.46,487.9 L154.36,486.38 L154.94,480.98 L151.09,477.82 L149.41,482.31 L148.19,481.25 L147.54,475.62 L143.79,473.99 L143.3,479.12 L142.09,478.57 L140.46,473.15 L137.05,472.92 L137.62,478.26 L136.52,478.21 L134.13,473.28 L131.22,474.26 L132.68,479.49 L131.77,479.89 L128.81,475.65 L126.49,477.66 L128.7,482.55 L128.01,483.33 L124.64,479.93 L122.96,482.82 L125.78,487.17 L125.36,488.29 L121.72,485.87 L120.74,489.54 L124.06,493.16 L123.94,494.55 L120.19,493.26 L119.99,497.62 L123.68,500.31 L123.89,501.89 L120.21,501.92 L120.9,506.81 L124.8,508.32 L125.36,509.99 L121.99,511.5 L123.68,516.69 L127.57,516.74 L128.48,518.33 L125.72,521.48 L128.45,526.56 L131.99,524.87 L133.19,526.21 L131.43,531.01 L135.12,535.42 L137.88,531.82 L139.27,532.74 L138.88,538.98 L143.25,542.09 L144.76,536.65 L146.19,537.01 L147.45,544.15 L152.05,545.37 L151.88,538.51Z" fill="#fff" stroke="#000" stroke-width="1.3" stroke-linejoin="round" />
<path d="M109.72,505.94 L109.78,504.19 L109.92,502.5 L110.16,500.86 L110.48,499.28 L110.89,497.77 L111.38,496.34 L111.94,495 L112.59,493.74 L113.32,492.57 L114.11,491.5 L114.98,490.54 L115.91,489.68 L116.91,488.93 L117.96,488.3 L119.06,487.78 L136.68,480.67 L137.83,480.27 L139.03,480 L140.26,479.84 L141.53,479.81 L142.82,479.9 L144.13,480.12 L145.47,480.45 L146.81,480.91 L148.15,481.48 L149.5,482.17 L150.84,482.98 L152.16,483.89 L153.47,484.9 L154.76,486.02 L156.01,487.24 L157.23,488.54 L158.41,489.93 L159.55,491.4 L160.63,492.94 L161.67,494.55 L162.64,496.22 L163.55,497.94 L164.39,499.71 L165.16,501.51 L165.86,503.35 L166.48,505.2 L167.02,507.07 L167.48,508.95 L167.86,510.83 L168.15,512.69 L168.35,514.54 L168.47,516.36 L168.5,518.14 L168.44,519.89 L168.29,521.58 L168.06,523.22 L167.74,524.8 L167.33,526.31 L166.84,527.74 L166.27,529.09 L165.62,530.35 L164.9,531.51 L164.1,532.58 L163.24,533.55 L162.3,534.4 L161.31,535.15 L160.26,535.78 L159.16,536.3 L141.54,543.42 L140.39,543.81 L139.19,544.09 L137.96,544.24 L136.69,544.27 L135.4,544.18 L134.08,543.97 L132.75,543.63 L131.41,543.17 L130.06,542.6 L128.72,541.91 L127.38,541.11 L126.05,540.2 L124.74,539.18 L123.46,538.06 L122.2,536.85 L120.98,535.54 L119.8,534.15 L118.67,532.68 L117.58,531.14 L116.55,529.53 L115.58,527.86 L114.67,526.14 L113.83,524.37 L113.05,522.57 L112.36,520.73 L111.73,518.88 L111.19,517.01 L110.73,515.13 L110.36,513.26 L110.07,511.39 L109.86,509.55 L109.75,507.73Z" fill="#fff" stroke="#000" stroke-width="1.3" stroke-linejoin="round" />
<path d="M141.54,543.42 L142.64,542.9 L143.69,542.27 L144.69,541.52 L145.62,540.66 L146.49,539.7 L147.28,538.63 L148.01,537.47 L148.66,536.21 L149.23,534.86 L149.71,533.43 L150.12,531.92 L150.44,530.34 L150.68,528.7 L150.82,527.01 L150.88,525.26 L150.85,523.47 L150.74,521.65 L150.53,519.81 L150.24,517.94 L149.87,516.07 L149.41,514.19 L148.86,512.32 L148.24,510.47 L147.55,508.63 L146.77,506.83 L145.93,505.06 L145.02,503.34 L144.05,501.67 L143.02,500.06 L141.93,498.52 L140.8,497.05 L139.62,495.66 L138.4,494.35 L137.14,493.14 L135.86,492.02 L134.55,491 L133.22,490.09 L131.88,489.29 L130.54,488.6 L129.19,488.03 L127.85,487.57 L126.52,487.24 L125.2,487.02 L123.91,486.93 L122.64,486.96 L121.41,487.11 L120.21,487.39 L119.06,487.78 L117.96,488.3 L116.91,488.93 L115.91,489.68 L114.98,490.54 L114.11,491.5 L113.32,492.57 L112.59,493.73 L111.94,494.99 L111.37,496.34 L110.89,497.77 L110.48,499.28 L110.16,500.86 L109.92,502.5 L109.78,504.19 L109.72,505.94 L109.75,507.73 L109.86,509.55 L110.07,511.39 L110.36,513.26 L110.73,515.13 L111.19,517.01 L111.74,518.88 L112.36,520.73 L113.05,522.57 L113.83,524.37 L114.67,526.14 L115.58,527.86 L116.55,529.53 L117.58,531.14 L118.67,532.68 L119.8,534.15 L120.98,535.54 L122.2,536.85 L123.46,538.06 L124.74,539.18 L126.05,540.2 L127.38,541.11 L128.72,541.91 L130.06,542.6 L131.41,543.17 L132.75,543.63 L134.08,543.96 L135.4,544.18 L136.69,544.27 L137.96,544.24 L139.19,544.09 L140.39,543.81 L141.54,543.42Z" fill="#fff" stroke="#000" stroke-width="1.3" stroke-linejoin="round" />
<path d="M140.86,541.75 L141.9,541.26 L142.89,540.67 L143.82,539.97 L144.7,539.16 L145.51,538.25 L146.26,537.25 L146.94,536.15 L147.55,534.97 L148.09,533.7 L148.55,532.36 L148.93,530.94 L149.23,529.46 L149.45,527.92 L149.59,526.32 L149.65,524.68 L149.62,523 L149.51,521.29 L149.32,519.55 L149.05,517.8 L148.69,516.04 L148.26,514.28 L147.75,512.52 L147.17,510.77 L146.51,509.05 L145.79,507.35 L144.99,505.69 L144.14,504.08 L143.22,502.51 L142.25,500.99 L141.23,499.54 L140.17,498.16 L139.06,496.85 L137.91,495.63 L136.73,494.49 L135.52,493.44 L134.29,492.48 L133.05,491.62 L131.79,490.87 L130.52,490.22 L129.26,489.68 L128,489.25 L126.74,488.94 L125.51,488.74 L124.29,488.65 L123.1,488.68 L121.94,488.82 L120.82,489.08 L119.74,489.45 L118.7,489.94 L117.71,490.53 L116.78,491.23 L115.9,492.04 L115.09,492.95 L114.34,493.95 L113.66,495.05 L113.05,496.23 L112.51,497.5 L112.05,498.84 L111.67,500.26 L111.37,501.74 L111.15,503.28 L111.01,504.88 L110.95,506.52 L110.98,508.2 L111.09,509.91 L111.28,511.65 L111.55,513.4 L111.91,515.16 L112.34,516.92 L112.85,518.68 L113.43,520.43 L114.09,522.15 L114.81,523.85 L115.61,525.51 L116.46,527.12 L117.38,528.69 L118.35,530.21 L119.37,531.66 L120.43,533.04 L121.54,534.35 L122.69,535.57 L123.87,536.71 L125.08,537.76 L126.31,538.72 L127.55,539.58 L128.81,540.33 L130.08,540.98 L131.34,541.52 L132.6,541.95 L133.86,542.26 L135.09,542.46 L136.31,542.55 L137.5,542.52 L138.66,542.38 L139.78,542.12 L140.86,541.75Z" fill="#fff" stroke="#000" stroke-width="0.9" stroke-linejoin="round" />
<path d="M139.73,539.29 L138.61,534.88 L140.02,534.02 L142.68,537.5 L143.5,536.72 L141.59,532.52 L142.62,531.03 L145.66,533.61 L146.2,532.44 L143.65,528.79 L144.23,526.79 L147.4,528.25 L147.61,526.79 L144.64,523.99 L144.7,521.64 L147.75,521.87 L147.62,520.24 L144.46,518.52 L144.01,516 L146.69,514.98 L146.23,513.31 L143.13,512.8 L142.21,510.33 L144.3,508.14 L143.55,506.57 L140.77,507.32 L139.45,505.09 L140.78,501.9 L139.79,500.55 L137.56,502.5 L135.94,500.7 L136.4,496.78 L135.27,495.76 L133.75,498.75 L131.97,497.51 L131.54,493.18 L130.34,492.58 L129.67,496.36 L127.87,495.79 L126.57,491.39 L125.41,491.26 L125.64,495.53 L123.97,495.68 L121.9,491.57 L120.87,491.91 L121.99,496.32 L120.58,497.18 L117.92,493.7 L117.1,494.48 L119.01,498.68 L117.98,500.17 L114.94,497.59 L114.4,498.76 L116.95,502.41 L116.37,504.41 L113.2,502.95 L112.99,504.41 L115.96,507.21 L115.9,509.56 L112.85,509.33 L112.98,510.96 L116.14,512.68 L116.59,515.2 L113.91,516.22 L114.37,517.89 L117.47,518.4 L118.39,520.87 L116.3,523.06 L117.05,524.63 L119.83,523.88 L121.15,526.11 L119.82,529.3 L120.81,530.65 L123.04,528.7 L124.66,530.5 L124.2,534.42 L125.33,535.44 L126.85,532.45 L128.63,533.69 L129.06,538.02 L130.26,538.62 L130.93,534.84 L132.73,535.41 L134.03,539.81 L135.19,539.94 L134.96,535.67 L136.63,535.52 L138.7,539.63Z" fill="#fff" stroke="#000" stroke-width="1.0" stroke-linejoin="round" />
<g clip-path="url(#c11)">
<line x1="139.73" y1="539.29" x2="177.74" y2="523.93" stroke="#000" stroke-width="0.95" stroke-linecap="round"/>
<line x1="138.61" y1="534.88" x2="176.62" y2="519.52" stroke="#000" stroke-width="0.95" stroke-linecap="round"/>
<line x1="121.9" y1="491.57" x2="159.92" y2="476.21" stroke="#000" stroke-width="0.95" stroke-linecap="round"/>
<line x1="120.87" y1="491.91" x2="158.89" y2="476.55" stroke="#000" stroke-width="0.95" stroke-linecap="round"/>
<line x1="121.99" y1="496.32" x2="160" y2="480.96" stroke="#000" stroke-width="0.95" stroke-linecap="round"/>
<line x1="120.58" y1="497.18" x2="158.59" y2="481.82" stroke="#000" stroke-width="0.95" stroke-linecap="round"/>
<line x1="117.92" y1="493.7" x2="155.93" y2="478.34" stroke="#000" stroke-width="0.95" stroke-linecap="round"/>
<line x1="117.1" y1="494.48" x2="155.12" y2="479.12" stroke="#000" stroke-width="0.95" stroke-linecap="round"/>
<line x1="119.01" y1="498.68" x2="157.02" y2="483.32" stroke="#000" stroke-width="0.95" stroke-linecap="round"/>
<line x1="117.98" y1="500.17" x2="155.99" y2="484.81" stroke="#000" stroke-width="0.95" stroke-linecap="round"/>
<line x1="114.94" y1="497.59" x2="152.95" y2="482.23" stroke="#000" stroke-width="0.95" stroke-linecap="round"/>
<line x1="114.4" y1="498.76" x2="152.42" y2="483.4" stroke="#000" stroke-width="0.95" stroke-linecap="round"/>
<line x1="116.95" y1="502.41" x2="154.96" y2="487.05" stroke="#000" stroke-width="0.95" stroke-linecap="round"/>
<line x1="116.37" y1="504.41" x2="154.39" y2="489.05" stroke="#000" stroke-width="0.95" stroke-linecap="round"/>
<line x1="113.2" y1="502.95" x2="151.22" y2="487.59" stroke="#000" stroke-width="0.95" stroke-linecap="round"/>
<line x1="112.99" y1="504.41" x2="151" y2="489.05" stroke="#000" stroke-width="0.95" stroke-linecap="round"/>
<line x1="115.96" y1="507.21" x2="153.98" y2="491.85" stroke="#000" stroke-width="0.95" stroke-linecap="round"/>
<line x1="115.9" y1="509.56" x2="153.91" y2="494.2" stroke="#000" stroke-width="0.95" stroke-linecap="round"/>
<line x1="112.85" y1="509.33" x2="150.86" y2="493.97" stroke="#000" stroke-width="0.95" stroke-linecap="round"/>
<line x1="112.98" y1="510.96" x2="150.99" y2="495.6" stroke="#000" stroke-width="0.95" stroke-linecap="round"/>
<line x1="116.14" y1="512.68" x2="154.15" y2="497.33" stroke="#000" stroke-width="0.95" stroke-linecap="round"/>
<line x1="116.59" y1="515.2" x2="154.6" y2="499.84" stroke="#000" stroke-width="0.95" stroke-linecap="round"/>
<line x1="113.91" y1="516.22" x2="151.93" y2="500.86" stroke="#000" stroke-width="0.95" stroke-linecap="round"/>
<line x1="114.37" y1="517.89" x2="152.38" y2="502.53" stroke="#000" stroke-width="0.95" stroke-linecap="round"/>
<line x1="117.47" y1="518.4" x2="155.48" y2="503.04" stroke="#000" stroke-width="0.95" stroke-linecap="round"/>
<line x1="118.39" y1="520.87" x2="156.4" y2="505.51" stroke="#000" stroke-width="0.95" stroke-linecap="round"/>
<line x1="116.3" y1="523.06" x2="154.31" y2="507.7" stroke="#000" stroke-width="0.95" stroke-linecap="round"/>
<line x1="117.05" y1="524.63" x2="155.07" y2="509.28" stroke="#000" stroke-width="0.95" stroke-linecap="round"/>
<line x1="119.83" y1="523.88" x2="157.85" y2="508.52" stroke="#000" stroke-width="0.95" stroke-linecap="round"/>
<line x1="121.15" y1="526.11" x2="159.17" y2="510.75" stroke="#000" stroke-width="0.95" stroke-linecap="round"/>
<line x1="119.82" y1="529.3" x2="157.84" y2="513.94" stroke="#000" stroke-width="0.95" stroke-linecap="round"/>
<line x1="120.81" y1="530.65" x2="158.82" y2="515.29" stroke="#000" stroke-width="0.95" stroke-linecap="round"/>
<line x1="123.04" y1="528.7" x2="161.06" y2="513.34" stroke="#000" stroke-width="0.95" stroke-linecap="round"/>
<line x1="124.66" y1="530.5" x2="162.68" y2="515.14" stroke="#000" stroke-width="0.95" stroke-linecap="round"/>
<line x1="124.2" y1="534.42" x2="162.21" y2="519.06" stroke="#000" stroke-width="0.95" stroke-linecap="round"/>
<line x1="125.33" y1="535.44" x2="163.35" y2="520.08" stroke="#000" stroke-width="0.95" stroke-linecap="round"/>
<line x1="126.85" y1="532.45" x2="164.86" y2="517.09" stroke="#000" stroke-width="0.95" stroke-linecap="round"/>
<line x1="128.63" y1="533.69" x2="166.64" y2="518.33" stroke="#000" stroke-width="0.95" stroke-linecap="round"/>
<line x1="129.06" y1="538.02" x2="167.08" y2="522.66" stroke="#000" stroke-width="0.95" stroke-linecap="round"/>
<line x1="130.26" y1="538.62" x2="168.28" y2="523.27" stroke="#000" stroke-width="0.95" stroke-linecap="round"/>
<line x1="130.93" y1="534.84" x2="168.94" y2="519.48" stroke="#000" stroke-width="0.95" stroke-linecap="round"/>
<line x1="132.73" y1="535.41" x2="170.74" y2="520.05" stroke="#000" stroke-width="0.95" stroke-linecap="round"/>
<line x1="134.03" y1="539.81" x2="172.05" y2="524.45" stroke="#000" stroke-width="0.95" stroke-linecap="round"/>
<line x1="135.19" y1="539.94" x2="173.21" y2="524.59" stroke="#000" stroke-width="0.95" stroke-linecap="round"/>
<line x1="134.96" y1="535.67" x2="172.97" y2="520.31" stroke="#000" stroke-width="0.95" stroke-linecap="round"/>
<line x1="136.63" y1="535.52" x2="174.64" y2="520.16" stroke="#000" stroke-width="0.95" stroke-linecap="round"/>
<line x1="138.7" y1="539.63" x2="176.71" y2="524.27" stroke="#000" stroke-width="0.95" stroke-linecap="round"/>
<path d="M177.74,523.93 L176.62,519.52 L178.03,518.66 L180.69,522.15 L181.51,521.36 L179.6,517.16 L180.64,515.67 L183.68,518.25 L184.21,517.08 L181.67,513.43 L182.24,511.43 L185.41,512.89 L185.63,511.43 L182.65,508.63 L182.72,506.28 L185.77,506.51 L185.64,504.88 L182.47,503.16 L182.03,500.64 L184.7,499.62 L184.25,497.95 L181.15,497.44 L180.23,494.97 L182.31,492.78 L181.56,491.21 L178.78,491.96 L177.46,489.73 L178.79,486.54 L177.81,485.2 L175.57,487.14 L173.95,485.34 L174.42,481.42 L173.28,480.4 L171.77,483.39 L169.99,482.15 L169.55,477.82 L168.35,477.22 L167.69,481 L165.89,480.43 L164.58,476.03 L163.42,475.9 L163.66,480.17 L161.99,480.32 L159.92,476.21 L158.89,476.55 L160,480.96 L158.59,481.82 L155.93,478.34 L155.12,479.12 L157.02,483.32 L155.99,484.81 L152.95,482.23 L152.42,483.4 L154.96,487.05 L154.39,489.05 L151.22,487.59 L151,489.05 L153.98,491.85 L153.91,494.2 L150.86,493.97 L150.99,495.6 L154.15,497.33 L154.6,499.84 L151.93,500.86 L152.38,502.53 L155.48,503.04 L156.4,505.51 L154.31,507.7 L155.07,509.28 L157.85,508.52 L159.17,510.75 L157.84,513.94 L158.82,515.29 L161.06,513.34 L162.68,515.14 L162.21,519.06 L163.35,520.08 L164.86,517.09 L166.64,518.33 L167.08,522.66 L168.28,523.27 L168.94,519.48 L170.74,520.05 L172.05,524.45 L173.21,524.59 L172.97,520.31 L174.64,520.16 L176.71,524.27Z" fill="none" stroke="#000" stroke-width="0.8" stroke-linejoin="round" />
</g>
<line x1="134.01" y1="514.1" x2="91.5" y2="533" stroke="#000" stroke-width="0.9" stroke-linecap="round"/>
<line x1="248.75" y1="415" x2="248.75" y2="446.5" stroke="#000" stroke-width="0.8" stroke-linecap="round"/>
<line x1="273.8" y1="403.7" x2="273.8" y2="434.5" stroke="#000" stroke-width="0.8" stroke-linecap="round"/>
<path d="M238,409.9 L240.3,407.9 L253.8,403.9 L256.3,404.6 L256.4,406.6 L254.6,408.3 L242,414.2 L239.3,414.4 L238,413Z" fill="#fff" stroke="#000" stroke-width="1.3" stroke-linejoin="round" />
<path d="M238.6,410.4 L240.5,408.5 L253.8,404.5 L255.7,405.1 L255.6,405.9 L240,411.6Z" fill="#ddd" stroke="none" stroke-linejoin="round" />
<line x1="239.6" y1="411.7" x2="255.8" y2="406.2" stroke="#000" stroke-width="0.8" stroke-linecap="round"/>
<path d="M262.7,398.9 L265,396.9 L278.5,392.9 L281,393.6 L281.1,395.6 L279.3,397.3 L266.7,403.2 L264,403.4 L262.7,402Z" fill="#fff" stroke="#000" stroke-width="1.3" stroke-linejoin="round" />
<path d="M263.3,399.4 L265.2,397.5 L278.5,393.5 L280.4,394.1 L280.3,394.9 L264.7,400.6Z" fill="#ddd" stroke="none" stroke-linejoin="round" />
<line x1="264.3" y1="400.7" x2="280.5" y2="395.2" stroke="#000" stroke-width="0.8" stroke-linecap="round"/>
<g transform="translate(436.40,69.70) scale(0.93,1)"><text x="-3.34" y="0" font-size="12.0" stroke="#000" stroke-width="0.5">4</text></g>
<g transform="translate(257.80,137.70) scale(0.93,1)"><text x="-3.34" y="0" font-size="12.0" stroke="#000" stroke-width="0.5">6</text></g>
<g transform="translate(126.20,191.50) scale(0.93,1)"><text x="-3.34" y="0" font-size="12.0" stroke="#000" stroke-width="0.5">8</text></g>
<g transform="translate(118.20,237.30) scale(0.93,1)"><text x="-3.34" y="0" font-size="12.0" stroke="#000" stroke-width="0.5">9</text></g>
<g transform="translate(164.50,220.00) scale(0.93,1)"><path d="M-2.23,0 L-2.23,-8.59 M-2.23,-8.35 Q-3.19,-6.67 -5.23,-5.95" fill="none" stroke="#000" stroke-width="1.38" stroke-linecap="butt"/><text x="0.00" y="0" font-size="12.0" stroke="#000" stroke-width="0.5">0</text></g>
<g transform="translate(204.50,205.70) scale(0.93,1)"><text x="-3.34" y="0" font-size="12.0" stroke="#000" stroke-width="0.5">7</text></g>
<g transform="translate(72.30,258.70) scale(0.93,1)"><path d="M-2.23,0 L-2.23,-8.59 M-2.23,-8.35 Q-3.19,-6.67 -5.23,-5.95" fill="none" stroke="#000" stroke-width="1.38" stroke-linecap="butt"/><text x="0.00" y="0" font-size="12.0" stroke="#000" stroke-width="0.5">4</text></g>
<g transform="translate(31.80,276.50) scale(0.93,1)"><path d="M-2.23,0 L-2.23,-8.59 M-2.23,-8.35 Q-3.19,-6.67 -5.23,-5.95" fill="none" stroke="#000" stroke-width="1.38" stroke-linecap="butt"/><text x="0.00" y="0" font-size="12.0" stroke="#000" stroke-width="0.5">5</text></g>
<g transform="translate(471.50,263.20) scale(0.93,1)"><path d="M-2.23,0 L-2.23,-8.59 M-2.23,-8.35 Q-3.19,-6.67 -5.23,-5.95" fill="none" stroke="#000" stroke-width="1.38" stroke-linecap="butt"/><path d="M4.44,0 L4.44,-8.59 M4.44,-8.35 Q3.48,-6.67 1.44,-5.95" fill="none" stroke="#000" stroke-width="1.38" stroke-linecap="butt"/></g>
<g transform="translate(512.50,302.20) scale(0.93,1)"><path d="M-2.23,0 L-2.23,-8.59 M-2.23,-8.35 Q-3.19,-6.67 -5.23,-5.95" fill="none" stroke="#000" stroke-width="1.38" stroke-linecap="butt"/><text x="0.00" y="0" font-size="12.0" stroke="#000" stroke-width="0.5">2</text></g>
<g transform="translate(468.00,321.20) scale(0.93,1)"><path d="M-2.23,0 L-2.23,-8.59 M-2.23,-8.35 Q-3.19,-6.67 -5.23,-5.95" fill="none" stroke="#000" stroke-width="1.38" stroke-linecap="butt"/><text x="0.00" y="0" font-size="12.0" stroke="#000" stroke-width="0.5">3</text></g>
<g transform="translate(350.50,358.20) scale(0.93,1)"><path d="M1.10,0 L1.10,-8.59 M1.10,-8.35 Q0.14,-6.67 -1.90,-5.95" fill="none" stroke="#000" stroke-width="1.38" stroke-linecap="butt"/></g>
<g transform="translate(236.00,387.70) scale(0.93,1)"><text x="-3.34" y="0" font-size="12.0" stroke="#000" stroke-width="0.5">2</text></g>
<g transform="translate(260.00,377.20) scale(0.93,1)"><text x="-3.34" y="0" font-size="12.0" stroke="#000" stroke-width="0.5">2</text></g>
<g transform="translate(137.50,441.70) scale(0.93,1)"><text x="-3.34" y="0" font-size="12.0" stroke="#000" stroke-width="0.5">3</text></g>
<line x1="439.5" y1="73.5" x2="454" y2="108" stroke="#000" stroke-width="1.0" stroke-linecap="round"/>
<line x1="260" y1="140" x2="272" y2="165" stroke="#000" stroke-width="1.0" stroke-linecap="round"/>
<line x1="207.7" y1="207.7" x2="216" y2="226.5" stroke="#000" stroke-width="1.0" stroke-linecap="round"/>
<line x1="76" y1="261.5" x2="86" y2="282.4" stroke="#000" stroke-width="1.0" stroke-linecap="round"/>
<line x1="37.5" y1="279.5" x2="47" y2="299" stroke="#000" stroke-width="1.0" stroke-linecap="round"/>
<line x1="122.7" y1="241" x2="132.2" y2="264.6" stroke="#000" stroke-width="1.0" stroke-linecap="round"/>
<line x1="168.7" y1="223.7" x2="178.7" y2="247" stroke="#000" stroke-width="1.0" stroke-linecap="round"/>
<line x1="141.7" y1="445.7" x2="149.8" y2="465.5" stroke="#000" stroke-width="1.0" stroke-linecap="round"/>
<line x1="353.5" y1="362" x2="362.8" y2="386.7" stroke="#000" stroke-width="1.0" stroke-linecap="round"/>
<line x1="518.75" y1="305" x2="525" y2="318.75" stroke="#000" stroke-width="1.0" stroke-linecap="round"/>
<line x1="473.75" y1="325" x2="481.25" y2="341.25" stroke="#000" stroke-width="1.0" stroke-linecap="round"/>
<line x1="364.3" y1="111.8" x2="371.4" y2="130" stroke="#000" stroke-width="1.0" stroke-linecap="round"/>
<line x1="239" y1="392" x2="245" y2="406" stroke="#000" stroke-width="1.0" stroke-linecap="round"/>
<line x1="263" y1="381.5" x2="269.7" y2="395.5" stroke="#000" stroke-width="1.0" stroke-linecap="round"/>
<path d="M114,221.7 L110.4,211.7 L155.7,192.3 L160.7,204" fill="none" stroke="#000" stroke-width="1.2" stroke-linejoin="round" />
<line x1="132.3" y1="202.6" x2="129.3" y2="193.7" stroke="#000" stroke-width="1.2" stroke-linecap="round"/>
<path d="M467.5,309 L459.5,289.5 L505.5,270.5 L512.5,288.75" fill="none" stroke="#000" stroke-width="1.2" stroke-linejoin="round" />
<line x1="481" y1="279.5" x2="477" y2="266" stroke="#000" stroke-width="1.2" stroke-linecap="round"/>
<circle cx="360" cy="102.4" r="9.4" fill="#cdd7ea" stroke="#d8282a" stroke-width="2"/>
<text x="360.1" y="106.9" font-size="12" text-anchor="middle" font-weight="bold" fill="#2c3350">5</text>
</g>
<text x="592" y="592" font-family="Liberation Sans, sans-serif" font-size="19.5" text-anchor="end" textLength="141.5" lengthAdjust="spacingAndGlyphs">*Imagem ilustrativa</text>
</svg></body></html>
